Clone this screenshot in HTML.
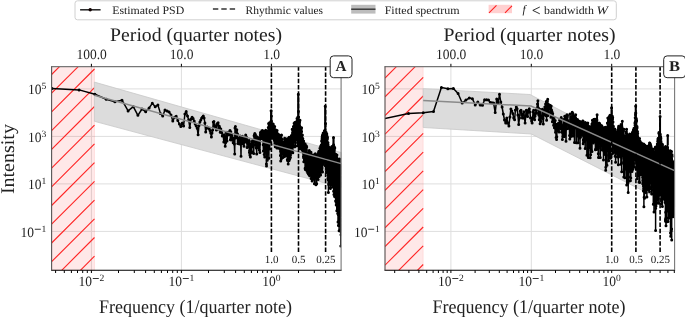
<!DOCTYPE html><html><head><meta charset="utf-8"><style>html,body{margin:0;padding:0;background:#fff;overflow:hidden}svg{display:block}text{font-family:"Liberation Serif",serif;fill:#222}</style></head><body>
<svg width="685" height="317" viewBox="0 0 685 317" style="text-rendering:geometricPrecision;will-change:transform">
<rect width="685" height="317" fill="#fff"/>
<clipPath id="cA"><rect x="51.6" y="66.6" width="289.5" height="203.7"/></clipPath>
<path d="M51.6 88.9H341.1M51.6 136.4H341.1M51.6 183.9H341.1M51.6 231.4H341.1M91.4 66.6V270.3M181.4 66.6V270.3" stroke="#dedede" stroke-width="1" fill="none"/>
<rect x="51.6" y="66.6" width="42.9" height="203.7" fill="#ff0000" fill-opacity="0.09" stroke="#ff0000" stroke-opacity="0.08" stroke-width="1"/>
<path d="M51.6 74.5L59.5 66.6M51.6 93.2L78.2 66.6M51.6 111.9L94.5 69M51.6 130.6L94.5 87.7M51.6 149.4L94.5 106.5M51.6 168.1L94.5 125.2M51.6 186.8L94.5 143.9M51.6 205.5L94.5 162.6M51.6 224.2L94.5 181.3M51.6 243L94.5 200.1M51.6 261.7L94.5 218.8M61.7 270.3L94.5 237.5M80.4 270.3L94.5 256.2" stroke="#ff2828" stroke-width="1.15" fill="none" clip-path="url(#cA)"/>
<path d="M94.4 82.1 L341.1 152.5 L341.1 187.4 L94.4 121.3Z" fill="#dcdcdc" stroke="#c8c8c8" stroke-width="0.8"/>
<g clip-path="url(#cA)">
<path d="M52 88.6L79.1 89.9L94.9 94.2L106.2 99.3L114.9 101.8L122 100.2L128.1 110.9L133.3 106.7L137.9 115.3L142 109L145.7 111.8L149.1 108L152.3 103.3L155.2 106.8L157.9 104.9L160.4 113.4L162.7 116L165 110.1L167.1 111.1L169.1 112L171 114.9L172.8 121L174.6 117.2L176.2 116.3L177.8 120.5L179.4 124L180.8 126.5L182.3 123L183.6 126L184.9 114L186.2 111.5L187.5 116L188.7 120L189.8 127.5L191 119L192.1 117.2L193.1 118.5L194.2 121L195.2 124L196.2 126L197.2 128.2L198.1 134.8L199 125.4L199.9 122L200.8 120L201.7 118L202.5 117L203.3 116L204.1 118L204.9 123L205.7 132L206.4 128L207.2 127L207.9 127.5L208.6 128.2L209.3 129L210 130.4L210.7 133L211.4 137L212 133L212.7 130L213.3 122L213.9 121.6L214.6 126.8L215.2 127.4L215.8 125.7L216.4 130.1L216.9 123.9L217.5 123.2L218.1 122.8L218.6 128.9L219.2 126L219.7 127.5L220.2 132.3L220.8 129L221.3 131.7L221.8 132.8L222.3 135.9L222.8 135.7L223.3 136L223.8 142.1L224.2 134.7L224.7 136.7L225.2 146.3L225.7 142.6L226.1 132.2L226.6 138.6L227 141L227.5 132.6L227.9 135L228.3 132.6L228.7 132.1L229.2 132.5L229.6 134.5L230 130.4L230.4 139.7L230.8 131.7L231.2 139.9L231.6 135L232 135.5L232.4 137.9L232.8 138.2L233.2 142.8L233.5 139.9L233.9 137.9L234.3 144L234.7 154L235 127.9L235.4 126.4L235.7 135.6L236.1 137.9L236.4 131.2L236.8 129.8L237.1 133.5L237.5 133.9L237.8 143.5L238.1 140.9L238.5 138.3L238.8 139L239.1 143.2L239.5 144L239.8 141.4L240.1 136.1L240.4 143.1L240.7 142.1L241 156.3L241.3 138.8L241.7 143.6L242 137.1L242.3 136.2L242.6 143.8L242.9 138L243.2 141L243.4 143.1L243.7 142.4L244 146.2L244.3 138.2L244.6 137.2L244.9 138.5L245.2 141.9L245.4 138.9L245.7 135.1L246 136.5L246.3 140.5L246.5 137.3L246.8 139.6L247.1 147.5L247.3 140.7L247.6 143L247.9 141L248.1 141.4L248.4 142.1L248.6 144.3L248.9 146.7L249.1 140.4L249.4 152.6L249.6 150.7L249.9 155.1L250.1 146.2L250.4 157L250.6 143.7L250.9 145L251.1 152.7L251.3 144.6L251.6 151.4L251.8 141.8L252.1 145.4L252.3 141.3L252.5 145.6L252.7 140.6L253 146.7L253.2 145.3L253.4 140.6L253.7 153.5L253.9 142.3L254.1 135.7L254.3 140L254.5 134.4L254.8 133.5L255 136.4L255.2 142.5L255.4 134.5L255.6 144.1L255.8 145.2L256.1 138.4L256.3 148.1L256.5 147.6L256.7 154.1L256.9 136.7L257.1 140L257.3 144.4L257.5 141.1L257.7 146.1L257.9 144.7L258.1 137.5L258.3 147.3L258.5 139.7L258.7 147.6L258.9 145.6L259.1 141.2L259.3 149.9L259.5 144.3L259.7 140.1L259.9 152.4L260.1 137.8L260.3 134.9L260.4 132.7L260.6 132.9L260.8 132L261 135.6L261.2 136.6L261.4 138.5L261.6 133.1L261.7 131.2L261.9 135.9L262.1 136.7L262.3 130.4L262.5 134L262.6 137.1L262.8 134.9L263 131L263.2 144.8L263.4 151.1L263.5 137.9L263.7 138.9L263.9 131.3L264 139.4L264.2 154.5L264.4 132.3L264.6 141.6L264.7 156.9L264.9 138.7L265.1 140L265.2 131.2L265.4 151L265.6 135.3L265.7 130.3L265.9 152.3L266.1 140L266.2 139.4L266.4 164L266.5 166L266.7 130.8L266.9 145.6L267 148.1L267.2 141.1L267.3 160.2L267.5 131.8L267.7 139L267.8 142.4L268 145.8L268.1 134.9L268.3 127.5L268.4 130.9L268.6 123.6L268.7 140.2L268.9 158.2L269.1 130.3L269.2 132.9L269.4 129.4L269.5 122.7L269.7 148.9L269.8 135.3L270 124.4L270.1 133L270.2 128.4L270.4 132.8L270.5 129.1L270.7 143.2L270.8 129L271 121.2L271.1 110.8L271.3 127.8L271.4 116L271.5 121.2L271.7 123.4L271.8 135.6L272 132.5L272.1 126.7L272.3 136.5L272.4 138.3L272.5 137.3L272.7 129.1L272.8 131.6L272.9 127.4L273.1 138.1L273.2 124L273.4 130.7L273.5 125.5L273.6 126L273.8 128.7L273.9 134L274 134.9L274.2 131.4L274.3 140.6L274.4 134.7L274.6 136.8L274.7 126.5L274.8 143.1L274.9 137.2L275.1 132.3L275.2 146.7L275.3 137.7L275.5 129.7L275.6 142L275.7 135.7L275.8 140.9L276 135.1L276.1 144.1L276.2 140.9L276.4 140.3L276.5 132L276.6 142.1L276.7 133.8L276.9 147.9L277 135.8L277.1 130.6L277.2 136.1L277.3 133.3L277.5 141L277.6 134L277.7 135.7L277.8 134.8L278 142.3L278.1 135.2L278.2 141.6L278.3 134.3L278.4 135.4L278.6 134.5L278.7 148.2L278.8 146.4L278.9 144.1L279 147.7L279.1 135.5L279.3 140.5L279.4 140L279.5 135.4L279.6 140.6L279.7 137.4L279.8 138.8L280 148.1L280.1 141L280.2 138.3L280.3 149.3L280.4 155.5L280.5 147.3L280.6 151.3L280.7 161L280.9 147.2L281 141.1L281.1 146.3L281.2 138.9L281.3 159L281.4 145L281.5 135L281.6 142.5L281.7 150.5L281.9 139.2L282 143.3L282.1 149.1L282.2 146.3L282.3 142.5L282.4 149L282.5 154L282.6 142L282.7 152.7L282.8 143.4L282.9 151.1L283 157.4L283.1 145.6L283.3 145.4L283.4 148.9L283.5 151.3L283.6 142.1L283.7 144.3L283.8 145.3L283.9 143L284 143.5L284.1 143.9L284.2 145.5L284.3 149.9L284.4 152.5L284.5 156.5L284.6 150.1L284.7 138.2L284.8 139.3L284.9 151.7L285 144.7L285.1 149L285.2 140L285.3 146.7L285.4 143.3L285.5 141.1L285.6 146.3L285.7 141L285.8 154.7L285.9 140.7L286 140.9L286.1 155.8L286.2 147.5L286.3 154.2L286.4 144.3L286.5 142.8L286.6 142.9L286.7 143.5L286.8 151.3L286.9 143.7L287 149.4L287.1 150.6L287.2 151.9L287.3 138.7L287.3 159.8L287.4 152.6L287.5 160.6L287.6 145.2L287.7 141.1L287.8 153.2L287.9 159.5L288 153.7L288.1 146.1L288.2 163.9L288.3 153.3L288.4 152L288.5 151.4L288.6 145.1L288.7 152.3L288.7 142.1L288.8 147.2L288.9 140.6L289 160.8L289.1 137.3L289.2 138.9L289.3 146.8L289.4 142L289.5 146.9L289.6 148.1L289.6 143.8L289.7 159.3L289.8 139.8L289.9 149.2L290 153.8L290.1 137.4L290.2 144.1L290.3 157.2L290.4 157.6L290.4 143.4L290.5 155.1L290.6 149.9L290.7 148.2L290.8 145.9L290.9 136.9L291 141.5L291.1 148.6L291.1 152.4L291.2 136.4L291.3 137.9L291.4 135.5L291.5 147.3L291.6 136.8L291.7 137.4L291.7 149.5L291.8 146.6L291.9 145.8L292 143.8L292.1 144.6L292.2 138.7L292.2 129.2L292.3 139.2L292.4 142.2L292.5 145.8L292.6 133.1L292.7 134.4L292.7 140.2L292.8 152.7L292.9 137.8L293 136.6L293.1 145.9L293.2 134.3L293.2 142.3L293.3 130.4L293.4 126.6L293.5 146.7L293.6 132.2L293.6 136L293.7 129.2L293.8 133.7L293.9 141.5L294 127.8L294 130.9L294.1 123.3L294.2 133.6L294.3 135L294.4 140.3L294.4 127.3L294.5 123.3L294.6 129.9L294.7 123.3L294.8 122.4L294.8 139.3L294.9 125.5L295 131L295.1 128.2L295.1 146.8L295.2 134.8L295.3 146.2L295.4 130.2L295.5 129.8L295.5 123.7L295.6 122.3L295.7 134.4L295.8 135.9L295.8 125.7L295.9 128.4L296 129.8L296.1 135.8L296.1 140L296.2 132.9L296.3 132.8L296.4 135.2L296.4 122.7L296.5 130.1L296.6 130.7L296.7 126.8L296.7 131.3L296.8 126L296.9 128.6L297 121.2L297 118.6L297.1 136L297.2 120.5L297.3 137.8L297.3 130.1L297.4 132.2L297.5 142.8L297.6 133.8L297.6 135.3L297.7 145.5L297.8 136.4L297.8 120.8L297.9 117L298 133.6L298.1 118.2L298.1 132.4L298.2 122.8L298.3 94.2L298.4 122L298.4 111.5L298.5 137.2L298.6 134.9L298.6 117.1L298.7 126.1L298.8 124.3L298.9 128.7L298.9 135.9L299 146.7L299.1 138.9L299.1 144.1L299.2 135L299.3 128L299.3 136.3L299.4 139.2L299.5 122L299.6 128.9L299.6 132.5L299.7 148.7L299.8 136.5L299.8 126.3L299.9 127.4L300 120.2L300 140.5L300.1 129.8L300.2 127L300.2 133.7L300.3 138.7L300.4 130.6L300.4 126.9L300.5 137.9L300.6 127.9L300.6 140.9L300.7 127.8L300.8 143.9L300.8 129.9L300.9 140.8L301 129.8L301.1 127.9L301.1 129L301.2 141.9L301.3 147.7L301.3 134.6L301.4 144.4L301.4 136.3L301.5 141.3L301.6 131.5L301.6 127.7L301.7 145.7L301.8 139.2L301.8 138.6L301.9 142.2L302 145.7L302 140.1L302.1 146.6L302.2 148L302.2 149.9L302.3 145.8L302.4 139.2L302.4 135L302.5 149.5L302.6 146.6L302.6 142.6L302.7 147L302.8 148.4L302.8 138.6L302.9 151.1L302.9 145.5L303 151.7L303.1 146.8L303.1 148.2L303.2 151.3L303.3 150.1L303.3 148.1L303.4 156.5L303.4 151.8L303.5 153.5L303.6 157.8L303.6 141.1L303.7 147.7L303.8 161.8L303.8 153.6L303.9 146L303.9 154.7L304 148.6L304.1 144L304.1 156.5L304.2 150.5L304.3 146.3L304.3 148.7L304.4 157.3L304.4 151.2L304.5 152.8L304.6 158.1L304.6 158.6L304.7 150.2L304.7 151.3L304.8 143.8L304.9 149L304.9 149.6L305 152L305 159.7L305.1 168.2L305.2 158.6L305.2 159.7L305.3 144.3L305.3 169.5L305.4 149L305.5 147.1L305.5 159.2L305.6 147.5L305.6 159.8L305.7 161.8L305.8 159.8L305.8 162.1L305.9 161.2L305.9 158.5L306 155.9L306.1 149.8L306.1 154.9L306.2 168L306.2 155.1L306.3 156.2L306.4 146L306.4 155.1L306.5 159L306.5 153.5L306.6 165L306.6 158.8L306.7 147.1L306.8 160L306.8 153.2L306.9 156.9L306.9 164.5L307 171.3L307 156.7L307.1 162.5L307.2 156.2L307.2 158.6L307.3 153.7L307.3 155.9L307.4 153.5L307.4 167.2L307.5 163.8L307.6 154.7L307.6 160L307.7 163.9L307.7 172.7L307.8 159.5L307.8 170.3L307.9 169.7L308 161L308 161.3L308.1 162.9L308.1 162.7L308.2 162.5L308.2 164.4L308.3 153.3L308.3 174L308.4 162.6L308.5 165.9L308.5 161L308.6 156L308.6 156.4L308.7 162.8L308.7 151.5L308.8 151.3L308.8 166.3L308.9 168.5L308.9 151L309 159.6L309.1 152.1L309.1 154.4L309.2 150.5L309.2 174.7L309.3 170L309.3 168.1L309.4 150.9L309.4 155.5L309.5 154.5L309.5 175.8L309.6 168.3L309.7 152.6L309.7 165.4L309.8 170.1L309.8 170.8L309.9 151.4L309.9 175.6L310 153L310 161.3L310.1 174.2L310.1 160.4L310.2 154.4L310.2 159L310.3 164.6L310.3 159.6L310.4 171.3L310.4 163.5L310.5 153L310.6 166.5L310.6 158.8L310.7 172.4L310.7 164.6L310.8 161L310.8 160L310.9 164.8L310.9 169.2L311 152.3L311 171.1L311.1 178.4L311.1 170.8L311.2 158.1L311.2 169.6L311.3 172L311.3 154.3L311.4 169.7L311.4 168.7L311.5 157.6L311.5 167.3L311.6 157.2L311.6 169L311.7 162.8L311.7 170.4L311.8 158L311.8 172.5L311.9 164.4L311.9 165.9L312 157.3L312 161.8L312.1 156.2L312.1 181L312.2 155.4L312.2 170.6L312.3 166.5L312.3 164.8L312.4 175.8L312.4 172.7L312.5 166.1L312.5 170.9L312.6 174.7L312.6 171.9L312.7 159.3L312.7 177.3L312.8 155.4L312.8 179.6L312.9 164L312.9 174.5L313 167.3L313 167L313.1 175.8L313.1 163.2L313.2 157.9L313.2 176.9L313.3 155.2L313.3 162.4L313.4 175.1L313.4 155.4L313.5 170.8L313.5 177.3L313.6 178.6L313.6 176.4L313.7 161.4L313.7 172.2L313.8 162L313.8 157.3L313.9 158.4L313.9 157.8L314 154.7L314 160.7L314.1 175.5L314.1 158.9L314.2 157.9L314.2 175.2L314.2 166.2L314.3 174.9L314.3 170.4L314.4 160.9L314.4 183.7L314.5 159.1L314.5 162L314.6 159.4L314.6 175.8L314.7 159.8L314.7 163.4L314.8 158.5L314.8 157.1L314.9 172L314.9 167.4L315 162.1L315 178.3L315.1 161.4L315.1 155.3L315.1 161.6L315.2 154.2L315.2 162.9L315.3 153.7L315.3 167.8L315.4 165.3L315.4 159.4L315.5 157.3L315.5 174L315.6 158.7L315.6 155.8L315.7 166.6L315.7 158.9L315.7 172.1L315.8 168.7L315.8 155.1L315.9 164.1L315.9 154.8L316 162.1L316 184.8L316.1 176.3L316.1 160.1L316.2 164.3L316.2 164.4L316.2 155.7L316.3 166L316.3 158.4L316.4 174.5L316.4 163L316.5 164.3L316.5 156.9L316.6 177.4L316.6 167.2L316.7 167.7L316.7 183.8L316.7 159.5L316.8 161L316.8 155.9L316.9 171.1L316.9 155.6L317 168.2L317 171L317.1 178.4L317.1 165.8L317.1 156.7L317.2 157.1L317.2 174.1L317.3 167.3L317.3 157.6L317.4 175.8L317.4 163.5L317.5 166L317.5 175.6L317.5 161.5L317.6 161.4L317.6 176.4L317.7 174.7L317.7 173.1L317.8 179.3L317.8 175L317.8 163L317.9 161.6L317.9 154.6L318 164.7L318 174.6L318.1 171.3L318.1 173.2L318.1 179.4L318.2 167.8L318.2 164.2L318.3 166.2L318.3 163.5L318.4 174.5L318.4 157.8L318.4 153L318.5 174.4L318.5 156.6L318.6 163.4L318.6 152.7L318.7 157L318.7 156.7L318.7 151.4L318.8 170.9L318.8 163.8L318.9 154.1L318.9 160.8L319 164.7L319 162.8L319 164.5L319.1 176.5L319.1 155.8L319.2 162L319.2 174.2L319.3 168.8L319.3 151.2L319.3 160.4L319.4 159L319.4 167.6L319.5 154.8L319.5 167.5L319.5 157.4L319.6 165.8L319.6 170.1L319.7 161.7L319.7 167.3L319.8 160.4L319.8 166.3L319.8 151.5L319.9 148.3L319.9 162.9L320 172.5L320 163.5L320 159.5L320.1 166.3L320.1 157.8L320.2 157.6L320.2 167.7L320.2 160.3L320.3 152.3L320.3 151.1L320.4 162L320.4 170.5L320.5 168.4L320.5 171.3L320.5 157.3L320.6 146.2L320.6 175L320.7 169.8L320.7 159.5L320.7 158.8L320.8 163.1L320.8 154.2L320.9 153.8L320.9 162.4L320.9 146.5L321 154.6L321 156.7L321.1 160.4L321.1 152.4L321.1 165.4L321.2 151.3L321.2 165.4L321.3 145L321.3 161.3L321.3 169.7L321.4 153.3L321.4 149.3L321.5 155.3L321.5 145.8L321.5 157.8L321.6 169.1L321.6 141.1L321.7 162.8L321.7 159.8L321.7 170.5L321.8 156.4L321.8 144.6L321.8 155.1L321.9 157.7L321.9 168.1L322 150.3L322 138.9L322 152.4L322.1 155.1L322.1 137L322.2 172.1L322.2 158L322.2 139.9L322.3 137.3L322.3 153.2L322.4 148.6L322.4 135.2L322.4 152.7L322.5 147.7L322.5 141.1L322.5 172L322.6 142.9L322.6 159.8L322.7 152.4L322.7 148.6L322.7 139.9L322.8 156.1L322.8 142L322.9 147.9L322.9 139.6L322.9 143.5L323 164.3L323 144.8L323 134.1L323.1 159.2L323.1 140L323.2 141.2L323.2 132.9L323.2 143L323.3 154.9L323.3 140.5L323.4 135.8L323.4 158.9L323.4 136.7L323.5 155L323.5 162.7L323.5 162.3L323.6 138.7L323.6 135.5L323.7 139.7L323.7 150.2L323.7 139.1L323.8 137.9L323.8 135L323.8 148.5L323.9 155.8L323.9 152L324 140.8L324 133.5L324 133.7L324.1 141.9L324.1 139.8L324.1 140.2L324.2 134.1L324.2 139.1L324.2 159.3L324.3 158.4L324.3 134.1L324.4 130.7L324.4 151.1L324.4 142.9L324.5 152.1L324.5 156.8L324.5 149.7L324.6 133.1L324.6 152.9L324.7 130.6L324.7 162.2L324.7 138.9L324.8 130.4L324.8 149.5L324.8 155.8L324.9 151.8L324.9 142.8L324.9 140L325 165.4L325 149.1L325.1 138.6L325.1 154.3L325.1 157.8L325.2 133.9L325.2 106.3L325.2 155.1L325.3 133.8L325.3 143.3L325.3 151.1L325.4 155.2L325.4 144.3L325.4 151.7L325.5 123.4L325.5 135.2L325.6 132.8L325.6 155.5L325.6 148L325.7 150.8L325.7 139.4L325.7 142.8L325.8 138.2L325.8 136.4L325.8 152.6L325.9 139.8L325.9 146.1L325.9 143.4L326 159.8L326 148.3L326.1 135.7L326.1 150.3L326.1 156.1L326.2 134.2L326.2 142.6L326.2 132.5L326.3 137.3L326.3 146L326.3 142L326.4 143.5L326.4 133.6L326.4 171.8L326.5 134.4L326.5 165.4L326.5 135.6L326.6 147L326.6 150.9L326.6 172.5L326.7 154.2L326.7 155.2L326.7 141.3L326.8 133.9L326.8 162.2L326.9 139.7L326.9 162.8L326.9 139.5L327 162.6L327 145.3L327 153.5L327.1 163.6L327.1 136.2L327.1 157.1L327.2 160.2L327.2 169.1L327.2 153.5L327.3 146.6L327.3 139L327.3 142.2L327.4 171.9L327.4 138.2L327.4 144L327.5 137.2L327.5 169.2L327.5 153.5L327.6 162.6L327.6 153.9L327.6 154.8L327.7 169.9L327.7 144.9L327.7 155.9L327.8 152.5L327.8 142.5L327.8 157.4L327.9 175.3L327.9 178.3L327.9 164.6L328 142.7L328 178.7L328 167.7L328.1 156.6L328.1 145.1L328.1 169.9L328.2 147.7L328.2 158.8L328.2 160.8L328.3 166.8L328.3 149.7L328.3 180.1L328.4 150.1L328.4 192.6L328.4 166.7L328.5 165.1L328.5 154.9L328.5 150.5L328.6 169L328.6 162L328.6 163.2L328.7 167.6L328.7 175.5L328.7 184.5L328.8 150.3L328.8 161.5L328.8 183.4L328.9 176.3L328.9 176.3L328.9 155.7L329 147.3L329 162.7L329 170.2L329.1 168L329.1 179.9L329.1 175L329.2 175.7L329.2 178.1L329.2 160.8L329.3 182.8L329.3 148.3L329.3 150.5L329.4 177.3L329.4 181.9L329.4 156.5L329.5 163.8L329.5 168.9L329.5 147.7L329.6 177.2L329.6 167.9L329.6 172.9L329.7 152.5L329.7 167.4L329.7 177.5L329.7 147.7L329.8 152.9L329.8 179.9L329.8 148.7L329.9 177.9L329.9 162.1L329.9 153.4L330 162.1L330 156.8L330 170.1L330.1 155.2L330.1 165.8L330.1 163L330.2 149.6L330.2 161.1L330.2 187.8L330.3 151.1L330.3 173L330.3 159.1L330.4 158.8L330.4 168.1L330.4 184.3L330.4 188.5L330.5 180.1L330.5 171.8L330.5 162.4L330.6 177.4L330.6 182.4L330.6 160.5L330.7 175.5L330.7 171.9L330.7 169L330.8 152.2L330.8 161.3L330.8 166.7L330.9 158.6L330.9 162.2L330.9 150.6L330.9 165.8L331 169.8L331 158.8L331 167.8L331.1 160L331.1 169L331.1 154.1L331.2 183.9L331.2 176.1L331.2 179.5L331.3 165.4L331.3 157.8L331.3 148.5L331.3 157.4L331.4 155.5L331.4 154.8L331.4 179.2L331.5 154.5L331.5 182.8L331.5 150L331.6 179.4L331.6 152L331.6 166.8L331.7 170.5L331.7 154.6L331.7 174.4L331.7 161.6L331.8 159L331.8 161.8L331.8 169.6L331.9 164.6L331.9 155.7L331.9 146.5L332 167L332 147.9L332 153L332.1 174.7L332.1 176.4L332.1 166.5L332.1 167L332.2 168.6L332.2 173.5L332.2 172.4L332.3 174.6L332.3 174.4L332.3 162.9L332.4 165.3L332.4 151.2L332.4 185.6L332.4 174.1L332.5 181.8L332.5 173.4L332.5 147.1L332.6 148.2L332.6 165.9L332.6 179.7L332.7 151.2L332.7 172.3L332.7 151.5L332.7 187.1L332.8 180.9L332.8 168.4L332.8 174.2L332.9 156.9L332.9 149L332.9 147.4L332.9 159.5L333 147.1L333 167.4L333 153.7L333.1 160.2L333.1 151.7L333.1 167.9L333.2 181L333.2 165.3L333.2 176.4L333.2 154.1L333.3 175.2L333.3 156.6L333.3 178.1L333.4 170.2L333.4 161.4L333.4 178.3L333.4 178.5L333.5 174.5L333.5 137.6L333.5 183.4L333.6 144.8L333.6 183L333.6 191.3L333.6 173.9L333.7 151.2L333.7 148.2L333.7 181.9L333.8 180.6L333.8 146.4L333.8 177.4L333.9 146.9L333.9 154.9L333.9 149.9L333.9 194.4L334 181.9L334 166.1L334 150L334.1 165.6L334.1 159.4L334.1 184.4L334.1 153.6L334.2 183.2L334.2 156.5L334.2 156.3L334.3 146.7L334.3 163L334.3 161.1L334.3 195.2L334.4 169.6L334.4 176.3L334.4 184.7L334.5 163.6L334.5 164.7L334.5 163.4L334.5 164.6L334.6 191.3L334.6 196.5L334.6 158.2L334.7 163.8L334.7 155.9L334.7 185.3L334.7 188.6L334.8 179.1L334.8 177.1L334.8 162.2L334.8 147.9L334.9 187.4L334.9 175.5L334.9 159.2L335 183L335 181.8L335 165L335 175.2L335.1 178.5L335.1 192.2L335.1 183.9L335.2 173L335.2 157.9L335.2 175.8L335.2 176L335.3 162.9L335.3 190.1L335.3 181.9L335.4 193.9L335.4 154.5L335.4 191.5L335.4 158.5L335.5 164.7L335.5 169.9L335.5 177.8L335.5 157.3L335.6 200.9L335.6 174.8L335.6 191.8L335.7 160.6L335.7 171.2L335.7 165L335.7 170.1L335.8 154.3L335.8 181.8L335.8 162.4L335.8 167.3L335.9 165.8L335.9 158.3L335.9 197.2L336 175.3L336 185.3L336 190.3L336 174.8L336.1 195.8L336.1 173.9L336.1 202.2L336.2 204.9L336.2 173.5L336.2 171.4L336.2 194.2L336.3 182.1L336.3 202.4L336.3 155.5L336.3 179.1L336.4 199.5L336.4 179.9L336.4 178.1L336.4 182.1L336.5 190.9L336.5 176.3L336.5 191.6L336.6 196.7L336.6 160.9L336.6 158.7L336.6 160.1L336.7 196.3L336.7 157.6L336.7 194.2L336.7 157.7L336.8 178.1L336.8 210.7L336.8 203.8L336.9 173.6L336.9 155.1L336.9 170.4L336.9 172.6L337 203.8L337 184.1L337 200.9L337 170L337.1 158.4L337.1 176.8L337.1 183.5L337.1 176.5L337.2 167.1L337.2 187.7L337.2 173.8L337.3 179.4L337.3 174.5L337.3 202L337.3 197.2L337.4 190.4L337.4 210.5L337.4 207.4L337.4 181.4L337.5 158.9L337.5 160.2L337.5 166.7L337.5 189.3L337.6 185.7L337.6 196.3L337.6 168.8L337.6 164.9L337.7 168.6L337.7 162L337.7 213.5L337.8 196L337.8 211L337.8 165.8L337.8 198.6L337.9 207.2L337.9 170.7L337.9 176L337.9 166L338 176.4L338 165.9L338 222L338 173L338.1 165.6L338.1 202.2L338.1 199.4L338.1 208L338.2 213.6L338.2 214.5L338.2 177.1L338.2 203.7L338.3 214.1L338.3 188.5L338.3 195L338.3 165.6L338.4 176.2L338.4 209.5L338.4 214.1L338.4 225.4L338.5 180.6L338.5 198.7L338.5 180L338.6 175L338.6 171.1L338.6 178L338.6 193.2L338.7 192.8L338.7 195.4L338.7 162.8L338.7 166.5L338.8 168.5L338.8 181.4L338.8 199.5L338.8 170.8L338.9 180.3L338.9 211.9L338.9 169.7L338.9 212.3L339 190L339 167.9L339 180.6L339 182.8L339.1 165.8L339.1 211.8L339.1 213L339.1 230.8L339.2 206.9L339.2 200.7L339.2 204.5L339.2 174.5L339.3 224.6L339.3 176.2L339.3 163.4L339.3 172.7L339.4 206.8L339.4 162.1L339.4 195.5L339.4 160.8L339.5 201.6L339.5 179.8L339.5 187.5L339.5 159.1L339.6 184.6L339.6 164.1L339.6 205.4L339.6 168.2L339.7 167.6L339.7 172.8L339.7 221.8L339.7 210.1L339.8 191.1L339.8 218.1L339.8 200.5L339.8 200L339.9 210.8L339.9 206.4L339.9 169.7L339.9 203.8L340 168L340 221.9L340 200.6L340 215.6L340.1 218.7L340.1 224.6L340.1 223.9L340.1 225.6L340.2 179.9L340.2 178.7L340.2 193.4L340.2 195.7L340.3 208.4L340.3 189.5L340.3 215.8L340.3 225.8L340.4 190.8L340.4 207.1L340.4 186.6L340.4 219.7L340.5 164.6L340.5 165.4L340.5 218.7L340.5 205L340.5 187L340.6 188.4L340.6 206.5L340.6 170.5L340.6 212.1L340.7 209.3L340.7 172.8L340.7 167.4L340.7 177.1L340.8 229.4L340.8 246L340.8 205.9L340.8 191.3L340.9 229.3L340.9 231.5L340.9 220.9L340.9 200.4L341 234.7L341 195.5L341 201.6L341 199L341.1 227.4L341.1 209.5L341.1 206.6L341.1 229.5L341.2 209.1L341.2 189.6L341.2 210.2L341.2 198L341.2 230.7L341.3 221L341.3 202L341.3 215.3L341.3 213.8L341.4 166.2L341.4 173.2L341.4 224.9L341.4 204.1L341.5 167L341.5 215L341.5 183.1L341.5 183.8L341.6 192.7L341.6 208.3" stroke="#000" stroke-width="1.5" fill="none" stroke-linejoin="round"/>
<path d="M52 88.6h0M79.1 89.9h0M94.9 94.2h0M106.2 99.3h0M114.9 101.8h0M122 100.2h0M128.1 110.9h0M133.3 106.7h0M137.9 115.3h0M142 109h0M145.7 111.8h0M149.1 108h0M152.3 103.3h0M155.2 106.8h0M157.9 104.9h0M160.4 113.4h0M162.7 116h0M165 110.1h0M167.1 111.1h0M169.1 112h0M171 114.9h0M172.8 121h0M174.6 117.2h0M176.2 116.3h0M177.8 120.5h0M179.4 124h0M180.8 126.5h0M182.3 123h0M183.6 126h0M184.9 114h0M186.2 111.5h0M187.5 116h0M188.7 120h0M189.8 127.5h0M191 119h0M192.1 117.2h0M193.1 118.5h0M194.2 121h0M195.2 124h0M196.2 126h0M197.2 128.2h0M198.1 134.8h0M199 125.4h0M199.9 122h0M200.8 120h0M201.7 118h0M202.5 117h0M203.3 116h0M204.1 118h0M204.9 123h0M205.7 132h0M206.4 128h0M207.2 127h0M207.9 127.5h0M208.6 128.2h0M209.3 129h0M210 130.4h0M210.7 133h0M211.4 137h0M212 133h0M212.7 130h0M213.3 122h0M213.9 121.6h0M214.6 126.8h0M215.2 127.4h0M215.8 125.7h0M216.4 130.1h0M216.9 123.9h0M217.5 123.2h0M218.1 122.8h0M218.6 128.9h0M219.2 126h0M219.7 127.5h0M220.2 132.3h0M220.8 129h0M221.3 131.7h0M221.8 132.8h0M222.3 135.9h0M222.8 135.7h0M223.3 136h0M223.8 142.1h0M224.2 134.7h0M224.7 136.7h0M225.2 146.3h0M225.7 142.6h0M226.1 132.2h0M226.6 138.6h0M227 141h0M227.5 132.6h0M227.9 135h0M228.3 132.6h0M228.7 132.1h0M229.2 132.5h0M229.6 134.5h0M230 130.4h0M230.4 139.7h0M230.8 131.7h0M231.2 139.9h0M231.6 135h0M232 135.5h0M232.4 137.9h0M232.8 138.2h0M233.2 142.8h0M233.5 139.9h0M233.9 137.9h0M234.3 144h0M234.7 154h0M235 127.9h0M235.4 126.4h0M235.7 135.6h0M236.1 137.9h0M236.4 131.2h0M236.8 129.8h0M237.1 133.5h0M237.5 133.9h0M237.8 143.5h0M238.1 140.9h0M238.5 138.3h0M238.8 139h0M239.1 143.2h0M239.5 144h0M239.8 141.4h0M240.1 136.1h0M240.4 143.1h0M240.7 142.1h0M241 156.3h0M241.3 138.8h0M241.7 143.6h0M242 137.1h0M242.3 136.2h0M242.6 143.8h0M242.9 138h0M243.2 141h0M243.4 143.1h0M243.7 142.4h0M244 146.2h0M244.3 138.2h0M244.6 137.2h0M244.9 138.5h0M245.2 141.9h0M245.4 138.9h0M245.7 135.1h0M246 136.5h0M246.3 140.5h0M246.5 137.3h0M246.8 139.6h0M247.1 147.5h0M247.3 140.7h0M247.6 143h0M247.9 141h0M248.1 141.4h0M248.4 142.1h0M248.6 144.3h0M248.9 146.7h0M249.1 140.4h0M249.4 152.6h0M249.6 150.7h0M249.9 155.1h0M250.1 146.2h0M250.4 157h0M250.6 143.7h0M250.9 145h0M251.1 152.7h0M251.3 144.6h0M251.6 151.4h0M251.8 141.8h0M252.1 145.4h0M252.3 141.3h0M252.5 145.6h0M252.7 140.6h0M253 146.7h0M253.2 145.3h0M253.4 140.6h0M253.7 153.5h0M253.9 142.3h0M254.1 135.7h0M254.3 140h0M254.5 134.4h0M254.8 133.5h0M255 136.4h0M255.2 142.5h0M255.4 134.5h0M255.6 144.1h0M255.8 145.2h0M256.1 138.4h0M256.3 148.1h0M256.5 147.6h0M256.7 154.1h0M256.9 136.7h0M257.1 140h0M257.3 144.4h0M257.5 141.1h0M257.7 146.1h0M257.9 144.7h0M258.1 137.5h0M258.3 147.3h0M258.5 139.7h0M258.7 147.6h0M258.9 145.6h0M259.1 141.2h0M259.3 149.9h0M259.5 144.3h0M259.7 140.1h0M259.9 152.4h0M260.1 137.8h0M260.3 134.9h0M260.4 132.7h0M260.6 132.9h0M260.8 132h0M261 135.6h0M261.2 136.6h0M261.4 138.5h0M261.6 133.1h0M261.7 131.2h0M261.9 135.9h0M262.1 136.7h0M262.3 130.4h0M262.5 134h0M262.6 137.1h0M262.8 134.9h0M263 131h0M263.2 144.8h0M263.4 151.1h0M263.5 137.9h0M263.7 138.9h0M263.9 131.3h0M264 139.4h0M264.2 154.5h0M264.4 132.3h0M264.6 141.6h0M264.7 156.9h0M264.9 138.7h0M265.1 140h0M265.2 131.2h0M265.4 151h0M265.6 135.3h0M265.7 130.3h0M265.9 152.3h0M266.1 140h0M266.2 139.4h0M266.4 164h0M266.5 166h0M266.7 130.8h0M266.9 145.6h0M267 148.1h0M267.2 141.1h0M267.3 160.2h0M267.5 131.8h0M267.7 139h0M267.8 142.4h0M268 145.8h0M268.1 134.9h0M268.3 127.5h0M268.4 130.9h0M268.6 123.6h0M268.7 140.2h0M268.9 158.2h0M269.1 130.3h0M269.2 132.9h0M269.4 129.4h0M269.5 122.7h0M269.7 148.9h0M269.8 135.3h0M270 124.4h0M270.1 133h0M270.2 128.4h0M270.4 132.8h0M270.5 129.1h0M270.7 143.2h0M270.8 129h0M271 121.2h0M271.1 110.8h0M271.3 127.8h0M271.4 116h0M271.5 121.2h0M271.7 123.4h0M271.8 135.6h0M272 132.5h0M272.1 126.7h0M272.3 136.5h0M272.4 138.3h0M272.5 137.3h0M272.7 129.1h0M272.8 131.6h0M272.9 127.4h0M273.1 138.1h0M273.2 124h0M273.4 130.7h0M273.5 125.5h0M273.6 126h0M273.8 128.7h0M273.9 134h0M274 134.9h0M274.2 131.4h0M274.3 140.6h0M274.4 134.7h0M274.6 136.8h0M274.7 126.5h0M274.8 143.1h0M274.9 137.2h0M275.1 132.3h0M275.2 146.7h0M275.3 137.7h0M275.5 129.7h0M275.6 142h0M275.7 135.7h0M275.8 140.9h0M276 135.1h0M276.1 144.1h0M276.2 140.9h0M276.4 140.3h0M276.5 132h0M276.6 142.1h0M276.7 133.8h0M276.9 147.9h0M277 135.8h0M277.1 130.6h0M277.2 136.1h0M277.3 133.3h0M277.5 141h0M277.6 134h0M277.7 135.7h0M277.8 134.8h0M278 142.3h0M278.1 135.2h0M278.2 141.6h0M278.3 134.3h0M278.4 135.4h0M278.6 134.5h0M278.7 148.2h0M278.8 146.4h0M278.9 144.1h0M279 147.7h0M279.1 135.5h0M279.3 140.5h0M279.4 140h0M279.5 135.4h0M279.6 140.6h0M279.7 137.4h0M279.8 138.8h0M280 148.1h0M280.1 141h0M280.2 138.3h0M280.3 149.3h0M280.4 155.5h0M280.5 147.3h0M280.6 151.3h0M280.7 161h0M280.9 147.2h0M281 141.1h0M281.1 146.3h0M281.2 138.9h0M281.3 159h0M281.4 145h0M281.5 135h0M281.6 142.5h0M281.7 150.5h0M281.9 139.2h0M282 143.3h0M282.1 149.1h0M282.2 146.3h0M282.3 142.5h0M282.4 149h0M282.5 154h0M282.6 142h0M282.7 152.7h0M282.8 143.4h0M282.9 151.1h0M283 157.4h0M283.1 145.6h0M283.3 145.4h0M283.4 148.9h0M283.5 151.3h0M283.6 142.1h0M283.7 144.3h0M283.8 145.3h0M283.9 143h0M284 143.5h0M284.1 143.9h0M284.2 145.5h0M284.3 149.9h0M284.4 152.5h0M284.5 156.5h0M284.6 150.1h0M284.7 138.2h0M284.8 139.3h0M284.9 151.7h0M285 144.7h0M285.1 149h0M285.2 140h0M285.3 146.7h0M285.4 143.3h0M285.5 141.1h0M285.6 146.3h0M285.7 141h0M285.8 154.7h0M285.9 140.7h0M286 140.9h0M286.1 155.8h0M286.2 147.5h0M286.3 154.2h0M286.4 144.3h0M286.5 142.8h0M286.6 142.9h0M286.7 143.5h0M286.8 151.3h0M286.9 143.7h0M287 149.4h0M287.1 150.6h0M287.2 151.9h0M287.3 138.7h0M287.3 159.8h0M287.4 152.6h0M287.5 160.6h0M287.6 145.2h0M287.7 141.1h0M287.8 153.2h0M287.9 159.5h0M288 153.7h0M288.1 146.1h0M288.2 163.9h0M288.3 153.3h0M288.4 152h0M288.5 151.4h0M288.6 145.1h0M288.7 152.3h0M288.7 142.1h0M288.8 147.2h0M288.9 140.6h0M289 160.8h0M289.1 137.3h0M289.2 138.9h0M289.3 146.8h0M289.4 142h0M289.5 146.9h0M289.6 148.1h0M289.6 143.8h0M289.7 159.3h0M289.8 139.8h0M289.9 149.2h0M290 153.8h0M290.1 137.4h0M290.2 144.1h0M290.3 157.2h0M290.4 157.6h0M290.4 143.4h0M290.5 155.1h0M290.6 149.9h0M290.7 148.2h0M290.8 145.9h0M290.9 136.9h0M291 141.5h0M291.1 148.6h0M291.1 152.4h0M291.2 136.4h0M291.3 137.9h0M291.4 135.5h0M291.5 147.3h0M291.6 136.8h0M291.7 137.4h0M291.7 149.5h0M291.8 146.6h0M291.9 145.8h0M292 143.8h0M292.1 144.6h0M292.2 138.7h0M292.2 129.2h0M292.3 139.2h0M292.4 142.2h0M292.5 145.8h0M292.6 133.1h0M292.7 134.4h0M292.7 140.2h0M292.8 152.7h0M292.9 137.8h0M293 136.6h0M293.1 145.9h0M293.2 134.3h0M293.2 142.3h0M293.3 130.4h0M293.4 126.6h0M293.5 146.7h0M293.6 132.2h0M293.6 136h0M293.7 129.2h0M293.8 133.7h0M293.9 141.5h0M294 127.8h0M294 130.9h0M294.1 123.3h0M294.2 133.6h0M294.3 135h0M294.4 140.3h0M294.4 127.3h0M294.5 123.3h0M294.6 129.9h0M294.7 123.3h0M294.8 122.4h0M294.8 139.3h0M294.9 125.5h0M295 131h0M295.1 128.2h0M295.1 146.8h0M295.2 134.8h0M295.3 146.2h0M295.4 130.2h0M295.5 129.8h0M295.5 123.7h0M295.6 122.3h0M295.7 134.4h0M295.8 135.9h0M295.8 125.7h0M295.9 128.4h0M296 129.8h0M296.1 135.8h0M296.1 140h0M296.2 132.9h0M296.3 132.8h0M296.4 135.2h0M296.4 122.7h0M296.5 130.1h0M296.6 130.7h0M296.7 126.8h0M296.7 131.3h0M296.8 126h0M296.9 128.6h0M297 121.2h0M297 118.6h0M297.1 136h0M297.2 120.5h0M297.3 137.8h0M297.3 130.1h0M297.4 132.2h0M297.5 142.8h0M297.6 133.8h0M297.6 135.3h0M297.7 145.5h0M297.8 136.4h0M297.8 120.8h0M297.9 117h0M298 133.6h0M298.1 118.2h0M298.1 132.4h0M298.2 122.8h0M298.3 94.2h0M298.4 122h0M298.4 111.5h0M298.5 137.2h0M298.6 134.9h0M298.6 117.1h0M298.7 126.1h0M298.8 124.3h0M298.9 128.7h0M298.9 135.9h0M299 146.7h0M299.1 138.9h0M299.1 144.1h0M299.2 135h0M299.3 128h0M299.3 136.3h0M299.4 139.2h0M299.5 122h0M299.6 128.9h0M299.6 132.5h0M299.7 148.7h0M299.8 136.5h0M299.8 126.3h0M299.9 127.4h0M300 120.2h0M300 140.5h0M300.1 129.8h0M300.2 127h0M300.2 133.7h0M300.3 138.7h0M300.4 130.6h0M300.4 126.9h0M300.5 137.9h0M300.6 127.9h0M300.6 140.9h0M300.7 127.8h0M300.8 143.9h0M300.8 129.9h0M300.9 140.8h0M301 129.8h0M301.1 127.9h0M301.1 129h0M301.2 141.9h0M301.3 147.7h0M301.3 134.6h0M301.4 144.4h0M301.4 136.3h0M301.5 141.3h0M301.6 131.5h0M301.6 127.7h0M301.7 145.7h0M301.8 139.2h0M301.8 138.6h0M301.9 142.2h0M302 145.7h0M302 140.1h0M302.1 146.6h0M302.2 148h0M302.2 149.9h0M302.3 145.8h0M302.4 139.2h0M302.4 135h0M302.5 149.5h0M302.6 146.6h0M302.6 142.6h0M302.7 147h0M302.8 148.4h0M302.8 138.6h0M302.9 151.1h0M302.9 145.5h0M303 151.7h0M303.1 146.8h0M303.1 148.2h0M303.2 151.3h0M303.3 150.1h0M303.3 148.1h0M303.4 156.5h0M303.4 151.8h0M303.5 153.5h0M303.6 157.8h0M303.6 141.1h0M303.7 147.7h0M303.8 161.8h0M303.8 153.6h0M303.9 146h0M303.9 154.7h0M304 148.6h0M304.1 144h0M304.1 156.5h0M304.2 150.5h0M304.3 146.3h0M304.3 148.7h0M304.4 157.3h0M304.4 151.2h0M304.5 152.8h0M304.6 158.1h0M304.6 158.6h0M304.7 150.2h0M304.7 151.3h0M304.8 143.8h0M304.9 149h0M304.9 149.6h0M305 152h0M305 159.7h0M305.1 168.2h0M305.2 158.6h0M305.2 159.7h0M305.3 144.3h0M305.3 169.5h0M305.4 149h0M305.5 147.1h0M305.5 159.2h0M305.6 147.5h0M305.6 159.8h0M305.7 161.8h0M305.8 159.8h0M305.8 162.1h0M305.9 161.2h0M305.9 158.5h0M306 155.9h0M306.1 149.8h0M306.1 154.9h0M306.2 168h0M306.2 155.1h0M306.3 156.2h0M306.4 146h0M306.4 155.1h0M306.5 159h0M306.5 153.5h0M306.6 165h0M306.6 158.8h0M306.7 147.1h0M306.8 160h0M306.8 153.2h0M306.9 156.9h0M306.9 164.5h0M307 171.3h0M307 156.7h0M307.1 162.5h0M307.2 156.2h0M307.2 158.6h0M307.3 153.7h0M307.3 155.9h0M307.4 153.5h0M307.4 167.2h0M307.5 163.8h0M307.6 154.7h0M307.6 160h0M307.7 163.9h0M307.7 172.7h0M307.8 159.5h0M307.8 170.3h0M307.9 169.7h0M308 161h0M308 161.3h0M308.1 162.9h0M308.1 162.7h0M308.2 162.5h0M308.2 164.4h0M308.3 153.3h0M308.3 174h0M308.4 162.6h0M308.5 165.9h0M308.5 161h0M308.6 156h0M308.6 156.4h0M308.7 162.8h0M308.7 151.5h0M308.8 151.3h0M308.8 166.3h0M308.9 168.5h0M308.9 151h0M309 159.6h0M309.1 152.1h0M309.1 154.4h0M309.2 150.5h0M309.2 174.7h0M309.3 170h0M309.3 168.1h0M309.4 150.9h0M309.4 155.5h0M309.5 154.5h0M309.5 175.8h0M309.6 168.3h0M309.7 152.6h0M309.7 165.4h0M309.8 170.1h0M309.8 170.8h0M309.9 151.4h0M309.9 175.6h0M310 153h0M310 161.3h0M310.1 174.2h0M310.1 160.4h0M310.2 154.4h0M310.2 159h0M310.3 164.6h0M310.3 159.6h0M310.4 171.3h0M310.4 163.5h0M310.5 153h0M310.6 166.5h0M310.6 158.8h0M310.7 172.4h0M310.7 164.6h0M310.8 161h0M310.8 160h0M310.9 164.8h0M310.9 169.2h0M311 152.3h0M311 171.1h0M311.1 178.4h0M311.1 170.8h0M311.2 158.1h0M311.2 169.6h0M311.3 172h0M311.3 154.3h0M311.4 169.7h0M311.4 168.7h0M311.5 157.6h0M311.5 167.3h0M311.6 157.2h0M311.6 169h0M311.7 162.8h0M311.7 170.4h0M311.8 158h0M311.8 172.5h0M311.9 164.4h0M311.9 165.9h0M312 157.3h0M312 161.8h0M312.1 156.2h0M312.1 181h0M312.2 155.4h0M312.2 170.6h0M312.3 166.5h0M312.3 164.8h0M312.4 175.8h0M312.4 172.7h0M312.5 166.1h0M312.5 170.9h0M312.6 174.7h0M312.6 171.9h0M312.7 159.3h0M312.7 177.3h0M312.8 155.4h0M312.8 179.6h0M312.9 164h0M312.9 174.5h0M313 167.3h0M313 167h0M313.1 175.8h0M313.1 163.2h0M313.2 157.9h0M313.2 176.9h0M313.3 155.2h0M313.3 162.4h0M313.4 175.1h0M313.4 155.4h0M313.5 170.8h0M313.5 177.3h0M313.6 178.6h0M313.6 176.4h0M313.7 161.4h0M313.7 172.2h0M313.8 162h0M313.8 157.3h0M313.9 158.4h0M313.9 157.8h0M314 154.7h0M314 160.7h0M314.1 175.5h0M314.1 158.9h0M314.2 157.9h0M314.2 175.2h0M314.2 166.2h0M314.3 174.9h0M314.3 170.4h0M314.4 160.9h0M314.4 183.7h0M314.5 159.1h0M314.5 162h0M314.6 159.4h0M314.6 175.8h0M314.7 159.8h0M314.7 163.4h0M314.8 158.5h0M314.8 157.1h0M314.9 172h0M314.9 167.4h0M315 162.1h0M315 178.3h0M315.1 161.4h0M315.1 155.3h0M315.1 161.6h0M315.2 154.2h0M315.2 162.9h0M315.3 153.7h0M315.3 167.8h0M315.4 165.3h0M315.4 159.4h0M315.5 157.3h0M315.5 174h0M315.6 158.7h0M315.6 155.8h0M315.7 166.6h0M315.7 158.9h0M315.7 172.1h0M315.8 168.7h0M315.8 155.1h0M315.9 164.1h0M315.9 154.8h0M316 162.1h0M316 184.8h0M316.1 176.3h0M316.1 160.1h0M316.2 164.3h0M316.2 164.4h0M316.2 155.7h0M316.3 166h0M316.3 158.4h0M316.4 174.5h0M316.4 163h0M316.5 164.3h0M316.5 156.9h0M316.6 177.4h0M316.6 167.2h0M316.7 167.7h0M316.7 183.8h0M316.7 159.5h0M316.8 161h0M316.8 155.9h0M316.9 171.1h0M316.9 155.6h0M317 168.2h0M317 171h0M317.1 178.4h0M317.1 165.8h0M317.1 156.7h0M317.2 157.1h0M317.2 174.1h0M317.3 167.3h0M317.3 157.6h0M317.4 175.8h0M317.4 163.5h0M317.5 166h0M317.5 175.6h0M317.5 161.5h0M317.6 161.4h0M317.6 176.4h0M317.7 174.7h0M317.7 173.1h0M317.8 179.3h0M317.8 175h0M317.8 163h0M317.9 161.6h0M317.9 154.6h0M318 164.7h0M318 174.6h0M318.1 171.3h0M318.1 173.2h0M318.1 179.4h0M318.2 167.8h0M318.2 164.2h0M318.3 166.2h0M318.3 163.5h0M318.4 174.5h0M318.4 157.8h0M318.4 153h0M318.5 174.4h0M318.5 156.6h0M318.6 163.4h0M318.6 152.7h0M318.7 157h0M318.7 156.7h0M318.7 151.4h0M318.8 170.9h0M318.8 163.8h0M318.9 154.1h0M318.9 160.8h0M319 164.7h0M319 162.8h0M319 164.5h0M319.1 176.5h0M319.1 155.8h0M319.2 162h0M319.2 174.2h0M319.3 168.8h0M319.3 151.2h0M319.3 160.4h0M319.4 159h0M319.4 167.6h0M319.5 154.8h0M319.5 167.5h0M319.5 157.4h0M319.6 165.8h0M319.6 170.1h0M319.7 161.7h0M319.7 167.3h0M319.8 160.4h0M319.8 166.3h0M319.8 151.5h0M319.9 148.3h0M319.9 162.9h0M320 172.5h0M320 163.5h0M320 159.5h0M320.1 166.3h0M320.1 157.8h0M320.2 157.6h0M320.2 167.7h0M320.2 160.3h0M320.3 152.3h0M320.3 151.1h0M320.4 162h0M320.4 170.5h0M320.5 168.4h0M320.5 171.3h0M320.5 157.3h0M320.6 146.2h0M320.6 175h0M320.7 169.8h0M320.7 159.5h0M320.7 158.8h0M320.8 163.1h0M320.8 154.2h0M320.9 153.8h0M320.9 162.4h0M320.9 146.5h0M321 154.6h0M321 156.7h0M321.1 160.4h0M321.1 152.4h0M321.1 165.4h0M321.2 151.3h0M321.2 165.4h0M321.3 145h0M321.3 161.3h0M321.3 169.7h0M321.4 153.3h0M321.4 149.3h0M321.5 155.3h0M321.5 145.8h0M321.5 157.8h0M321.6 169.1h0M321.6 141.1h0M321.7 162.8h0M321.7 159.8h0M321.7 170.5h0M321.8 156.4h0M321.8 144.6h0M321.8 155.1h0M321.9 157.7h0M321.9 168.1h0M322 150.3h0M322 138.9h0M322 152.4h0M322.1 155.1h0M322.1 137h0M322.2 172.1h0M322.2 158h0M322.2 139.9h0M322.3 137.3h0M322.3 153.2h0M322.4 148.6h0M322.4 135.2h0M322.4 152.7h0M322.5 147.7h0M322.5 141.1h0M322.5 172h0M322.6 142.9h0M322.6 159.8h0M322.7 152.4h0M322.7 148.6h0M322.7 139.9h0M322.8 156.1h0M322.8 142h0M322.9 147.9h0M322.9 139.6h0M322.9 143.5h0M323 164.3h0M323 144.8h0M323 134.1h0M323.1 159.2h0M323.1 140h0M323.2 141.2h0M323.2 132.9h0M323.2 143h0M323.3 154.9h0M323.3 140.5h0M323.4 135.8h0M323.4 158.9h0M323.4 136.7h0M323.5 155h0M323.5 162.7h0M323.5 162.3h0M323.6 138.7h0M323.6 135.5h0M323.7 139.7h0M323.7 150.2h0M323.7 139.1h0M323.8 137.9h0M323.8 135h0M323.8 148.5h0M323.9 155.8h0M323.9 152h0M324 140.8h0M324 133.5h0M324 133.7h0M324.1 141.9h0M324.1 139.8h0M324.1 140.2h0M324.2 134.1h0M324.2 139.1h0M324.2 159.3h0M324.3 158.4h0M324.3 134.1h0M324.4 130.7h0M324.4 151.1h0M324.4 142.9h0M324.5 152.1h0M324.5 156.8h0M324.5 149.7h0M324.6 133.1h0M324.6 152.9h0M324.7 130.6h0M324.7 162.2h0M324.7 138.9h0M324.8 130.4h0M324.8 149.5h0M324.8 155.8h0M324.9 151.8h0M324.9 142.8h0M324.9 140h0M325 165.4h0M325 149.1h0M325.1 138.6h0M325.1 154.3h0M325.1 157.8h0M325.2 133.9h0M325.2 106.3h0M325.2 155.1h0M325.3 133.8h0M325.3 143.3h0M325.3 151.1h0M325.4 155.2h0M325.4 144.3h0M325.4 151.7h0M325.5 123.4h0M325.5 135.2h0M325.6 132.8h0M325.6 155.5h0M325.6 148h0M325.7 150.8h0M325.7 139.4h0M325.7 142.8h0M325.8 138.2h0M325.8 136.4h0M325.8 152.6h0M325.9 139.8h0M325.9 146.1h0M325.9 143.4h0M326 159.8h0M326 148.3h0M326.1 135.7h0M326.1 150.3h0M326.1 156.1h0M326.2 134.2h0M326.2 142.6h0M326.2 132.5h0M326.3 137.3h0M326.3 146h0M326.3 142h0M326.4 143.5h0M326.4 133.6h0M326.4 171.8h0M326.5 134.4h0M326.5 165.4h0M326.5 135.6h0M326.6 147h0M326.6 150.9h0M326.6 172.5h0M326.7 154.2h0M326.7 155.2h0M326.7 141.3h0M326.8 133.9h0M326.8 162.2h0M326.9 139.7h0M326.9 162.8h0M326.9 139.5h0M327 162.6h0M327 145.3h0M327 153.5h0M327.1 163.6h0M327.1 136.2h0M327.1 157.1h0M327.2 160.2h0M327.2 169.1h0M327.2 153.5h0M327.3 146.6h0M327.3 139h0M327.3 142.2h0M327.4 171.9h0M327.4 138.2h0M327.4 144h0M327.5 137.2h0M327.5 169.2h0M327.5 153.5h0M327.6 162.6h0M327.6 153.9h0M327.6 154.8h0M327.7 169.9h0M327.7 144.9h0M327.7 155.9h0M327.8 152.5h0M327.8 142.5h0M327.8 157.4h0M327.9 175.3h0M327.9 178.3h0M327.9 164.6h0M328 142.7h0M328 178.7h0M328 167.7h0M328.1 156.6h0M328.1 145.1h0M328.1 169.9h0M328.2 147.7h0M328.2 158.8h0M328.2 160.8h0M328.3 166.8h0M328.3 149.7h0M328.3 180.1h0M328.4 150.1h0M328.4 192.6h0M328.4 166.7h0M328.5 165.1h0M328.5 154.9h0M328.5 150.5h0M328.6 169h0M328.6 162h0M328.6 163.2h0M328.7 167.6h0M328.7 175.5h0M328.7 184.5h0M328.8 150.3h0M328.8 161.5h0M328.8 183.4h0M328.9 176.3h0M328.9 176.3h0M328.9 155.7h0M329 147.3h0M329 162.7h0M329 170.2h0M329.1 168h0M329.1 179.9h0M329.1 175h0M329.2 175.7h0M329.2 178.1h0M329.2 160.8h0M329.3 182.8h0M329.3 148.3h0M329.3 150.5h0M329.4 177.3h0M329.4 181.9h0M329.4 156.5h0M329.5 163.8h0M329.5 168.9h0M329.5 147.7h0M329.6 177.2h0M329.6 167.9h0M329.6 172.9h0M329.7 152.5h0M329.7 167.4h0M329.7 177.5h0M329.7 147.7h0M329.8 152.9h0M329.8 179.9h0M329.8 148.7h0M329.9 177.9h0M329.9 162.1h0M329.9 153.4h0M330 162.1h0M330 156.8h0M330 170.1h0M330.1 155.2h0M330.1 165.8h0M330.1 163h0M330.2 149.6h0M330.2 161.1h0M330.2 187.8h0M330.3 151.1h0M330.3 173h0M330.3 159.1h0M330.4 158.8h0M330.4 168.1h0M330.4 184.3h0M330.4 188.5h0M330.5 180.1h0M330.5 171.8h0M330.5 162.4h0M330.6 177.4h0M330.6 182.4h0M330.6 160.5h0M330.7 175.5h0M330.7 171.9h0M330.7 169h0M330.8 152.2h0M330.8 161.3h0M330.8 166.7h0M330.9 158.6h0M330.9 162.2h0M330.9 150.6h0M330.9 165.8h0M331 169.8h0M331 158.8h0M331 167.8h0M331.1 160h0M331.1 169h0M331.1 154.1h0M331.2 183.9h0M331.2 176.1h0M331.2 179.5h0M331.3 165.4h0M331.3 157.8h0M331.3 148.5h0M331.3 157.4h0M331.4 155.5h0M331.4 154.8h0M331.4 179.2h0M331.5 154.5h0M331.5 182.8h0M331.5 150h0M331.6 179.4h0M331.6 152h0M331.6 166.8h0M331.7 170.5h0M331.7 154.6h0M331.7 174.4h0M331.7 161.6h0M331.8 159h0M331.8 161.8h0M331.8 169.6h0M331.9 164.6h0M331.9 155.7h0M331.9 146.5h0M332 167h0M332 147.9h0M332 153h0M332.1 174.7h0M332.1 176.4h0M332.1 166.5h0M332.1 167h0M332.2 168.6h0M332.2 173.5h0M332.2 172.4h0M332.3 174.6h0M332.3 174.4h0M332.3 162.9h0M332.4 165.3h0M332.4 151.2h0M332.4 185.6h0M332.4 174.1h0M332.5 181.8h0M332.5 173.4h0M332.5 147.1h0M332.6 148.2h0M332.6 165.9h0M332.6 179.7h0M332.7 151.2h0M332.7 172.3h0M332.7 151.5h0M332.7 187.1h0M332.8 180.9h0M332.8 168.4h0M332.8 174.2h0M332.9 156.9h0M332.9 149h0M332.9 147.4h0M332.9 159.5h0M333 147.1h0M333 167.4h0M333 153.7h0M333.1 160.2h0M333.1 151.7h0M333.1 167.9h0M333.2 181h0M333.2 165.3h0M333.2 176.4h0M333.2 154.1h0M333.3 175.2h0M333.3 156.6h0M333.3 178.1h0M333.4 170.2h0M333.4 161.4h0M333.4 178.3h0M333.4 178.5h0M333.5 174.5h0M333.5 137.6h0M333.5 183.4h0M333.6 144.8h0M333.6 183h0M333.6 191.3h0M333.6 173.9h0M333.7 151.2h0M333.7 148.2h0M333.7 181.9h0M333.8 180.6h0M333.8 146.4h0M333.8 177.4h0M333.9 146.9h0M333.9 154.9h0M333.9 149.9h0M333.9 194.4h0M334 181.9h0M334 166.1h0M334 150h0M334.1 165.6h0M334.1 159.4h0M334.1 184.4h0M334.1 153.6h0M334.2 183.2h0M334.2 156.5h0M334.2 156.3h0M334.3 146.7h0M334.3 163h0M334.3 161.1h0M334.3 195.2h0M334.4 169.6h0M334.4 176.3h0M334.4 184.7h0M334.5 163.6h0M334.5 164.7h0M334.5 163.4h0M334.5 164.6h0M334.6 191.3h0M334.6 196.5h0M334.6 158.2h0M334.7 163.8h0M334.7 155.9h0M334.7 185.3h0M334.7 188.6h0M334.8 179.1h0M334.8 177.1h0M334.8 162.2h0M334.8 147.9h0M334.9 187.4h0M334.9 175.5h0M334.9 159.2h0M335 183h0M335 181.8h0M335 165h0M335 175.2h0M335.1 178.5h0M335.1 192.2h0M335.1 183.9h0M335.2 173h0M335.2 157.9h0M335.2 175.8h0M335.2 176h0M335.3 162.9h0M335.3 190.1h0M335.3 181.9h0M335.4 193.9h0M335.4 154.5h0M335.4 191.5h0M335.4 158.5h0M335.5 164.7h0M335.5 169.9h0M335.5 177.8h0M335.5 157.3h0M335.6 200.9h0M335.6 174.8h0M335.6 191.8h0M335.7 160.6h0M335.7 171.2h0M335.7 165h0M335.7 170.1h0M335.8 154.3h0M335.8 181.8h0M335.8 162.4h0M335.8 167.3h0M335.9 165.8h0M335.9 158.3h0M335.9 197.2h0M336 175.3h0M336 185.3h0M336 190.3h0M336 174.8h0M336.1 195.8h0M336.1 173.9h0M336.1 202.2h0M336.2 204.9h0M336.2 173.5h0M336.2 171.4h0M336.2 194.2h0M336.3 182.1h0M336.3 202.4h0M336.3 155.5h0M336.3 179.1h0M336.4 199.5h0M336.4 179.9h0M336.4 178.1h0M336.4 182.1h0M336.5 190.9h0M336.5 176.3h0M336.5 191.6h0M336.6 196.7h0M336.6 160.9h0M336.6 158.7h0M336.6 160.1h0M336.7 196.3h0M336.7 157.6h0M336.7 194.2h0M336.7 157.7h0M336.8 178.1h0M336.8 210.7h0M336.8 203.8h0M336.9 173.6h0M336.9 155.1h0M336.9 170.4h0M336.9 172.6h0M337 203.8h0M337 184.1h0M337 200.9h0M337 170h0M337.1 158.4h0M337.1 176.8h0M337.1 183.5h0M337.1 176.5h0M337.2 167.1h0M337.2 187.7h0M337.2 173.8h0M337.3 179.4h0M337.3 174.5h0M337.3 202h0M337.3 197.2h0M337.4 190.4h0M337.4 210.5h0M337.4 207.4h0M337.4 181.4h0M337.5 158.9h0M337.5 160.2h0M337.5 166.7h0M337.5 189.3h0M337.6 185.7h0M337.6 196.3h0M337.6 168.8h0M337.6 164.9h0M337.7 168.6h0M337.7 162h0M337.7 213.5h0M337.8 196h0M337.8 211h0M337.8 165.8h0M337.8 198.6h0M337.9 207.2h0M337.9 170.7h0M337.9 176h0M337.9 166h0M338 176.4h0M338 165.9h0M338 222h0M338 173h0M338.1 165.6h0M338.1 202.2h0M338.1 199.4h0M338.1 208h0M338.2 213.6h0M338.2 214.5h0M338.2 177.1h0M338.2 203.7h0M338.3 214.1h0M338.3 188.5h0M338.3 195h0M338.3 165.6h0M338.4 176.2h0M338.4 209.5h0M338.4 214.1h0M338.4 225.4h0M338.5 180.6h0M338.5 198.7h0M338.5 180h0M338.6 175h0M338.6 171.1h0M338.6 178h0M338.6 193.2h0M338.7 192.8h0M338.7 195.4h0M338.7 162.8h0M338.7 166.5h0M338.8 168.5h0M338.8 181.4h0M338.8 199.5h0M338.8 170.8h0M338.9 180.3h0M338.9 211.9h0M338.9 169.7h0M338.9 212.3h0M339 190h0M339 167.9h0M339 180.6h0M339 182.8h0M339.1 165.8h0M339.1 211.8h0M339.1 213h0M339.1 230.8h0M339.2 206.9h0M339.2 200.7h0M339.2 204.5h0M339.2 174.5h0M339.3 224.6h0M339.3 176.2h0M339.3 163.4h0M339.3 172.7h0M339.4 206.8h0M339.4 162.1h0M339.4 195.5h0M339.4 160.8h0M339.5 201.6h0M339.5 179.8h0M339.5 187.5h0M339.5 159.1h0M339.6 184.6h0M339.6 164.1h0M339.6 205.4h0M339.6 168.2h0M339.7 167.6h0M339.7 172.8h0M339.7 221.8h0M339.7 210.1h0M339.8 191.1h0M339.8 218.1h0M339.8 200.5h0M339.8 200h0M339.9 210.8h0M339.9 206.4h0M339.9 169.7h0M339.9 203.8h0M340 168h0M340 221.9h0M340 200.6h0M340 215.6h0M340.1 218.7h0M340.1 224.6h0M340.1 223.9h0M340.1 225.6h0M340.2 179.9h0M340.2 178.7h0M340.2 193.4h0M340.2 195.7h0M340.3 208.4h0M340.3 189.5h0M340.3 215.8h0M340.3 225.8h0M340.4 190.8h0M340.4 207.1h0M340.4 186.6h0M340.4 219.7h0M340.5 164.6h0M340.5 165.4h0M340.5 218.7h0M340.5 205h0M340.5 187h0M340.6 188.4h0M340.6 206.5h0M340.6 170.5h0M340.6 212.1h0M340.7 209.3h0M340.7 172.8h0M340.7 167.4h0M340.7 177.1h0M340.8 229.4h0M340.8 246h0M340.8 205.9h0M340.8 191.3h0M340.9 229.3h0M340.9 231.5h0M340.9 220.9h0M340.9 200.4h0M341 234.7h0M341 195.5h0M341 201.6h0M341 199h0M341.1 227.4h0M341.1 209.5h0M341.1 206.6h0M341.1 229.5h0M341.2 209.1h0M341.2 189.6h0M341.2 210.2h0M341.2 198h0M341.2 230.7h0M341.3 221h0M341.3 202h0M341.3 215.3h0M341.3 213.8h0M341.4 166.2h0M341.4 173.2h0M341.4 224.9h0M341.4 204.1h0M341.5 167h0M341.5 215h0M341.5 183.1h0M341.5 183.8h0M341.6 192.7h0M341.6 208.3h0" stroke="#000" stroke-width="3.0" stroke-linecap="round" fill="none"/>
<path d="M271.2 110.8V121M298.3 94.2V118M325.3 106.3V130M333.5 137.6V148" stroke="#000" stroke-width="1.9" fill="none"/>
</g>
<path d="M94.4 95.3 L341.1 163.6" stroke="#8a8a8a" stroke-width="1.5" fill="none"/>
<path d="M271.4 252V66.6" stroke="#000" stroke-width="1.6" stroke-dasharray="4.4 1.85"/>
<path d="M298.5 252V66.6" stroke="#000" stroke-width="1.6" stroke-dasharray="4.4 1.85"/>
<path d="M325.6 252V66.6" stroke="#000" stroke-width="1.6" stroke-dasharray="4.4 1.85"/>
<path d="M51.1 270.3H341.6" stroke="#000" stroke-width="1.1"/>
<path d="M51.1 66.6H341.6" stroke="#777" stroke-width="1.1"/>
<path d="M51.6 66.6V270.3" stroke="#555" stroke-width="1.1"/>
<path d="M341.1 66.6V270.3" stroke="#777" stroke-width="1.1"/>
<path d="M91.4 270.3V273M181.4 270.3V273M271.4 270.3V273M55.6 270.3V273M64.3 270.3V273M71.4 270.3V273M77.5 270.3V273M82.7 270.3V273M87.3 270.3V273M118.5 270.3V273M134.3 270.3V273M145.6 270.3V273M154.3 270.3V273M161.4 270.3V273M167.5 270.3V273M172.7 270.3V273M177.3 270.3V273M208.5 270.3V273M224.3 270.3V273M235.6 270.3V273M244.3 270.3V273M251.4 270.3V273M257.5 270.3V273M262.7 270.3V273M267.3 270.3V273M298.5 270.3V273M314.3 270.3V273M325.6 270.3V273M334.3 270.3V273" stroke="#000" stroke-width="1"/>
<clipPath id="cB"><rect x="385" y="66.6" width="289.6" height="203.7"/></clipPath>
<path d="M385 88.9H674.6M385 136.4H674.6M385 183.9H674.6M385 231.4H674.6M450.9 66.6V270.3M531.3 66.6V270.3" stroke="#dedede" stroke-width="1" fill="none"/>
<rect x="385" y="66.6" width="38.2" height="203.7" fill="#ff0000" fill-opacity="0.09" stroke="#ff0000" stroke-opacity="0.08" stroke-width="1"/>
<path d="M385 78L396.4 66.6M385 96.8L415.2 66.6M385 115.5L423.2 77.3M385 134.2L423.2 96M385 152.9L423.2 114.7M385 171.6L423.2 133.4M385 190.4L423.2 152.2M385 209.1L423.2 170.9M385 227.8L423.2 189.6M385 246.5L423.2 208.3M385 265.2L423.2 227M398.7 270.3L423.2 245.8M417.4 270.3L423.2 264.5" stroke="#ff2828" stroke-width="1.15" fill="none" clip-path="url(#cB)"/>
<path d="M423.2 88.7 L530 94.5 L674.6 169.7 L674.6 206.9 L531.4 134 L423.2 127.5Z" fill="#dcdcdc" stroke="#c8c8c8" stroke-width="0.8"/>
<g clip-path="url(#cB)">
<path d="M382.7 119.1L408.5 113.5L423.2 112.7L433.5 111.6L441.4 87.6L447.9 88.7L453.4 88.4L458.1 93.5L462.2 103L465.9 100.1L469.3 98L472.4 98.7L475.2 104.9L477.8 102L480.2 104.9L482.5 105.3L484.6 99.7L486.6 99.7L488.5 100.1L490.3 102.5L492 102.7L493.6 103L495.2 112.6L496.7 99L498.1 103.5L499.5 94.3L500.8 102L502.1 107L503.3 114L504.5 120L505.7 123L506.8 118L507.8 122.9L508.9 126L509.9 117L510.9 109L511.8 111L512.8 113.5L513.7 118L514.6 119.7L515.4 110L516.3 107.1L517.1 108.7L517.9 115L518.7 124.4L519.5 118L520.2 111L521 110.2L521.7 115L522.4 118.1L523.1 114L523.8 111.8L524.4 118L525.1 122.9L525.7 116L526.3 110.2L527 113L527.6 116.5L528.2 112L528.8 110L529.3 108.7L529.9 112L530.5 118L531 118.1L531.6 121L532.1 122.9L532.6 118L533.1 112L533.6 110.2L534.2 115L534.6 119.7L535.1 116L535.6 113.4L536.1 110L536.6 113L537 108L537.5 104L537.9 100.8L538.4 108L538.8 115L539.3 119.7L539.7 109.4L540.1 123.8L540.5 109.5L540.9 121.4L541.3 117.8L541.8 117.4L542.1 117.3L542.5 109.2L542.9 118.4L543.3 124L543.7 114.8L544.1 110.5L544.5 112.1L544.8 106.9L545.2 113.1L545.6 104.1L545.9 115.8L546.3 101.4L546.6 120.2L547 108.8L547.3 100.9L547.7 99.3L548 115.5L548.3 104.2L548.7 106.1L549 112.5L549.3 106L549.6 107.1L549.9 105.3L550.3 108.7L550.6 107.6L550.9 117.3L551.2 106L551.5 110L551.8 111.3L552.1 112.1L552.4 121.8L552.7 113.4L553 116.9L553.3 119.6L553.6 125.3L553.9 118.7L554.1 117.4L554.4 127.7L554.7 125.4L555 128L555.2 120.5L555.5 132.3L555.8 130.1L556.1 137.6L556.3 124.6L556.6 139.6L556.8 136.8L557.1 126.3L557.4 126.2L557.6 124L557.9 131.1L558.1 123.4L558.4 123.5L558.6 127.3L558.9 125.1L559.1 132L559.4 123.7L559.6 120.3L559.8 119.9L560.1 124.5L560.3 125.6L560.6 123.3L560.8 129.1L561 118.4L561.2 117.4L561.5 126.2L561.7 127.1L561.9 132.2L562.2 128.4L562.4 139.4L562.6 126.9L562.8 125.5L563 136.4L563.3 119.6L563.5 127.7L563.7 124.4L563.9 126.9L564.1 125.3L564.3 127L564.5 136.5L564.7 116.3L565 124.2L565.2 116.6L565.4 122.2L565.6 120.6L565.8 117.5L566 141.2L566.2 129L566.4 120.9L566.6 122.1L566.8 114.9L567 114.7L567.2 116.9L567.3 121.6L567.5 115.7L567.7 120.4L567.9 128.5L568.1 123L568.3 122.2L568.5 125.8L568.7 122.5L568.9 124.8L569 123.1L569.2 122.9L569.4 126.2L569.6 135.6L569.8 138.9L570 114.1L570.1 135.8L570.3 122.7L570.5 136.7L570.7 121.7L570.8 119.7L571 131.7L571.2 116.9L571.4 134.6L571.5 135.9L571.7 117.3L571.9 132.9L572 117.6L572.2 112.2L572.4 121.8L572.5 112.7L572.7 115.4L572.9 113.6L573 125.9L573.2 136L573.4 119.8L573.5 118.8L573.7 121.7L573.8 122.9L574 115.9L574.2 124.8L574.3 125.4L574.5 142.4L574.6 124L574.8 119.7L574.9 120.2L575.1 126.9L575.3 125.8L575.4 124.8L575.6 117.9L575.7 114.8L575.9 127.4L576 128.1L576.2 124.6L576.3 142.7L576.5 126L576.6 125.3L576.8 121.6L576.9 126.9L577.1 126.9L577.2 119.9L577.3 135.6L577.5 119.4L577.6 128.1L577.8 121.7L577.9 128L578.1 123.4L578.2 142.7L578.3 136.2L578.5 128.2L578.6 128.5L578.8 129.1L578.9 121.8L579 134.6L579.2 132.6L579.3 122.5L579.5 121.2L579.6 138.1L579.7 129L579.9 129.7L580 148.2L580.1 123.4L580.3 131.4L580.4 124.3L580.5 137.3L580.7 122.8L580.8 128.8L580.9 123.3L581.1 129.6L581.2 123.3L581.3 135.2L581.4 122L581.6 125.5L581.7 122.2L581.8 124L582 128.2L582.1 126L582.2 123.6L582.3 123.6L582.5 125.9L582.6 127.7L582.7 121.1L582.8 133.5L583 120.9L583.1 123.4L583.2 143.8L583.3 140.1L583.5 123.8L583.6 142.3L583.7 135.8L583.8 123.3L583.9 133.2L584.1 124.4L584.2 130.4L584.3 125.4L584.4 126L584.5 141.6L584.6 129.7L584.8 124.1L584.9 127.7L585 132.8L585.1 125L585.2 148.5L585.3 122.6L585.5 134L585.6 126L585.7 132L585.8 124.6L585.9 137.7L586 126.9L586.1 132.9L586.3 125.5L586.4 124.9L586.5 126.5L586.6 135.5L586.7 138.4L586.8 134.7L586.9 155.3L587 130.8L587.1 133.1L587.3 137L587.4 140.1L587.5 126.4L587.6 128.1L587.7 128.6L587.8 122.9L587.9 125.5L588 132.7L588.1 136.6L588.2 145.2L588.3 157.5L588.4 143.7L588.5 135.1L588.6 127.1L588.7 128.9L588.9 133.4L589 140.2L589.1 141.2L589.2 126.4L589.3 127.4L589.4 147.5L589.5 142L589.6 132.8L589.7 140L589.8 136.6L589.9 127.3L590 136.5L590.1 128L590.2 157.8L590.3 127.6L590.4 128.8L590.5 130.7L590.6 136.2L590.7 154.8L590.8 132.3L590.9 138.2L591 150L591.1 141L591.2 128.2L591.3 140.9L591.4 131.2L591.5 139.8L591.6 136.8L591.7 135.5L591.8 125.9L591.8 127.4L591.9 124.1L592 151.4L592.1 132.3L592.2 135L592.3 123.7L592.4 120.3L592.5 123.3L592.6 140.3L592.7 137.5L592.8 133.1L592.9 140.1L593 135.7L593.1 137.5L593.2 132L593.3 120.1L593.3 134.6L593.4 121L593.5 143.1L593.6 119.4L593.7 124.6L593.8 139.6L593.9 141.7L594 139L594.1 126.8L594.2 123.2L594.3 140.8L594.3 119.3L594.4 132.5L594.5 134.5L594.6 124.5L594.7 120.9L594.8 129.1L594.9 141.4L595 125L595 121.5L595.1 123.2L595.2 134.7L595.3 123.7L595.4 149.8L595.5 121.7L595.6 130.1L595.7 149L595.7 123.7L595.8 128.9L595.9 119.3L596 123L596.1 135.9L596.2 123L596.2 122L596.3 121.3L596.4 134.6L596.5 137.6L596.6 123.3L596.7 132.5L596.7 149.4L596.8 139.8L596.9 119.9L597 136.3L597.1 114.8L597.2 133.2L597.2 134.6L597.3 140.8L597.4 128.7L597.5 132.8L597.6 125.5L597.7 134.1L597.7 127L597.8 138.9L597.9 132.5L598 148.4L598.1 139.1L598.1 130.4L598.2 127.2L598.3 153.7L598.4 130.3L598.5 148L598.5 157.5L598.6 146.5L598.7 125L598.8 143.2L598.8 133L598.9 126.1L599 122.9L599.1 142L599.2 126.2L599.2 140.5L599.3 131.3L599.4 134.3L599.5 131.4L599.5 137.6L599.6 125.5L599.7 123.6L599.8 129L599.9 127.2L599.9 144.1L600 138.6L600.1 125.9L600.2 140.7L600.2 135.1L600.3 157.4L600.4 142.9L600.5 129.8L600.5 141.3L600.6 130.9L600.7 130.7L600.8 125.2L600.8 144L600.9 137.7L601 140.6L601 140.3L601.1 142.4L601.2 138.9L601.3 143.3L601.3 136.5L601.4 143.1L601.5 143.8L601.6 144.7L601.6 146.2L601.7 140.3L601.8 125.8L601.8 137.6L601.9 132.8L602 143.3L602.1 131L602.1 129.6L602.2 133.6L602.3 150L602.3 133.2L602.4 137.3L602.5 148.4L602.6 142.1L602.6 138.9L602.7 144.3L602.8 147.3L602.8 131.7L602.9 146.6L603 139.6L603 135.3L603.1 149.6L603.2 129.8L603.3 127.7L603.3 137.3L603.4 137.3L603.5 160.1L603.5 146.2L603.6 132.5L603.7 146.8L603.7 148.9L603.8 137.9L603.9 144.8L603.9 132.3L604 140.6L604.1 143.8L604.1 151.4L604.2 141.3L604.3 131.5L604.3 141.2L604.4 149.6L604.5 151.2L604.5 127.4L604.6 150.8L604.7 152.4L604.7 151.9L604.8 130.8L604.9 148.7L604.9 143.3L605 139.6L605.1 154.5L605.1 146.7L605.2 133.4L605.3 141L605.3 143.2L605.4 131.8L605.5 146.1L605.5 145.7L605.6 133.2L605.7 151.3L605.7 170.3L605.8 127.3L605.8 167.3L605.9 128.5L606 142.4L606 133.9L606.1 138.6L606.2 136L606.2 133.8L606.3 155.3L606.4 140.1L606.4 139.3L606.5 150.7L606.5 149.8L606.6 132.1L606.7 130.7L606.7 128.8L606.8 149.7L606.9 135L606.9 134.8L607 135.6L607 165.3L607.1 130.2L607.2 147.1L607.2 132.2L607.3 135.7L607.4 141L607.4 122.9L607.5 144.2L607.5 136.1L607.6 128.3L607.7 134.5L607.7 123.1L607.8 144.8L607.8 117.9L607.9 131.6L608 127.9L608 138.2L608.1 130.3L608.1 137.1L608.2 128.1L608.3 131.1L608.3 144.3L608.4 127.9L608.4 141.7L608.5 138.2L608.6 149.6L608.6 160.8L608.7 126L608.7 150.6L608.8 138.5L608.9 144.2L608.9 143.5L609 143.4L609 127.1L609.1 141.4L609.1 133.1L609.2 116.5L609.3 147.2L609.3 157.8L609.4 118.2L609.4 120.2L609.5 134.7L609.6 125.3L609.6 127.3L609.7 121.8L609.7 143.3L609.8 135.1L609.8 119.2L609.9 124.2L610 115.3L610 137.4L610.1 127.4L610.1 131.8L610.2 125.6L610.2 139.3L610.3 130.4L610.4 118.9L610.4 134.2L610.5 158.2L610.5 128.9L610.6 158.1L610.6 133.4L610.7 135.2L610.7 142.1L610.8 141.2L610.9 122.7L610.9 121.2L611 136.9L611 124L611.1 122.3L611.1 119.3L611.2 128.6L611.2 140.9L611.3 141.1L611.4 118.8L611.4 130.9L611.5 131.2L611.5 141.1L611.6 136.6L611.6 107.7L611.7 139.6L611.7 135.6L611.8 135.9L611.8 118.3L611.9 136L611.9 134.3L612 144L612.1 130.8L612.1 136.8L612.2 140.2L612.2 143L612.3 117.7L612.3 118.8L612.4 116.3L612.4 131.3L612.5 119.2L612.5 126.8L612.6 140L612.6 153.4L612.7 141.4L612.7 117.8L612.8 130.7L612.9 138.4L612.9 144.4L613 121.9L613 130.3L613.1 145L613.1 141.6L613.2 144.8L613.2 144.8L613.3 146.5L613.3 138.5L613.4 144L613.4 126.3L613.5 143.1L613.5 141.8L613.6 135.4L613.6 147.1L613.7 128.8L613.7 138.1L613.8 129.4L613.8 136.5L613.9 132.1L613.9 138.7L614 139.7L614 148.5L614.1 138.2L614.1 133.3L614.2 131.6L614.2 152.2L614.3 131.3L614.3 138.6L614.4 141.9L614.4 148.6L614.5 138.6L614.5 141.9L614.6 140.5L614.6 149.6L614.7 149.8L614.7 150.7L614.8 131.2L614.8 129.1L614.9 142.6L614.9 149L615 142.9L615 150.3L615.1 141.7L615.1 156.3L615.2 142.2L615.2 129.7L615.3 133.4L615.3 131.7L615.4 135.4L615.4 140.8L615.5 150.8L615.5 144.9L615.6 162.2L615.6 132L615.7 135.6L615.7 137.7L615.8 150.8L615.8 151.8L615.9 144.3L615.9 145.9L616 137.8L616 134L616.1 148L616.1 141.7L616.2 142.9L616.2 142.6L616.2 153.2L616.3 136.1L616.3 136.2L616.4 136.2L616.4 141.4L616.5 138.3L616.5 135.9L616.6 149.3L616.6 142.1L616.7 144.4L616.7 132.7L616.8 138.5L616.8 145.5L616.9 138L616.9 151.9L617 134.7L617 138.5L617 132.4L617.1 150.2L617.1 134.9L617.2 132.7L617.2 138.9L617.3 148.1L617.3 142.9L617.4 146.5L617.4 146.4L617.5 151.9L617.5 157L617.6 136L617.6 147.2L617.6 139.2L617.7 146.9L617.7 140.8L617.8 141.5L617.8 133.3L617.9 154.4L617.9 134L618 142.9L618 135.2L618.1 149.7L618.1 130.9L618.1 130.4L618.2 146.5L618.2 154.4L618.3 164.7L618.3 129.8L618.4 128.1L618.4 147.3L618.5 146.5L618.5 147L618.5 154.7L618.6 126.3L618.6 147.4L618.7 144.8L618.7 151.8L618.8 129.4L618.8 145.9L618.9 156.3L618.9 152L618.9 135.3L619 149.4L619 154.6L619.1 135.2L619.1 142.6L619.2 139.8L619.2 145.4L619.3 137.2L619.3 143.2L619.3 147.4L619.4 143.9L619.4 150.3L619.5 150.6L619.5 136.4L619.6 143.4L619.6 137.4L619.6 148.7L619.7 142.6L619.7 135.3L619.8 139.2L619.8 139.2L619.9 149.5L619.9 135.7L619.9 147.4L620 146.9L620 128.8L620.1 143.2L620.1 156.2L620.2 134.5L620.2 130.9L620.2 149.5L620.3 138.6L620.3 142.1L620.4 154.4L620.4 153.6L620.5 140.1L620.5 156.9L620.5 132.1L620.6 155.4L620.6 137.3L620.7 154.5L620.7 133L620.7 138.6L620.8 155L620.8 139.3L620.9 134.8L620.9 164.3L621 127.1L621 150.7L621 124.6L621.1 145L621.1 130.8L621.2 155.3L621.2 144.2L621.2 135.1L621.3 163.8L621.3 144.9L621.4 128.3L621.4 134.9L621.5 136.7L621.5 128.1L621.5 132.5L621.6 132.6L621.6 137.3L621.7 171.7L621.7 133.6L621.7 141L621.8 126.2L621.8 132.3L621.9 151.6L621.9 143.6L621.9 152.4L622 133.5L622 142.4L622.1 127.9L622.1 130.7L622.1 141.6L622.2 137.1L622.2 144.4L622.3 133.3L622.3 121.2L622.3 155.5L622.4 156.1L622.4 138.7L622.5 146.1L622.5 130.8L622.5 139.9L622.6 149.2L622.6 138.7L622.7 155.5L622.7 141.9L622.7 140.3L622.8 134.1L622.8 150.3L622.9 142.2L622.9 154.5L622.9 156L623 153L623 149.4L623.1 142L623.1 131.1L623.1 150.5L623.2 148.9L623.2 147.9L623.2 144.2L623.3 145.9L623.3 143.5L623.4 131L623.4 151L623.4 148.9L623.5 147.4L623.5 142.8L623.6 147.5L623.6 140.3L623.6 162.3L623.7 151L623.7 149.7L623.8 177.1L623.8 154.1L623.8 158.5L623.9 157.9L623.9 129.3L623.9 144.5L624 153.4L624 143.7L624.1 169.3L624.1 135.7L624.1 137.4L624.2 142.9L624.2 162.6L624.2 161.1L624.3 147.8L624.3 142.9L624.4 159.6L624.4 141.4L624.4 163.4L624.5 153.7L624.5 139L624.5 149.2L624.6 149L624.6 164.9L624.7 158.3L624.7 142.6L624.7 147.4L624.8 141.8L624.8 146.7L624.8 151L624.9 177.7L624.9 163.2L625 141.9L625 158.8L625 165L625.1 152.2L625.1 142.6L625.1 147.6L625.2 139.5L625.2 156.7L625.3 148.6L625.3 143.7L625.3 136.8L625.4 145L625.4 154.6L625.4 157.1L625.5 162.1L625.5 165L625.5 159L625.6 151.2L625.6 168.1L625.7 140.1L625.7 153.6L625.7 143.9L625.8 149.5L625.8 142.6L625.8 142.7L625.9 154.6L625.9 153.4L625.9 136.6L626 142.9L626 139.4L626.1 142.9L626.1 139.7L626.1 156.7L626.2 149.8L626.2 156.5L626.2 136.4L626.3 160.3L626.3 164.7L626.3 131.8L626.4 133.1L626.4 133.2L626.4 140L626.5 149L626.5 162.9L626.6 134L626.6 129.3L626.6 133.6L626.7 162.8L626.7 137.8L626.7 185L626.8 169.6L626.8 142.2L626.8 170.5L626.9 147.9L626.9 162.6L626.9 149.4L627 146.2L627 153.1L627 144.9L627.1 168.3L627.1 149.5L627.1 172.8L627.2 184.6L627.2 167.8L627.3 140.3L627.3 162.9L627.3 143L627.4 160.7L627.4 135.7L627.4 147.6L627.5 148.1L627.5 161.3L627.5 166L627.6 156.4L627.6 139.5L627.6 137.7L627.7 136L627.7 149.6L627.7 150.7L627.8 151.5L627.8 155.8L627.8 173.4L627.9 152.4L627.9 173.6L627.9 160.8L628 150.8L628 182.8L628 142.2L628.1 165.3L628.1 140.2L628.1 151.5L628.2 170.9L628.2 192.6L628.2 135.4L628.3 171.5L628.3 157.9L628.3 136.6L628.4 138.4L628.4 163L628.4 180.7L628.5 153L628.5 176.7L628.5 137.2L628.6 141.7L628.6 139.4L628.6 150.5L628.7 143.5L628.7 135.8L628.7 137.8L628.8 150L628.8 167.8L628.8 136.4L628.9 156.9L628.9 144.7L628.9 141.2L629 144.8L629 135.8L629 152.2L629.1 136.9L629.1 152.4L629.1 147.2L629.2 167.7L629.2 171.1L629.2 171.4L629.3 142.5L629.3 156.3L629.3 171.3L629.4 163.9L629.4 135.4L629.4 139.2L629.5 156.2L629.5 150.2L629.5 136.1L629.6 136.4L629.6 157.2L629.6 134L629.7 168.8L629.7 148.5L629.7 158.7L629.8 156.9L629.8 153.9L629.8 139.5L629.9 168.6L629.9 169.6L629.9 163.8L630 160.2L630 167.4L630 151.3L630.1 147.6L630.1 164.1L630.1 158L630.2 140.2L630.2 142.1L630.2 138.4L630.2 159.5L630.3 164L630.3 164L630.3 144L630.4 135.3L630.4 147.9L630.4 180.8L630.5 135L630.5 142.7L630.5 135.8L630.6 158.9L630.6 152L630.6 144.7L630.7 147.5L630.7 164.7L630.7 163.4L630.8 177.9L630.8 158.2L630.8 162.1L630.8 153L630.9 148.4L630.9 158.5L630.9 160.8L631 154.9L631 165.6L631 139.2L631.1 158.4L631.1 156.5L631.1 165.7L631.2 150.1L631.2 160L631.2 139.5L631.3 161.4L631.3 157.4L631.3 140.1L631.3 151.5L631.4 165.6L631.4 150L631.4 155.8L631.5 166.3L631.5 138.6L631.5 136.9L631.6 149L631.6 149L631.6 160.3L631.7 143.7L631.7 151.4L631.7 156.1L631.7 146.3L631.8 166.8L631.8 146.7L631.8 168L631.9 149.4L631.9 157.6L631.9 161.8L632 154.1L632 171.4L632 144.9L632 145.9L632.1 157.3L632.1 152.7L632.1 152.6L632.2 166L632.2 133.3L632.2 154.8L632.3 163.6L632.3 162.7L632.3 151.6L632.3 141.8L632.4 152.9L632.4 150.3L632.4 151L632.5 151L632.5 132.3L632.5 150.4L632.6 164.8L632.6 147.7L632.6 149.6L632.6 163.9L632.7 169.6L632.7 133L632.7 131.9L632.8 158.6L632.8 144L632.8 155.2L632.9 151.7L632.9 151L632.9 157.7L632.9 139.1L633 143.9L633 157.5L633 131.6L633.1 147.8L633.1 136.5L633.1 144.4L633.1 162.5L633.2 142L633.2 135.3L633.2 154.6L633.3 134.8L633.3 147.9L633.3 158.5L633.4 137.6L633.4 158L633.4 129.8L633.4 158.3L633.5 156.1L633.5 151.3L633.5 163.5L633.6 158.1L633.6 139.6L633.6 152.6L633.6 148.3L633.7 136.9L633.7 132.5L633.7 159.5L633.8 152.4L633.8 131.5L633.8 154.7L633.8 130.2L633.9 154.7L633.9 156.2L633.9 129.9L634 158.3L634 128.3L634 137L634 158.2L634.1 143.6L634.1 166.9L634.1 155L634.2 154.7L634.2 151.7L634.2 140.6L634.2 136.9L634.3 134.4L634.3 136.6L634.3 148.9L634.4 139.7L634.4 159.3L634.4 146L634.4 134.9L634.5 129.2L634.5 152.9L634.5 140.7L634.6 142.3L634.6 155.2L634.6 138.2L634.6 147.7L634.7 158.2L634.7 135.2L634.7 134.3L634.8 140.9L634.8 157.3L634.8 141.1L634.8 128L634.9 147L634.9 138.2L634.9 123L634.9 153.7L635 154L635 125.1L635 148.7L635.1 159.7L635.1 132.5L635.1 141.5L635.1 158.1L635.2 131.6L635.2 117.8L635.2 141.3L635.3 159.7L635.3 130.3L635.3 121.7L635.3 141.2L635.4 133.3L635.4 127.9L635.4 134L635.4 139.4L635.5 114.8L635.5 128.7L635.5 154.9L635.6 149.5L635.6 137.6L635.6 113.1L635.6 143.7L635.7 129.4L635.7 105.9L635.7 113.7L635.7 143.1L635.8 113.1L635.8 112.9L635.8 142.2L635.9 133.6L635.9 121.1L635.9 151.9L635.9 147.2L636 151.8L636 144.6L636 146.2L636 144.8L636.1 131L636.1 154.5L636.1 169.1L636.2 152L636.2 130.3L636.2 148.7L636.2 149.7L636.3 151.6L636.3 154.1L636.3 134.8L636.3 118.6L636.4 119.8L636.4 135.8L636.4 132.8L636.4 153.6L636.5 152.5L636.5 121.3L636.5 129.4L636.6 120.2L636.6 149.2L636.6 148.1L636.6 152.3L636.7 130L636.7 146.9L636.7 130.1L636.7 136.5L636.8 136.9L636.8 146.7L636.8 153.3L636.8 154.3L636.9 127.3L636.9 144.8L636.9 160.2L637 135.6L637 152.7L637 126.5L637 138.8L637.1 143.3L637.1 127.7L637.1 138.9L637.1 178.8L637.2 135.6L637.2 141.8L637.2 134.8L637.2 150.2L637.3 140L637.3 157.9L637.3 141.8L637.3 158.8L637.4 147.2L637.4 134.6L637.4 152.4L637.4 164.3L637.5 131.6L637.5 139.3L637.5 161.3L637.6 149.2L637.6 138.3L637.6 146.9L637.6 138.6L637.7 133.5L637.7 136.5L637.7 151.3L637.7 160.9L637.8 155L637.8 137.7L637.8 160.3L637.8 166.2L637.9 147.8L637.9 146.1L637.9 165.1L637.9 153.4L638 138.9L638 161.5L638 140.1L638 160.3L638.1 159.1L638.1 161.3L638.1 167.3L638.1 163.1L638.2 163.5L638.2 154.9L638.2 175.8L638.2 165.1L638.3 151.2L638.3 168L638.3 140.3L638.3 161.1L638.4 138.2L638.4 151.9L638.4 164L638.4 138.9L638.5 146.7L638.5 142.5L638.5 161.8L638.5 142.9L638.6 159.5L638.6 142.5L638.6 168.6L638.6 175.6L638.7 170.3L638.7 168.9L638.7 161.9L638.7 160.8L638.8 154.4L638.8 155.1L638.8 143.1L638.8 152.3L638.9 146.7L638.9 159.6L638.9 167.3L638.9 155.5L639 146.2L639 175L639 182.3L639 166.8L639.1 161.7L639.1 146.9L639.1 143.7L639.1 157.2L639.2 142.5L639.2 165.2L639.2 170.5L639.2 144.1L639.3 161.9L639.3 159.3L639.3 154.8L639.3 168.8L639.4 159.7L639.4 154.2L639.4 157L639.4 152L639.5 152.3L639.5 150L639.5 152.2L639.5 170.9L639.6 138.4L639.6 151.3L639.6 158.1L639.6 146.1L639.7 182.5L639.7 147.9L639.7 149.2L639.7 168.5L639.8 146.5L639.8 162L639.8 154.4L639.8 146.5L639.9 167.7L639.9 142.6L639.9 171.9L639.9 154.3L639.9 141L640 141.3L640 161.4L640 143.5L640 153.9L640.1 170.4L640.1 144.4L640.1 151.6L640.1 151.1L640.2 166.9L640.2 163.9L640.2 171.2L640.2 151.4L640.3 144.5L640.3 161L640.3 152L640.3 174.6L640.4 146.7L640.4 161L640.4 157.8L640.4 160.1L640.5 166.4L640.5 149.9L640.5 170.5L640.5 147.7L640.5 148.5L640.6 154.3L640.6 154.6L640.6 154.5L640.6 170.7L640.7 171.4L640.7 173.2L640.7 163.8L640.7 150.7L640.8 170.4L640.8 164.5L640.8 159L640.8 147.9L640.9 164.1L640.9 142.4L640.9 156.2L640.9 150.7L640.9 168.9L641 153L641 151.9L641 164.6L641 163.2L641.1 142.8L641.1 150L641.1 169L641.1 155.8L641.2 174.4L641.2 153L641.2 174.5L641.2 170.1L641.2 163.6L641.3 171.6L641.3 145.1L641.3 168.9L641.3 163.5L641.4 151.4L641.4 144.9L641.4 143.4L641.4 153.8L641.5 156.8L641.5 150.5L641.5 163.4L641.5 159.4L641.6 171.7L641.6 148.2L641.6 159.7L641.6 161.1L641.6 172.6L641.7 143.9L641.7 143.2L641.7 147.4L641.7 169L641.8 152.6L641.8 166L641.8 166L641.8 156.6L641.8 165.1L641.9 147.4L641.9 156.6L641.9 156L641.9 161.7L642 170.2L642 154.3L642 163.5L642 164.6L642.1 155.4L642.1 173.6L642.1 159.9L642.1 151L642.1 171.4L642.2 173.9L642.2 152.5L642.2 168.6L642.2 158.4L642.3 172.7L642.3 172.2L642.3 157.9L642.3 170.3L642.3 158.9L642.4 160.4L642.4 170.9L642.4 159.4L642.4 174.9L642.5 157.9L642.5 154.7L642.5 150.2L642.5 165L642.6 165.4L642.6 166.1L642.6 177.3L642.6 153.6L642.6 169.1L642.7 170.8L642.7 151.2L642.7 183.7L642.7 154.5L642.8 173.9L642.8 166.4L642.8 173.5L642.8 165.2L642.8 180.6L642.9 171.9L642.9 173.7L642.9 176L642.9 178.8L643 165L643 176.7L643 181.9L643 177.3L643 156.7L643.1 176.6L643.1 183.8L643.1 144.9L643.1 146.2L643.2 156.5L643.2 161.8L643.2 181.1L643.2 166.6L643.2 156.2L643.3 157.9L643.3 183.8L643.3 178.5L643.3 148.6L643.3 148.7L643.4 185.9L643.4 184.9L643.4 153L643.4 191L643.5 166.6L643.5 173.1L643.5 169.8L643.5 176L643.5 175.3L643.6 164.2L643.6 145.3L643.6 171.3L643.6 182.4L643.7 182.3L643.7 165.8L643.7 156L643.7 188.8L643.7 144L643.8 159.8L643.8 148.9L643.8 159.5L643.8 159.1L643.8 152L643.9 171.5L643.9 206.8L643.9 178.4L643.9 188L644 161.5L644 169.1L644 155.9L644 161L644 187.7L644.1 185.1L644.1 182.4L644.1 197.2L644.1 156.1L644.1 171.3L644.2 177.1L644.2 148.7L644.2 147.7L644.2 160.4L644.3 148L644.3 181.2L644.3 181L644.3 187L644.3 157.1L644.4 189.5L644.4 175.2L644.4 163.2L644.4 183.3L644.4 183.7L644.5 198.3L644.5 151.3L644.5 164.6L644.5 163.3L644.6 164.1L644.6 191.4L644.6 150.7L644.6 181.2L644.6 184.5L644.7 145L644.7 171.8L644.7 145.7L644.7 155.5L644.7 188.8L644.8 148.3L644.8 149.7L644.8 164.6L644.8 159.4L644.8 166.1L644.9 162.9L644.9 159.4L644.9 153.2L644.9 172.9L645 185.7L645 178.1L645 161.5L645 166.5L645 172.4L645.1 154.1L645.1 169.8L645.1 188.9L645.1 160.2L645.1 173.2L645.2 156.7L645.2 188.9L645.2 186.3L645.2 174L645.2 154.8L645.3 188.1L645.3 159.1L645.3 177.8L645.3 185.7L645.3 146.1L645.4 147.6L645.4 147.2L645.4 172.9L645.4 182.4L645.5 186.7L645.5 172.3L645.5 157.1L645.5 146.1L645.5 159.5L645.6 167.1L645.6 158.6L645.6 180.1L645.6 178.8L645.6 168L645.7 164.4L645.7 184.6L645.7 176.8L645.7 151.8L645.7 180.8L645.8 172.3L645.8 157L645.8 168.1L645.8 192.6L645.8 148.6L645.9 183.6L645.9 146L645.9 150.4L645.9 179.6L645.9 178.8L646 146.3L646 180.8L646 156L646 151.8L646 166.5L646.1 180.2L646.1 186.7L646.1 184.6L646.1 154.5L646.1 159.6L646.2 163.7L646.2 153.7L646.2 156.1L646.2 169.1L646.2 169.9L646.3 163.4L646.3 177.8L646.3 182.8L646.3 181.4L646.3 171.7L646.4 171.4L646.4 154.9L646.4 155.8L646.4 176.6L646.4 173L646.5 176.7L646.5 173.1L646.5 171.1L646.5 160.8L646.5 181.6L646.6 183.9L646.6 160.5L646.6 153.4L646.6 170.1L646.6 183L646.7 173.5L646.7 178.6L646.7 151.3L646.7 178.7L646.7 155.1L646.8 174L646.8 151.9L646.8 151.4L646.8 164.4L646.8 151.2L646.9 159.6L646.9 165.4L646.9 162.3L646.9 197.1L646.9 168.1L647 188.7L647 166.8L647 165.7L647 150.5L647 170.3L647.1 170.6L647.1 160.7L647.1 146.5L647.1 179.9L647.1 148.8L647.2 152.6L647.2 153.7L647.2 177.9L647.2 160.7L647.2 156L647.3 172.1L647.3 160.7L647.3 176.8L647.3 151L647.3 170.7L647.4 166.1L647.4 175L647.4 166.5L647.4 155.1L647.4 148.7L647.5 180L647.5 149.1L647.5 168.5L647.5 146.7L647.5 167.5L647.6 148.7L647.6 154.8L647.6 166L647.6 182L647.6 161.8L647.6 177.8L647.7 175.1L647.7 173L647.7 182.3L647.7 174.6L647.7 167.2L647.8 154.2L647.8 153.8L647.8 164L647.8 172.3L647.8 183.1L647.9 175.8L647.9 170.8L647.9 181.1L647.9 158.8L647.9 189.5L648 156.9L648 163.5L648 151.6L648 161L648 147.6L648.1 181.9L648.1 159.6L648.1 173.6L648.1 175.5L648.1 184.5L648.1 160.1L648.2 160.6L648.2 162.5L648.2 181.3L648.2 168L648.2 158.7L648.3 181L648.3 167.5L648.3 173.3L648.3 169.6L648.3 179.4L648.4 156.4L648.4 154.5L648.4 163.9L648.4 150.6L648.4 174.8L648.5 161.2L648.5 171.8L648.5 150.6L648.5 159.1L648.5 163.1L648.5 163.3L648.6 151.7L648.6 148.1L648.6 177.2L648.6 176.8L648.6 163.2L648.7 150L648.7 178.7L648.7 164.1L648.7 176.5L648.7 167.1L648.8 176.8L648.8 154.5L648.8 164.1L648.8 162.2L648.8 151L648.8 164.9L648.9 175.2L648.9 178.3L648.9 148.4L648.9 161.7L648.9 171.9L649 150.7L649 179.6L649 161.6L649 150.2L649 180L649.1 188.3L649.1 171.2L649.1 177.7L649.1 175.9L649.1 144.9L649.1 145.9L649.2 179.3L649.2 169.7L649.2 162.2L649.2 146.6L649.2 159.6L649.3 173.8L649.3 147.4L649.3 144.9L649.3 166.5L649.3 178.7L649.3 147.5L649.4 171L649.4 179.6L649.4 147.2L649.4 147.6L649.4 165.8L649.5 143.1L649.5 191.7L649.5 152.4L649.5 146.8L649.5 175.6L649.5 165L649.6 186.9L649.6 170.9L649.6 146.8L649.6 166.5L649.6 146.5L649.7 171.7L649.7 155.6L649.7 163.7L649.7 163.1L649.7 155.9L649.8 163.5L649.8 165.7L649.8 163.6L649.8 159.6L649.8 143.1L649.8 153.7L649.9 172.1L649.9 165.1L649.9 151.6L649.9 161.6L649.9 170L650 155.2L650 172.5L650 176.1L650 188.8L650 155.2L650 167.2L650.1 156.2L650.1 167.1L650.1 147.1L650.1 152.4L650.1 165.6L650.1 175.4L650.2 175.2L650.2 161.4L650.2 159.6L650.2 160.4L650.2 182.4L650.3 165.2L650.3 160.1L650.3 170.1L650.3 144.8L650.3 164.5L650.3 161.2L650.4 159.5L650.4 164.8L650.4 148.2L650.4 162.9L650.4 168.6L650.5 174.2L650.5 172.2L650.5 160.2L650.5 156L650.5 174.5L650.5 144.3L650.6 163.7L650.6 165.9L650.6 147.8L650.6 150.5L650.6 149.4L650.7 145.8L650.7 167.2L650.7 171.5L650.7 175.2L650.7 177.7L650.7 147.1L650.8 150.5L650.8 163.6L650.8 162L650.8 168.1L650.8 160.9L650.8 159.5L650.9 152.6L650.9 161.9L650.9 146.8L650.9 179.7L650.9 172.5L651 147.6L651 176.1L651 146.3L651 165.3L651 171L651 158.3L651.1 166.9L651.1 171.7L651.1 160.9L651.1 148.9L651.1 149.5L651.1 178.5L651.2 153.6L651.2 157.8L651.2 170.1L651.2 173.2L651.2 176.3L651.2 173.8L651.3 157L651.3 160.6L651.3 178L651.3 165L651.3 178.2L651.4 160.6L651.4 166.7L651.4 157.4L651.4 171.4L651.4 180.5L651.4 181.7L651.5 166.2L651.5 161L651.5 165.9L651.5 174.8L651.5 158.3L651.5 150.6L651.6 178.2L651.6 181.5L651.6 162.3L651.6 169.9L651.6 178.9L651.6 160.2L651.7 194L651.7 171.7L651.7 151.7L651.7 161.7L651.7 182.9L651.8 171.2L651.8 168.7L651.8 154.7L651.8 183L651.8 176.8L651.8 174.3L651.9 178.1L651.9 171.3L651.9 155.6L651.9 160.8L651.9 176.9L651.9 184.4L652 151.6L652 152.2L652 162.1L652 163.6L652 183.3L652 166.9L652.1 152.3L652.1 166.3L652.1 163.5L652.1 182.8L652.1 180.9L652.1 172L652.2 157.1L652.2 176.1L652.2 163.2L652.2 167.2L652.2 183.9L652.2 152.3L652.3 160.8L652.3 148.8L652.3 161.4L652.3 158.9L652.3 159.6L652.3 158.3L652.4 163.4L652.4 158.7L652.4 169.1L652.4 172.9L652.4 150.8L652.5 153.2L652.5 154.7L652.5 160.9L652.5 156.8L652.5 154.8L652.5 174.4L652.6 157.6L652.6 174.3L652.6 171.7L652.6 165.1L652.6 162.2L652.6 162.6L652.7 151.3L652.7 182.1L652.7 162.6L652.7 157.9L652.7 153.1L652.7 168.2L652.8 186.3L652.8 185.6L652.8 149L652.8 187L652.8 172.7L652.8 165.6L652.9 154L652.9 159.2L652.9 183.1L652.9 183.4L652.9 171.4L652.9 181.7L653 174.4L653 161.5L653 168L653 161.6L653 158.7L653 150.9L653.1 177.5L653.1 154.2L653.1 186.7L653.1 171.7L653.1 169.7L653.1 184.6L653.2 163.6L653.2 157.3L653.2 183.2L653.2 173.8L653.2 157.9L653.2 179.2L653.3 172.5L653.3 190.1L653.3 176.1L653.3 189.6L653.3 170.9L653.3 204.3L653.3 184.4L653.4 183.6L653.4 158.9L653.4 153.3L653.4 159.1L653.4 157.4L653.4 175.3L653.5 188.9L653.5 178.2L653.5 186.9L653.5 181.7L653.5 161.3L653.5 190.3L653.6 164.6L653.6 178.7L653.6 183.9L653.6 167.1L653.6 178L653.6 187.2L653.7 151.4L653.7 155L653.7 154.7L653.7 160.5L653.7 182.8L653.7 168.4L653.8 174.6L653.8 172.7L653.8 170.9L653.8 180.7L653.8 180.9L653.8 184L653.9 166.5L653.9 155.4L653.9 189.5L653.9 159.4L653.9 186.6L653.9 188.9L654 166.2L654 183.4L654 164.9L654 174.7L654 169.8L654 175.3L654 212L654.1 177.6L654.1 163.8L654.1 163.8L654.1 190.6L654.1 157.1L654.1 176.7L654.2 168.2L654.2 174.1L654.2 180.6L654.2 177.4L654.2 159.4L654.2 168.8L654.3 181.8L654.3 181.5L654.3 163.7L654.3 190.4L654.3 173.7L654.3 176L654.4 180L654.4 188.9L654.4 182.7L654.4 176.6L654.4 185L654.4 192.6L654.4 169.9L654.5 199.2L654.5 197.9L654.5 198.2L654.5 158L654.5 163.6L654.5 156.9L654.6 172.4L654.6 177.5L654.6 189.4L654.6 199.6L654.6 164.3L654.6 196.7L654.7 180.3L654.7 171.2L654.7 165.6L654.7 171.4L654.7 182.7L654.7 160.8L654.8 179.9L654.8 167.7L654.8 175.4L654.8 183.6L654.8 170.7L654.8 157.6L654.8 182.1L654.9 172.1L654.9 179L654.9 160.3L654.9 169L654.9 169.1L654.9 167.8L655 174.1L655 191.7L655 183.2L655 176.8L655 185.6L655 199.5L655.1 151.2L655.1 198.3L655.1 188.3L655.1 198.3L655.1 195.8L655.1 193.9L655.1 174.3L655.2 194.2L655.2 203.4L655.2 190.3L655.2 170.6L655.2 177L655.2 162.4L655.3 197.3L655.3 188L655.3 181.2L655.3 147.2L655.3 205.2L655.3 175L655.3 162.2L655.4 148.7L655.4 195.3L655.4 162.4L655.4 169.4L655.4 204.9L655.4 188.5L655.5 146.9L655.5 153.2L655.5 162.1L655.5 188.6L655.5 190.7L655.5 179.4L655.5 198.5L655.6 182.9L655.6 167.8L655.6 230.4L655.6 181.9L655.6 161.6L655.6 147.4L655.7 174.6L655.7 202.1L655.7 193.3L655.7 166.1L655.7 208.3L655.7 170.5L655.7 162.5L655.8 165.6L655.8 166L655.8 201.1L655.8 157.6L655.8 191.1L655.8 198.9L655.9 183.3L655.9 194.3L655.9 150.1L655.9 162.8L655.9 170.7L655.9 179.3L655.9 201L656 163L656 153L656 202.6L656 206.1L656 165.7L656 162.4L656.1 148.4L656.1 175.7L656.1 156.7L656.1 167.1L656.1 154.7L656.1 194.9L656.1 149.9L656.2 197.4L656.2 165.1L656.2 152.2L656.2 203.8L656.2 201.4L656.2 150.1L656.3 185.4L656.3 186.5L656.3 160.9L656.3 159.7L656.3 184.2L656.3 183.7L656.3 199.1L656.4 177.3L656.4 175.9L656.4 178.3L656.4 177.3L656.4 147.4L656.4 197.8L656.4 159.2L656.5 181L656.5 173.8L656.5 187L656.5 176.9L656.5 186.4L656.5 162L656.6 167.4L656.6 163.9L656.6 189.3L656.6 187.2L656.6 156.1L656.6 202L656.6 197.3L656.7 165.2L656.7 193.1L656.7 166.9L656.7 188.5L656.7 199.2L656.7 156.8L656.7 147.1L656.8 166.1L656.8 173.8L656.8 183.9L656.8 160.7L656.8 165.3L656.8 194.2L656.9 196.4L656.9 161.5L656.9 154.9L656.9 183.5L656.9 149.5L656.9 170.4L656.9 154.7L657 150.9L657 188.5L657 188.6L657 160L657 155.3L657 190.4L657 200.6L657.1 153.1L657.1 191L657.1 189.9L657.1 190.4L657.1 147L657.1 185.9L657.1 188.1L657.2 160.3L657.2 192.9L657.2 152.9L657.2 146.2L657.2 158.6L657.2 184.9L657.2 154.9L657.3 180.2L657.3 143.9L657.3 194.8L657.3 173L657.3 196.2L657.3 172.6L657.4 171L657.4 174.2L657.4 161.9L657.4 155.2L657.4 185.4L657.4 168.6L657.4 149.4L657.5 184.9L657.5 164.3L657.5 197.2L657.5 179.4L657.5 148.2L657.5 164.9L657.5 179.7L657.6 174.2L657.6 149L657.6 174.6L657.6 152L657.6 181.6L657.6 179.3L657.6 168.8L657.7 177.6L657.7 145.6L657.7 141.2L657.7 171.1L657.7 164.4L657.7 190.2L657.7 169.4L657.8 146.6L657.8 194L657.8 151.7L657.8 152.2L657.8 180.3L657.8 171.6L657.8 163.9L657.9 139.1L657.9 140.3L657.9 185.7L657.9 156.2L657.9 169.1L657.9 145L657.9 161.9L658 166.1L658 196.2L658 148.6L658 144.9L658 159L658 179L658 152.9L658.1 168.4L658.1 170.5L658.1 162.1L658.1 160.7L658.1 181.1L658.1 180L658.1 178.4L658.2 172.8L658.2 198.5L658.2 157.4L658.2 138.2L658.2 142.1L658.2 191.3L658.2 185L658.3 162.3L658.3 138.5L658.3 173.6L658.3 144.8L658.3 166.1L658.3 175.5L658.3 168.5L658.4 150.3L658.4 190.8L658.4 160.8L658.4 162.3L658.4 139.7L658.4 145.2L658.4 155.9L658.5 167.3L658.5 186.2L658.5 160.5L658.5 167L658.5 182L658.5 170.9L658.5 158.4L658.6 190.4L658.6 154.6L658.6 188.6L658.6 166.1L658.6 178.9L658.6 177.2L658.6 169.2L658.7 164.8L658.7 159.6L658.7 143.7L658.7 154.9L658.7 157.9L658.7 167.6L658.7 145.3L658.8 185.4L658.8 203.2L658.8 160.3L658.8 133.2L658.8 162.1L658.8 188.7L658.8 180.1L658.9 177.1L658.9 160.3L658.9 138.6L658.9 132.6L658.9 157.4L658.9 184.2L658.9 159.5L659 173.9L659 140.8L659 133.6L659 158L659 157L659 142.3L659 155.5L659.1 145.9L659.1 181.7L659.1 177.9L659.1 163L659.1 146.4L659.1 174.3L659.1 146.5L659.2 143.5L659.2 174.8L659.2 184.1L659.2 149.6L659.2 148.8L659.2 167L659.2 175.1L659.2 154.1L659.3 182.8L659.3 161.6L659.3 173.4L659.3 177.4L659.3 182.8L659.3 166.1L659.3 175.4L659.4 143.6L659.4 141.6L659.4 181L659.4 181.6L659.4 172.3L659.4 148.4L659.4 171.9L659.5 143.8L659.5 150L659.5 177.6L659.5 171.6L659.5 157.4L659.5 157.1L659.5 172.7L659.6 150.8L659.6 147L659.6 195.2L659.6 151.9L659.6 169.4L659.6 171.1L659.6 143L659.7 156.2L659.7 153.5L659.7 160.1L659.7 139L659.7 168.5L659.7 154L659.7 136.8L659.7 136.8L659.8 159.6L659.8 159.7L659.8 182L659.8 176.1L659.8 165.6L659.8 160.2L659.8 164.9L659.9 166.7L659.9 140.6L659.9 149.9L659.9 171.7L659.9 170.1L659.9 159.3L659.9 137.5L660 161.3L660 150.7L660 169.1L660 166.5L660 173.7L660 147.1L660 164.7L660 180.5L660.1 168.5L660.1 134.3L660.1 160.7L660.1 116.6L660.1 155.3L660.1 145L660.1 164.7L660.2 156.8L660.2 160.7L660.2 158.5L660.2 163.7L660.2 165.4L660.2 170.4L660.2 150.8L660.2 144.9L660.3 134.2L660.3 155.6L660.3 158.2L660.3 145.3L660.3 164.6L660.3 147.4L660.3 148.1L660.4 162.4L660.4 180.3L660.4 141L660.4 143.1L660.4 148.6L660.4 177.6L660.4 136.4L660.5 150.1L660.5 156L660.5 170.2L660.5 182.3L660.5 166.4L660.5 164.9L660.5 178.1L660.5 143.8L660.6 169.2L660.6 139.3L660.6 137.2L660.6 174.1L660.6 136.5L660.6 183.9L660.6 153.9L660.7 175.2L660.7 154L660.7 184.1L660.7 157.9L660.7 171.3L660.7 159.3L660.7 156.1L660.7 175.2L660.8 173L660.8 176.5L660.8 182.5L660.8 155.9L660.8 194.9L660.8 137.8L660.8 152.4L660.9 138.7L660.9 174.9L660.9 169.8L660.9 142.6L660.9 174.1L660.9 164.8L660.9 161.7L660.9 161.3L661 173.1L661 175.1L661 170.4L661 181L661 159.6L661 141.2L661 182.6L661 180.9L661.1 185.9L661.1 173.1L661.1 159.5L661.1 179.5L661.1 173.4L661.1 163.3L661.1 157.1L661.2 161.5L661.2 169.4L661.2 182.3L661.2 176.1L661.2 168.2L661.2 174.8L661.2 172L661.2 176.9L661.3 170.6L661.3 154.1L661.3 203.7L661.3 170.9L661.3 182.1L661.3 186.6L661.3 174.8L661.4 158.4L661.4 158.7L661.4 160.8L661.4 145L661.4 178.1L661.4 171.5L661.4 177.1L661.4 159.9L661.5 152.6L661.5 181.2L661.5 163.1L661.5 151.4L661.5 194.7L661.5 151.6L661.5 158L661.5 176.6L661.6 176.8L661.6 160.5L661.6 181.4L661.6 169.8L661.6 168.5L661.6 144.5L661.6 171.7L661.7 184.7L661.7 170.9L661.7 200.2L661.7 170.1L661.7 150.6L661.7 158.6L661.7 146.6L661.7 156.9L661.8 186.6L661.8 158L661.8 173.6L661.8 175L661.8 147.5L661.8 177.5L661.8 147.9L661.8 148.8L661.9 176.2L661.9 164L661.9 150.1L661.9 184.6L661.9 179.3L661.9 172L661.9 175.2L661.9 164L662 159.9L662 176.4L662 162L662 164.6L662 163.9L662 169.1L662 145.6L662.1 149.3L662.1 174.4L662.1 151.7L662.1 156.8L662.1 184.6L662.1 160.3L662.1 150.6L662.1 188.7L662.2 160.6L662.2 183.5L662.2 165.5L662.2 175.8L662.2 181.4L662.2 178.7L662.2 153.9L662.2 143.9L662.3 177.7L662.3 159.8L662.3 169.5L662.3 147.8L662.3 176.3L662.3 181.6L662.3 191.2L662.3 158.3L662.4 171.6L662.4 183.2L662.4 183.3L662.4 167.8L662.4 171.8L662.4 206.5L662.4 151L662.4 170.7L662.5 179.9L662.5 188.5L662.5 159.9L662.5 175L662.5 145.1L662.5 152.4L662.5 166.3L662.5 144.7L662.6 156.6L662.6 147.1L662.6 164L662.6 167.2L662.6 180.5L662.6 160.5L662.6 191.9L662.6 176.6L662.7 168.5L662.7 152.3L662.7 189.3L662.7 186.6L662.7 170.3L662.7 164L662.7 147.2L662.7 152.6L662.8 160.8L662.8 193L662.8 167L662.8 163.8L662.8 192L662.8 193.2L662.8 148.8L662.8 150.3L662.9 175.3L662.9 186.8L662.9 194L662.9 192.2L662.9 165.1L662.9 181.9L662.9 148.2L662.9 183.6L663 151.7L663 173.2L663 187.9L663 195L663 178.4L663 190.7L663 153.4L663 181.9L663.1 187L663.1 179.3L663.1 157.8L663.1 181.2L663.1 159.7L663.1 165.7L663.1 164.5L663.1 174.2L663.2 165.6L663.2 183.8L663.2 193.5L663.2 185L663.2 154.4L663.2 180.8L663.2 180.5L663.2 169.4L663.3 189.2L663.3 172L663.3 195.6L663.3 179.1L663.3 192L663.3 157.7L663.3 161.1L663.3 182.7L663.4 192.4L663.4 181.4L663.4 187.8L663.4 188.9L663.4 183.2L663.4 169L663.4 168.7L663.4 172.7L663.5 173.6L663.5 184.7L663.5 194L663.5 180.6L663.5 161.4L663.5 177L663.5 160.9L663.5 189.8L663.6 163.5L663.6 191.8L663.6 174L663.6 171.8L663.6 199.1L663.6 173L663.6 172.9L663.6 156.3L663.7 186.7L663.7 166.9L663.7 167L663.7 186.5L663.7 190.8L663.7 178.2L663.7 158.8L663.7 158.6L663.8 155.2L663.8 197.7L663.8 177.8L663.8 158.1L663.8 169.4L663.8 188.2L663.8 161L663.8 194.3L663.8 168.6L663.9 198L663.9 184.2L663.9 176.9L663.9 157.2L663.9 167.3L663.9 185.4L663.9 159.8L663.9 184.8L664 186.9L664 164L664 189.8L664 194.2L664 192.9L664 167L664 178L664 169.4L664.1 159.3L664.1 155.7L664.1 163.1L664.1 177.2L664.1 168.4L664.1 176L664.1 152.7L664.1 149.5L664.2 191.5L664.2 178.7L664.2 182.6L664.2 190.6L664.2 197.6L664.2 198.8L664.2 162.6L664.2 175.1L664.2 153.5L664.3 182.7L664.3 169.2L664.3 169.2L664.3 171.1L664.3 193.4L664.3 149.4L664.3 158.4L664.3 169.2L664.4 149.1L664.4 179.3L664.4 149L664.4 193.9L664.4 161.7L664.4 170L664.4 163.2L664.4 174.5L664.5 170.7L664.5 174.6L664.5 166.6L664.5 160.5L664.5 177.5L664.5 158L664.5 151.9L664.5 153.4L664.5 176.9L664.6 181.1L664.6 165.1L664.6 158.9L664.6 179.8L664.6 168.8L664.6 184.6L664.6 196.3L664.6 166.5L664.7 196L664.7 189.8L664.7 182.1L664.7 184.9L664.7 158.3L664.7 186.6L664.7 196.6L664.7 152L664.7 162L664.8 174.3L664.8 150.2L664.8 188L664.8 195.1L664.8 176.8L664.8 148.7L664.8 176.8L664.8 194.7L664.9 179.3L664.9 168.8L664.9 163.9L664.9 184L664.9 152.9L664.9 154.2L664.9 163.6L664.9 174.7L665 154L665 181.9L665 167.6L665 196L665 174.2L665 167.8L665 148.1L665 184.5L665 169.3L665.1 160.6L665.1 165.3L665.1 167.9L665.1 198.1L665.1 202.4L665.1 172.2L665.1 195L665.1 184.4L665.2 176.6L665.2 197.7L665.2 200L665.2 165.2L665.2 198.8L665.2 192.8L665.2 181.1L665.2 193.3L665.2 182.8L665.3 189.4L665.3 164.1L665.3 190L665.3 193.9L665.3 167.8L665.3 197.8L665.3 170.7L665.3 148.3L665.3 193.5L665.4 172.5L665.4 146.8L665.4 160L665.4 166L665.4 197.5L665.4 152.1L665.4 219.9L665.4 171L665.5 151.4L665.5 221.2L665.5 164.1L665.5 178.7L665.5 183L665.5 202.8L665.5 162.5L665.5 162.1L665.5 146.9L665.6 161.2L665.6 192.9L665.6 146.5L665.6 195.1L665.6 180.6L665.6 193.5L665.6 165.7L665.6 172.7L665.7 184.7L665.7 183.6L665.7 212.3L665.7 152.5L665.7 185.3L665.7 164.3L665.7 218.5L665.7 180.5L665.7 187.8L665.8 202.8L665.8 196.8L665.8 187.6L665.8 186.4L665.8 168.9L665.8 170.7L665.8 187.4L665.8 198.3L665.8 197.8L665.9 151.7L665.9 158.7L665.9 156.3L665.9 188.8L665.9 152.2L665.9 179.4L665.9 187.6L665.9 200.7L666 183.9L666 174.9L666 147.6L666 184.5L666 225.7L666 202.3L666 199.2L666 173.2L666 176.4L666.1 170.4L666.1 162.6L666.1 160.4L666.1 195.5L666.1 189.5L666.1 171.6L666.1 162.3L666.1 201.8L666.1 157.3L666.2 173.3L666.2 179.4L666.2 204.6L666.2 163.1L666.2 151.8L666.2 191.1L666.2 158.6L666.2 199.4L666.2 154.3L666.3 161.1L666.3 172L666.3 198.4L666.3 173.7L666.3 165.5L666.3 185.2L666.3 184.1L666.3 195.8L666.3 189.7L666.4 188L666.4 156.2L666.4 166.5L666.4 222L666.4 175.5L666.4 151.4L666.4 189.2L666.4 198L666.5 203.8L666.5 171.2L666.5 172.7L666.5 174.3L666.5 205.2L666.5 177.3L666.5 176.2L666.5 171.9L666.5 205.1L666.6 180L666.6 180.4L666.6 161.4L666.6 162.1L666.6 163.7L666.6 192.7L666.6 196.5L666.6 161.4L666.6 179.7L666.7 157.5L666.7 160.6L666.7 170.7L666.7 189.9L666.7 181.8L666.7 182.9L666.7 160.8L666.7 155L666.7 179.3L666.8 186.5L666.8 190.2L666.8 169.2L666.8 191.9L666.8 159.6L666.8 200.8L666.8 201.9L666.8 167.1L666.8 161.1L666.9 155.1L666.9 190.3L666.9 183.1L666.9 189L666.9 175.1L666.9 147.3L666.9 168.3L666.9 202.5L666.9 178.8L667 171L667 195.9L667 201.3L667 149.3L667 185.4L667 183.3L667 155.5L667 158.2L667 192.4L667.1 174.1L667.1 155.4L667.1 169.2L667.1 169L667.1 156.8L667.1 172.8L667.1 199.1L667.1 160.7L667.1 180.4L667.2 148.8L667.2 188.9L667.2 172.1L667.2 152.5L667.2 199.1L667.2 200.9L667.2 202.1L667.2 172.2L667.2 165.4L667.3 147.9L667.3 179.8L667.3 162.2L667.3 157L667.3 199.2L667.3 154.4L667.3 164.4L667.3 189.4L667.3 162.9L667.4 190.3L667.4 167.7L667.4 159.8L667.4 181.6L667.4 183.1L667.4 148.9L667.4 171.5L667.4 179.5L667.4 184.3L667.5 183.3L667.5 153.2L667.5 202.9L667.5 196.7L667.5 172.7L667.5 175.5L667.5 194.7L667.5 177.8L667.5 168.8L667.6 172.1L667.6 193.4L667.6 147.5L667.6 157.6L667.6 180.7L667.6 177.9L667.6 159.6L667.6 149.3L667.6 182.4L667.6 182.9L667.7 158.1L667.7 178.9L667.7 170.2L667.7 200.3L667.7 135.5L667.7 163.2L667.7 161.5L667.7 157.6L667.7 188.7L667.8 153L667.8 166.7L667.8 186.4L667.8 208.9L667.8 199.7L667.8 159.7L667.8 197.5L667.8 205.2L667.8 202.1L667.9 183.3L667.9 190.8L667.9 167.8L667.9 202.1L667.9 193.9L667.9 159.3L667.9 193.9L667.9 203.1L667.9 174L668 163.2L668 162.4L668 196.1L668 165L668 211.1L668 204.7L668 171.7L668 198L668 166.9L668.1 161L668.1 161.5L668.1 168.7L668.1 201.5L668.1 150.6L668.1 221.5L668.1 182.9L668.1 177.8L668.1 182L668.1 199.4L668.2 198L668.2 207.2L668.2 182.3L668.2 196.5L668.2 163.9L668.2 182.4L668.2 170.3L668.2 218.1L668.2 156.3L668.3 185.8L668.3 169.9L668.3 206.4L668.3 183.8L668.3 188.8L668.3 190.6L668.3 173.4L668.3 171.5L668.3 156.8L668.4 160.9L668.4 168.4L668.4 175.4L668.4 181.8L668.4 174.5L668.4 198.7L668.4 181.1L668.4 162L668.4 156.4L668.4 153.6L668.5 184.7L668.5 195.4L668.5 187.7L668.5 197.7L668.5 158.4L668.5 166.8L668.5 173.1L668.5 153.4L668.5 158.4L668.6 205.9L668.6 175.5L668.6 191.3L668.6 208.5L668.6 156.5L668.6 151.9L668.6 187.9L668.6 157.4L668.6 203.7L668.7 175.1L668.7 155L668.7 187.8L668.7 181.2L668.7 151.9L668.7 176L668.7 194.9L668.7 177.3L668.7 188.5L668.7 206.3L668.8 186.2L668.8 180.2L668.8 190.8L668.8 210.5L668.8 181L668.8 199.8L668.8 169.9L668.8 176.5L668.8 177.5L668.9 180.3L668.9 158.1L668.9 193.8L668.9 166.8L668.9 179.9L668.9 176.4L668.9 187.8L668.9 155.5L668.9 206.6L668.9 178.5L669 160.1L669 197.3L669 157.4L669 193.9L669 176L669 204.8L669 158.4L669 176.2L669 154.9L669.1 184.2L669.1 155.3L669.1 207.5L669.1 203.2L669.1 192L669.1 171.6L669.1 177.7L669.1 157.5L669.1 192.3L669.1 180.9L669.2 162L669.2 167.2L669.2 200.1L669.2 175.9L669.2 172.4L669.2 209L669.2 211.4L669.2 182.2L669.2 206.5L669.2 207.1L669.3 170.3L669.3 193.9L669.3 168.8L669.3 160.1L669.3 211.8L669.3 183.2L669.3 193.8L669.3 184.2L669.3 168.1L669.4 174.8L669.4 168.1L669.4 204.8L669.4 208.2L669.4 165.5L669.4 202.5L669.4 167.4L669.4 188.4L669.4 217.9L669.4 192.9L669.5 187.4L669.5 174.4L669.5 197.3L669.5 179.6L669.5 202.3L669.5 201.2L669.5 156.8L669.5 180.7L669.5 197.2L669.6 188.5L669.6 196.9L669.6 176.3L669.6 201.4L669.6 171.9L669.6 165.4L669.6 189.6L669.6 190.3L669.6 194.9L669.6 188.9L669.7 171.2L669.7 201L669.7 210.6L669.7 184L669.7 195.6L669.7 209.4L669.7 177.1L669.7 157.5L669.7 179.7L669.7 158L669.8 206.9L669.8 198L669.8 193.2L669.8 169.4L669.8 188.9L669.8 184.9L669.8 207.5L669.8 174.9L669.8 163.9L669.8 206.3L669.9 201.5L669.9 182.4L669.9 201.6L669.9 178L669.9 167.5L669.9 195.2L669.9 161.3L669.9 181.5L669.9 177.6L670 211.6L670 181.9L670 168.4L670 182.7L670 161.6L670 192L670 175.5L670 154.8L670 189.3L670 158.7L670.1 208L670.1 184.2L670.1 170.9L670.1 195.8L670.1 177.8L670.1 157.5L670.1 168.8L670.1 183.4L670.1 183.5L670.1 192.7L670.2 212.5L670.2 150.8L670.2 194.4L670.2 175.7L670.2 165.8L670.2 205.1L670.2 186.2L670.2 158.9L670.2 184.2L670.2 208.2L670.3 167.2L670.3 201.9L670.3 194.2L670.3 195.3L670.3 156.3L670.3 183.4L670.3 212.3L670.3 165.1L670.3 175.3L670.3 170.7L670.4 170.1L670.4 163L670.4 175L670.4 202.3L670.4 161L670.4 209.9L670.4 172L670.4 191.7L670.4 175.1L670.4 185.6L670.5 201.2L670.5 213.1L670.5 208.6L670.5 233L670.5 183L670.5 156.1L670.5 201.1L670.5 167.1L670.5 184.9L670.5 171L670.6 169.1L670.6 180.1L670.6 202.7L670.6 193.7L670.6 156L670.6 191.7L670.6 154.7L670.6 163.7L670.6 157.4L670.6 170L670.7 193.3L670.7 184.5L670.7 188.5L670.7 191.3L670.7 236.2L670.7 187L670.7 180.2L670.7 192.5L670.7 205.3L670.7 180.9L670.8 174.5L670.8 184.3L670.8 156L670.8 172.8L670.8 169.2L670.8 183.7L670.8 180.7L670.8 217.5L670.8 157.9L670.8 194.6L670.9 211L670.9 213L670.9 189.5L670.9 158.5L670.9 199.8L670.9 198.9L670.9 161L670.9 184.9L670.9 200.9L670.9 188.3L671 163.4L671 191.9L671 191.1L671 207.7L671 176.9L671 165.2L671 210.2L671 178.1L671 198.2L671 197.5L671.1 203L671.1 210.2L671.1 151.7L671.1 210.2L671.1 169.3L671.1 188.3L671.1 195.4L671.1 159.6L671.1 197.4L671.1 178.4L671.2 174.8L671.2 185L671.2 156.7L671.2 182.2L671.2 215.6L671.2 230.8L671.2 164.2L671.2 183.4L671.2 213.9L671.2 209.6L671.3 155.6L671.3 168.7L671.3 159.5L671.3 184.4L671.3 162.9L671.3 200.6L671.3 215.1L671.3 210.1L671.3 199.2L671.3 208.8L671.4 181.4L671.4 167.9L671.4 206.5L671.4 183.2L671.4 201.1L671.4 166.8L671.4 160.3L671.4 203.4L671.4 195.4L671.4 179L671.5 151.6L671.5 161.3L671.5 169.5L671.5 156L671.5 179.7L671.5 158.3L671.5 174.5L671.5 158.8L671.5 184.7L671.5 184.5L671.5 190.2L671.6 193L671.6 161.2L671.6 229L671.6 170.1L671.6 210.2L671.6 195.9L671.6 181.3L671.6 173.8L671.6 196.7L671.6 197.9L671.7 183.5L671.7 183.7L671.7 199.9L671.7 155.9L671.7 239.9L671.7 192.6L671.7 193.8L671.7 214.3L671.7 204.8L671.7 169.7L671.8 190.1L671.8 202.6L671.8 163.7L671.8 159.9L671.8 170.5L671.8 194.9L671.8 192.6L671.8 210.4L671.8 211.2L671.8 194.5L671.9 200.9L671.9 155.6L671.9 199L671.9 177.8L671.9 181.4L671.9 201.5L671.9 166.1L671.9 200.9L671.9 210L671.9 165.6L671.9 162.2L672 154.8L672 177.5L672 167.5L672 208.1L672 209L672 190.5L672 195.4L672 172.5L672 203.7L672 208.8L672.1 184L672.1 215.4L672.1 208.8L672.1 212.7L672.1 198.8L672.1 210.7L672.1 208.3L672.1 192.8L672.1 191L672.1 214.1L672.1 179.5L672.2 208.5L672.2 204.3L672.2 181.5L672.2 170L672.2 178L672.2 166.9L672.2 177.1L672.2 181L672.2 164.9L672.2 197.3L672.3 203.2L672.3 203.2L672.3 174.2L672.3 198.9L672.3 167.4L672.3 166.7L672.3 166.2L672.3 203.4L672.3 216.1L672.3 206.2L672.4 197.9L672.4 171.2L672.4 212.7L672.4 173.7L672.4 177.4L672.4 180.6L672.4 191.7L672.4 205.6L672.4 180.1L672.4 211.4L672.4 204.2L672.5 214.3L672.5 165.6L672.5 200.7L672.5 210.9L672.5 197.5L672.5 175.1L672.5 164.6L672.5 167.6L672.5 171.2L672.5 187.7L672.6 212L672.6 174L672.6 205.7L672.6 213.3L672.6 196.9L672.6 201.9L672.6 186.1L672.6 207.4L672.6 173L672.6 204.2L672.6 201.6L672.7 176.2L672.7 164.2L672.7 195.5L672.7 205.6L672.7 187.1L672.7 175.6L672.7 184.9L672.7 169.5L672.7 207L672.7 209.1L672.7 204.7L672.8 195.1L672.8 172.4L672.8 168.5L672.8 184.5L672.8 193.4L672.8 178L672.8 207.5L672.8 194.8L672.8 167.4L672.8 174.7L672.9 216.7L672.9 209.1L672.9 167.9L672.9 208.7L672.9 182L672.9 191.6L672.9 171.8L672.9 201.1L672.9 166L672.9 191.3L672.9 189.5L673 177.8L673 185.8L673 171.2L673 206.1L673 182.1L673 189.3L673 207.7L673 192.7L673 210.2L673 171.1L673 176.9L673.1 214.6L673.1 205.4L673.1 191.2L673.1 210.2L673.1 185.2L673.1 209L673.1 189.1L673.1 206.8L673.1 174.8L673.1 180.1L673.2 204L673.2 196.4L673.2 170.2L673.2 204.1L673.2 195.6L673.2 190.1L673.2 204.5L673.2 196.7L673.2 167.2L673.2 165.4L673.2 184.9L673.3 200L673.3 211.9L673.3 177.1L673.3 181.3L673.3 213.5L673.3 189.5L673.3 211L673.3 203.7L673.3 178.2L673.3 191.7L673.3 193.6L673.4 176L673.4 190.7L673.4 187.2L673.4 172.9L673.4 201.4L673.4 199.4L673.4 190.6L673.4 210.9L673.4 187.7L673.4 183.6L673.4 185.1L673.5 170.8L673.5 178.3L673.5 179.9L673.5 197.1L673.5 208.1L673.5 207.8L673.5 204.6L673.5 177.5L673.5 196.7L673.5 191L673.6 212.9L673.6 213.5L673.6 179.6L673.6 206.7L673.6 186.5L673.6 212.4L673.6 172.9L673.6 179.8L673.6 183.9L673.6 166.3L673.6 190.2L673.7 188.8L673.7 197.5L673.7 207.9L673.7 165.6L673.7 193.6L673.7 181.3L673.7 202.7L673.7 188.1L673.7 192.4L673.7 200.3L673.7 168.4L673.8 180.7L673.8 181.9L673.8 186.7L673.8 188.4L673.8 165.4L673.8 183.7L673.8 164.7L673.8 209.8L673.8 213.7L673.8 212.4L673.8 184L673.9 172L673.9 197.7L673.9 172.8L673.9 211.1L673.9 214.4L673.9 175.1L673.9 200.2L673.9 174.8L673.9 171.8L673.9 175.9L673.9 176.6L674 176.7L674 185.6L674 167.3L674 165L674 167.2L674 209.1L674 178.1L674 169.3L674 172.1L674 166.4L674 171.6L674.1 198.1L674.1 200.7L674.1 185L674.1 163.2L674.1 180.7L674.1 165.4L674.1 208.8L674.1 206.4L674.1 174.3L674.1 208.5L674.1 193.1L674.2 186L674.2 212.3L674.2 210.7L674.2 173L674.2 162.2L674.2 190.1L674.2 212.4L674.2 213L674.2 170.7L674.2 214.4L674.2 179.9L674.3 205.2L674.3 209.2L674.3 173.5L674.3 211.1L674.3 207.8L674.3 188.3L674.3 191.7L674.3 204.4L674.3 198L674.3 184.7L674.3 204.5L674.4 213.9L674.4 197.3L674.4 206.7L674.4 186.1L674.4 204.1L674.4 161.5L674.4 168.8L674.4 202.7L674.4 165.4L674.4 194.1L674.4 175.7L674.5 173.6L674.5 181.6L674.5 190.6L674.5 176.2L674.5 207.4L674.5 169.5L674.5 166.6L674.5 181.9L674.5 210.2L674.5 169L674.5 169L674.6 192L674.6 170.5L674.6 209.2L674.6 193.4L674.6 177.3L674.6 162.1L674.6 212.4L674.6 163.9L674.6 203.2L674.6 183.9L674.6 197.4L674.6 197.8L674.7 186.3L674.7 197.9L674.7 198L674.7 203.1L674.7 174.7L674.7 172.6L674.7 179.6L674.7 177.1L674.7 210.8L674.7 201.8L674.7 205.3L674.8 162L674.8 179.3L674.8 207.2L674.8 206.8L674.8 181.3L674.8 164L674.8 212.1L674.8 211.1L674.8 185L674.8 169.7L674.8 172.4L674.9 200.9L674.9 214.1L674.9 198.9L674.9 171L674.9 213.7L674.9 165.1L674.9 196.6L674.9 184.7L674.9 166.3L674.9 190.4L674.9 161.7L675 165.3L675 170.3L675 213.1L675 197.1L675 172.2L675 213.2L675 194.2L675 165.1L675 185L675 185.3L675 156.6L675 167.1L675.1 190.2L675.1 183.1L675.1 196.8L675.1 212.8L675.1 165.7" stroke="#000" stroke-width="1.5" fill="none" stroke-linejoin="round"/>
<path d="M382.7 119.1h0M408.5 113.5h0M423.2 112.7h0M433.5 111.6h0M441.4 87.6h0M447.9 88.7h0M453.4 88.4h0M458.1 93.5h0M462.2 103h0M465.9 100.1h0M469.3 98h0M472.4 98.7h0M475.2 104.9h0M477.8 102h0M480.2 104.9h0M482.5 105.3h0M484.6 99.7h0M486.6 99.7h0M488.5 100.1h0M490.3 102.5h0M492 102.7h0M493.6 103h0M495.2 112.6h0M496.7 99h0M498.1 103.5h0M499.5 94.3h0M500.8 102h0M502.1 107h0M503.3 114h0M504.5 120h0M505.7 123h0M506.8 118h0M507.8 122.9h0M508.9 126h0M509.9 117h0M510.9 109h0M511.8 111h0M512.8 113.5h0M513.7 118h0M514.6 119.7h0M515.4 110h0M516.3 107.1h0M517.1 108.7h0M517.9 115h0M518.7 124.4h0M519.5 118h0M520.2 111h0M521 110.2h0M521.7 115h0M522.4 118.1h0M523.1 114h0M523.8 111.8h0M524.4 118h0M525.1 122.9h0M525.7 116h0M526.3 110.2h0M527 113h0M527.6 116.5h0M528.2 112h0M528.8 110h0M529.3 108.7h0M529.9 112h0M530.5 118h0M531 118.1h0M531.6 121h0M532.1 122.9h0M532.6 118h0M533.1 112h0M533.6 110.2h0M534.2 115h0M534.6 119.7h0M535.1 116h0M535.6 113.4h0M536.1 110h0M536.6 113h0M537 108h0M537.5 104h0M537.9 100.8h0M538.4 108h0M538.8 115h0M539.3 119.7h0M539.7 109.4h0M540.1 123.8h0M540.5 109.5h0M540.9 121.4h0M541.3 117.8h0M541.8 117.4h0M542.1 117.3h0M542.5 109.2h0M542.9 118.4h0M543.3 124h0M543.7 114.8h0M544.1 110.5h0M544.5 112.1h0M544.8 106.9h0M545.2 113.1h0M545.6 104.1h0M545.9 115.8h0M546.3 101.4h0M546.6 120.2h0M547 108.8h0M547.3 100.9h0M547.7 99.3h0M548 115.5h0M548.3 104.2h0M548.7 106.1h0M549 112.5h0M549.3 106h0M549.6 107.1h0M549.9 105.3h0M550.3 108.7h0M550.6 107.6h0M550.9 117.3h0M551.2 106h0M551.5 110h0M551.8 111.3h0M552.1 112.1h0M552.4 121.8h0M552.7 113.4h0M553 116.9h0M553.3 119.6h0M553.6 125.3h0M553.9 118.7h0M554.1 117.4h0M554.4 127.7h0M554.7 125.4h0M555 128h0M555.2 120.5h0M555.5 132.3h0M555.8 130.1h0M556.1 137.6h0M556.3 124.6h0M556.6 139.6h0M556.8 136.8h0M557.1 126.3h0M557.4 126.2h0M557.6 124h0M557.9 131.1h0M558.1 123.4h0M558.4 123.5h0M558.6 127.3h0M558.9 125.1h0M559.1 132h0M559.4 123.7h0M559.6 120.3h0M559.8 119.9h0M560.1 124.5h0M560.3 125.6h0M560.6 123.3h0M560.8 129.1h0M561 118.4h0M561.2 117.4h0M561.5 126.2h0M561.7 127.1h0M561.9 132.2h0M562.2 128.4h0M562.4 139.4h0M562.6 126.9h0M562.8 125.5h0M563 136.4h0M563.3 119.6h0M563.5 127.7h0M563.7 124.4h0M563.9 126.9h0M564.1 125.3h0M564.3 127h0M564.5 136.5h0M564.7 116.3h0M565 124.2h0M565.2 116.6h0M565.4 122.2h0M565.6 120.6h0M565.8 117.5h0M566 141.2h0M566.2 129h0M566.4 120.9h0M566.6 122.1h0M566.8 114.9h0M567 114.7h0M567.2 116.9h0M567.3 121.6h0M567.5 115.7h0M567.7 120.4h0M567.9 128.5h0M568.1 123h0M568.3 122.2h0M568.5 125.8h0M568.7 122.5h0M568.9 124.8h0M569 123.1h0M569.2 122.9h0M569.4 126.2h0M569.6 135.6h0M569.8 138.9h0M570 114.1h0M570.1 135.8h0M570.3 122.7h0M570.5 136.7h0M570.7 121.7h0M570.8 119.7h0M571 131.7h0M571.2 116.9h0M571.4 134.6h0M571.5 135.9h0M571.7 117.3h0M571.9 132.9h0M572 117.6h0M572.2 112.2h0M572.4 121.8h0M572.5 112.7h0M572.7 115.4h0M572.9 113.6h0M573 125.9h0M573.2 136h0M573.4 119.8h0M573.5 118.8h0M573.7 121.7h0M573.8 122.9h0M574 115.9h0M574.2 124.8h0M574.3 125.4h0M574.5 142.4h0M574.6 124h0M574.8 119.7h0M574.9 120.2h0M575.1 126.9h0M575.3 125.8h0M575.4 124.8h0M575.6 117.9h0M575.7 114.8h0M575.9 127.4h0M576 128.1h0M576.2 124.6h0M576.3 142.7h0M576.5 126h0M576.6 125.3h0M576.8 121.6h0M576.9 126.9h0M577.1 126.9h0M577.2 119.9h0M577.3 135.6h0M577.5 119.4h0M577.6 128.1h0M577.8 121.7h0M577.9 128h0M578.1 123.4h0M578.2 142.7h0M578.3 136.2h0M578.5 128.2h0M578.6 128.5h0M578.8 129.1h0M578.9 121.8h0M579 134.6h0M579.2 132.6h0M579.3 122.5h0M579.5 121.2h0M579.6 138.1h0M579.7 129h0M579.9 129.7h0M580 148.2h0M580.1 123.4h0M580.3 131.4h0M580.4 124.3h0M580.5 137.3h0M580.7 122.8h0M580.8 128.8h0M580.9 123.3h0M581.1 129.6h0M581.2 123.3h0M581.3 135.2h0M581.4 122h0M581.6 125.5h0M581.7 122.2h0M581.8 124h0M582 128.2h0M582.1 126h0M582.2 123.6h0M582.3 123.6h0M582.5 125.9h0M582.6 127.7h0M582.7 121.1h0M582.8 133.5h0M583 120.9h0M583.1 123.4h0M583.2 143.8h0M583.3 140.1h0M583.5 123.8h0M583.6 142.3h0M583.7 135.8h0M583.8 123.3h0M583.9 133.2h0M584.1 124.4h0M584.2 130.4h0M584.3 125.4h0M584.4 126h0M584.5 141.6h0M584.6 129.7h0M584.8 124.1h0M584.9 127.7h0M585 132.8h0M585.1 125h0M585.2 148.5h0M585.3 122.6h0M585.5 134h0M585.6 126h0M585.7 132h0M585.8 124.6h0M585.9 137.7h0M586 126.9h0M586.1 132.9h0M586.3 125.5h0M586.4 124.9h0M586.5 126.5h0M586.6 135.5h0M586.7 138.4h0M586.8 134.7h0M586.9 155.3h0M587 130.8h0M587.1 133.1h0M587.3 137h0M587.4 140.1h0M587.5 126.4h0M587.6 128.1h0M587.7 128.6h0M587.8 122.9h0M587.9 125.5h0M588 132.7h0M588.1 136.6h0M588.2 145.2h0M588.3 157.5h0M588.4 143.7h0M588.5 135.1h0M588.6 127.1h0M588.7 128.9h0M588.9 133.4h0M589 140.2h0M589.1 141.2h0M589.2 126.4h0M589.3 127.4h0M589.4 147.5h0M589.5 142h0M589.6 132.8h0M589.7 140h0M589.8 136.6h0M589.9 127.3h0M590 136.5h0M590.1 128h0M590.2 157.8h0M590.3 127.6h0M590.4 128.8h0M590.5 130.7h0M590.6 136.2h0M590.7 154.8h0M590.8 132.3h0M590.9 138.2h0M591 150h0M591.1 141h0M591.2 128.2h0M591.3 140.9h0M591.4 131.2h0M591.5 139.8h0M591.6 136.8h0M591.7 135.5h0M591.8 125.9h0M591.8 127.4h0M591.9 124.1h0M592 151.4h0M592.1 132.3h0M592.2 135h0M592.3 123.7h0M592.4 120.3h0M592.5 123.3h0M592.6 140.3h0M592.7 137.5h0M592.8 133.1h0M592.9 140.1h0M593 135.7h0M593.1 137.5h0M593.2 132h0M593.3 120.1h0M593.3 134.6h0M593.4 121h0M593.5 143.1h0M593.6 119.4h0M593.7 124.6h0M593.8 139.6h0M593.9 141.7h0M594 139h0M594.1 126.8h0M594.2 123.2h0M594.3 140.8h0M594.3 119.3h0M594.4 132.5h0M594.5 134.5h0M594.6 124.5h0M594.7 120.9h0M594.8 129.1h0M594.9 141.4h0M595 125h0M595 121.5h0M595.1 123.2h0M595.2 134.7h0M595.3 123.7h0M595.4 149.8h0M595.5 121.7h0M595.6 130.1h0M595.7 149h0M595.7 123.7h0M595.8 128.9h0M595.9 119.3h0M596 123h0M596.1 135.9h0M596.2 123h0M596.2 122h0M596.3 121.3h0M596.4 134.6h0M596.5 137.6h0M596.6 123.3h0M596.7 132.5h0M596.7 149.4h0M596.8 139.8h0M596.9 119.9h0M597 136.3h0M597.1 114.8h0M597.2 133.2h0M597.2 134.6h0M597.3 140.8h0M597.4 128.7h0M597.5 132.8h0M597.6 125.5h0M597.7 134.1h0M597.7 127h0M597.8 138.9h0M597.9 132.5h0M598 148.4h0M598.1 139.1h0M598.1 130.4h0M598.2 127.2h0M598.3 153.7h0M598.4 130.3h0M598.5 148h0M598.5 157.5h0M598.6 146.5h0M598.7 125h0M598.8 143.2h0M598.8 133h0M598.9 126.1h0M599 122.9h0M599.1 142h0M599.2 126.2h0M599.2 140.5h0M599.3 131.3h0M599.4 134.3h0M599.5 131.4h0M599.5 137.6h0M599.6 125.5h0M599.7 123.6h0M599.8 129h0M599.9 127.2h0M599.9 144.1h0M600 138.6h0M600.1 125.9h0M600.2 140.7h0M600.2 135.1h0M600.3 157.4h0M600.4 142.9h0M600.5 129.8h0M600.5 141.3h0M600.6 130.9h0M600.7 130.7h0M600.8 125.2h0M600.8 144h0M600.9 137.7h0M601 140.6h0M601 140.3h0M601.1 142.4h0M601.2 138.9h0M601.3 143.3h0M601.3 136.5h0M601.4 143.1h0M601.5 143.8h0M601.6 144.7h0M601.6 146.2h0M601.7 140.3h0M601.8 125.8h0M601.8 137.6h0M601.9 132.8h0M602 143.3h0M602.1 131h0M602.1 129.6h0M602.2 133.6h0M602.3 150h0M602.3 133.2h0M602.4 137.3h0M602.5 148.4h0M602.6 142.1h0M602.6 138.9h0M602.7 144.3h0M602.8 147.3h0M602.8 131.7h0M602.9 146.6h0M603 139.6h0M603 135.3h0M603.1 149.6h0M603.2 129.8h0M603.3 127.7h0M603.3 137.3h0M603.4 137.3h0M603.5 160.1h0M603.5 146.2h0M603.6 132.5h0M603.7 146.8h0M603.7 148.9h0M603.8 137.9h0M603.9 144.8h0M603.9 132.3h0M604 140.6h0M604.1 143.8h0M604.1 151.4h0M604.2 141.3h0M604.3 131.5h0M604.3 141.2h0M604.4 149.6h0M604.5 151.2h0M604.5 127.4h0M604.6 150.8h0M604.7 152.4h0M604.7 151.9h0M604.8 130.8h0M604.9 148.7h0M604.9 143.3h0M605 139.6h0M605.1 154.5h0M605.1 146.7h0M605.2 133.4h0M605.3 141h0M605.3 143.2h0M605.4 131.8h0M605.5 146.1h0M605.5 145.7h0M605.6 133.2h0M605.7 151.3h0M605.7 170.3h0M605.8 127.3h0M605.8 167.3h0M605.9 128.5h0M606 142.4h0M606 133.9h0M606.1 138.6h0M606.2 136h0M606.2 133.8h0M606.3 155.3h0M606.4 140.1h0M606.4 139.3h0M606.5 150.7h0M606.5 149.8h0M606.6 132.1h0M606.7 130.7h0M606.7 128.8h0M606.8 149.7h0M606.9 135h0M606.9 134.8h0M607 135.6h0M607 165.3h0M607.1 130.2h0M607.2 147.1h0M607.2 132.2h0M607.3 135.7h0M607.4 141h0M607.4 122.9h0M607.5 144.2h0M607.5 136.1h0M607.6 128.3h0M607.7 134.5h0M607.7 123.1h0M607.8 144.8h0M607.8 117.9h0M607.9 131.6h0M608 127.9h0M608 138.2h0M608.1 130.3h0M608.1 137.1h0M608.2 128.1h0M608.3 131.1h0M608.3 144.3h0M608.4 127.9h0M608.4 141.7h0M608.5 138.2h0M608.6 149.6h0M608.6 160.8h0M608.7 126h0M608.7 150.6h0M608.8 138.5h0M608.9 144.2h0M608.9 143.5h0M609 143.4h0M609 127.1h0M609.1 141.4h0M609.1 133.1h0M609.2 116.5h0M609.3 147.2h0M609.3 157.8h0M609.4 118.2h0M609.4 120.2h0M609.5 134.7h0M609.6 125.3h0M609.6 127.3h0M609.7 121.8h0M609.7 143.3h0M609.8 135.1h0M609.8 119.2h0M609.9 124.2h0M610 115.3h0M610 137.4h0M610.1 127.4h0M610.1 131.8h0M610.2 125.6h0M610.2 139.3h0M610.3 130.4h0M610.4 118.9h0M610.4 134.2h0M610.5 158.2h0M610.5 128.9h0M610.6 158.1h0M610.6 133.4h0M610.7 135.2h0M610.7 142.1h0M610.8 141.2h0M610.9 122.7h0M610.9 121.2h0M611 136.9h0M611 124h0M611.1 122.3h0M611.1 119.3h0M611.2 128.6h0M611.2 140.9h0M611.3 141.1h0M611.4 118.8h0M611.4 130.9h0M611.5 131.2h0M611.5 141.1h0M611.6 136.6h0M611.6 107.7h0M611.7 139.6h0M611.7 135.6h0M611.8 135.9h0M611.8 118.3h0M611.9 136h0M611.9 134.3h0M612 144h0M612.1 130.8h0M612.1 136.8h0M612.2 140.2h0M612.2 143h0M612.3 117.7h0M612.3 118.8h0M612.4 116.3h0M612.4 131.3h0M612.5 119.2h0M612.5 126.8h0M612.6 140h0M612.6 153.4h0M612.7 141.4h0M612.7 117.8h0M612.8 130.7h0M612.9 138.4h0M612.9 144.4h0M613 121.9h0M613 130.3h0M613.1 145h0M613.1 141.6h0M613.2 144.8h0M613.2 144.8h0M613.3 146.5h0M613.3 138.5h0M613.4 144h0M613.4 126.3h0M613.5 143.1h0M613.5 141.8h0M613.6 135.4h0M613.6 147.1h0M613.7 128.8h0M613.7 138.1h0M613.8 129.4h0M613.8 136.5h0M613.9 132.1h0M613.9 138.7h0M614 139.7h0M614 148.5h0M614.1 138.2h0M614.1 133.3h0M614.2 131.6h0M614.2 152.2h0M614.3 131.3h0M614.3 138.6h0M614.4 141.9h0M614.4 148.6h0M614.5 138.6h0M614.5 141.9h0M614.6 140.5h0M614.6 149.6h0M614.7 149.8h0M614.7 150.7h0M614.8 131.2h0M614.8 129.1h0M614.9 142.6h0M614.9 149h0M615 142.9h0M615 150.3h0M615.1 141.7h0M615.1 156.3h0M615.2 142.2h0M615.2 129.7h0M615.3 133.4h0M615.3 131.7h0M615.4 135.4h0M615.4 140.8h0M615.5 150.8h0M615.5 144.9h0M615.6 162.2h0M615.6 132h0M615.7 135.6h0M615.7 137.7h0M615.8 150.8h0M615.8 151.8h0M615.9 144.3h0M615.9 145.9h0M616 137.8h0M616 134h0M616.1 148h0M616.1 141.7h0M616.2 142.9h0M616.2 142.6h0M616.2 153.2h0M616.3 136.1h0M616.3 136.2h0M616.4 136.2h0M616.4 141.4h0M616.5 138.3h0M616.5 135.9h0M616.6 149.3h0M616.6 142.1h0M616.7 144.4h0M616.7 132.7h0M616.8 138.5h0M616.8 145.5h0M616.9 138h0M616.9 151.9h0M617 134.7h0M617 138.5h0M617 132.4h0M617.1 150.2h0M617.1 134.9h0M617.2 132.7h0M617.2 138.9h0M617.3 148.1h0M617.3 142.9h0M617.4 146.5h0M617.4 146.4h0M617.5 151.9h0M617.5 157h0M617.6 136h0M617.6 147.2h0M617.6 139.2h0M617.7 146.9h0M617.7 140.8h0M617.8 141.5h0M617.8 133.3h0M617.9 154.4h0M617.9 134h0M618 142.9h0M618 135.2h0M618.1 149.7h0M618.1 130.9h0M618.1 130.4h0M618.2 146.5h0M618.2 154.4h0M618.3 164.7h0M618.3 129.8h0M618.4 128.1h0M618.4 147.3h0M618.5 146.5h0M618.5 147h0M618.5 154.7h0M618.6 126.3h0M618.6 147.4h0M618.7 144.8h0M618.7 151.8h0M618.8 129.4h0M618.8 145.9h0M618.9 156.3h0M618.9 152h0M618.9 135.3h0M619 149.4h0M619 154.6h0M619.1 135.2h0M619.1 142.6h0M619.2 139.8h0M619.2 145.4h0M619.3 137.2h0M619.3 143.2h0M619.3 147.4h0M619.4 143.9h0M619.4 150.3h0M619.5 150.6h0M619.5 136.4h0M619.6 143.4h0M619.6 137.4h0M619.6 148.7h0M619.7 142.6h0M619.7 135.3h0M619.8 139.2h0M619.8 139.2h0M619.9 149.5h0M619.9 135.7h0M619.9 147.4h0M620 146.9h0M620 128.8h0M620.1 143.2h0M620.1 156.2h0M620.2 134.5h0M620.2 130.9h0M620.2 149.5h0M620.3 138.6h0M620.3 142.1h0M620.4 154.4h0M620.4 153.6h0M620.5 140.1h0M620.5 156.9h0M620.5 132.1h0M620.6 155.4h0M620.6 137.3h0M620.7 154.5h0M620.7 133h0M620.7 138.6h0M620.8 155h0M620.8 139.3h0M620.9 134.8h0M620.9 164.3h0M621 127.1h0M621 150.7h0M621 124.6h0M621.1 145h0M621.1 130.8h0M621.2 155.3h0M621.2 144.2h0M621.2 135.1h0M621.3 163.8h0M621.3 144.9h0M621.4 128.3h0M621.4 134.9h0M621.5 136.7h0M621.5 128.1h0M621.5 132.5h0M621.6 132.6h0M621.6 137.3h0M621.7 171.7h0M621.7 133.6h0M621.7 141h0M621.8 126.2h0M621.8 132.3h0M621.9 151.6h0M621.9 143.6h0M621.9 152.4h0M622 133.5h0M622 142.4h0M622.1 127.9h0M622.1 130.7h0M622.1 141.6h0M622.2 137.1h0M622.2 144.4h0M622.3 133.3h0M622.3 121.2h0M622.3 155.5h0M622.4 156.1h0M622.4 138.7h0M622.5 146.1h0M622.5 130.8h0M622.5 139.9h0M622.6 149.2h0M622.6 138.7h0M622.7 155.5h0M622.7 141.9h0M622.7 140.3h0M622.8 134.1h0M622.8 150.3h0M622.9 142.2h0M622.9 154.5h0M622.9 156h0M623 153h0M623 149.4h0M623.1 142h0M623.1 131.1h0M623.1 150.5h0M623.2 148.9h0M623.2 147.9h0M623.2 144.2h0M623.3 145.9h0M623.3 143.5h0M623.4 131h0M623.4 151h0M623.4 148.9h0M623.5 147.4h0M623.5 142.8h0M623.6 147.5h0M623.6 140.3h0M623.6 162.3h0M623.7 151h0M623.7 149.7h0M623.8 177.1h0M623.8 154.1h0M623.8 158.5h0M623.9 157.9h0M623.9 129.3h0M623.9 144.5h0M624 153.4h0M624 143.7h0M624.1 169.3h0M624.1 135.7h0M624.1 137.4h0M624.2 142.9h0M624.2 162.6h0M624.2 161.1h0M624.3 147.8h0M624.3 142.9h0M624.4 159.6h0M624.4 141.4h0M624.4 163.4h0M624.5 153.7h0M624.5 139h0M624.5 149.2h0M624.6 149h0M624.6 164.9h0M624.7 158.3h0M624.7 142.6h0M624.7 147.4h0M624.8 141.8h0M624.8 146.7h0M624.8 151h0M624.9 177.7h0M624.9 163.2h0M625 141.9h0M625 158.8h0M625 165h0M625.1 152.2h0M625.1 142.6h0M625.1 147.6h0M625.2 139.5h0M625.2 156.7h0M625.3 148.6h0M625.3 143.7h0M625.3 136.8h0M625.4 145h0M625.4 154.6h0M625.4 157.1h0M625.5 162.1h0M625.5 165h0M625.5 159h0M625.6 151.2h0M625.6 168.1h0M625.7 140.1h0M625.7 153.6h0M625.7 143.9h0M625.8 149.5h0M625.8 142.6h0M625.8 142.7h0M625.9 154.6h0M625.9 153.4h0M625.9 136.6h0M626 142.9h0M626 139.4h0M626.1 142.9h0M626.1 139.7h0M626.1 156.7h0M626.2 149.8h0M626.2 156.5h0M626.2 136.4h0M626.3 160.3h0M626.3 164.7h0M626.3 131.8h0M626.4 133.1h0M626.4 133.2h0M626.4 140h0M626.5 149h0M626.5 162.9h0M626.6 134h0M626.6 129.3h0M626.6 133.6h0M626.7 162.8h0M626.7 137.8h0M626.7 185h0M626.8 169.6h0M626.8 142.2h0M626.8 170.5h0M626.9 147.9h0M626.9 162.6h0M626.9 149.4h0M627 146.2h0M627 153.1h0M627 144.9h0M627.1 168.3h0M627.1 149.5h0M627.1 172.8h0M627.2 184.6h0M627.2 167.8h0M627.3 140.3h0M627.3 162.9h0M627.3 143h0M627.4 160.7h0M627.4 135.7h0M627.4 147.6h0M627.5 148.1h0M627.5 161.3h0M627.5 166h0M627.6 156.4h0M627.6 139.5h0M627.6 137.7h0M627.7 136h0M627.7 149.6h0M627.7 150.7h0M627.8 151.5h0M627.8 155.8h0M627.8 173.4h0M627.9 152.4h0M627.9 173.6h0M627.9 160.8h0M628 150.8h0M628 182.8h0M628 142.2h0M628.1 165.3h0M628.1 140.2h0M628.1 151.5h0M628.2 170.9h0M628.2 192.6h0M628.2 135.4h0M628.3 171.5h0M628.3 157.9h0M628.3 136.6h0M628.4 138.4h0M628.4 163h0M628.4 180.7h0M628.5 153h0M628.5 176.7h0M628.5 137.2h0M628.6 141.7h0M628.6 139.4h0M628.6 150.5h0M628.7 143.5h0M628.7 135.8h0M628.7 137.8h0M628.8 150h0M628.8 167.8h0M628.8 136.4h0M628.9 156.9h0M628.9 144.7h0M628.9 141.2h0M629 144.8h0M629 135.8h0M629 152.2h0M629.1 136.9h0M629.1 152.4h0M629.1 147.2h0M629.2 167.7h0M629.2 171.1h0M629.2 171.4h0M629.3 142.5h0M629.3 156.3h0M629.3 171.3h0M629.4 163.9h0M629.4 135.4h0M629.4 139.2h0M629.5 156.2h0M629.5 150.2h0M629.5 136.1h0M629.6 136.4h0M629.6 157.2h0M629.6 134h0M629.7 168.8h0M629.7 148.5h0M629.7 158.7h0M629.8 156.9h0M629.8 153.9h0M629.8 139.5h0M629.9 168.6h0M629.9 169.6h0M629.9 163.8h0M630 160.2h0M630 167.4h0M630 151.3h0M630.1 147.6h0M630.1 164.1h0M630.1 158h0M630.2 140.2h0M630.2 142.1h0M630.2 138.4h0M630.2 159.5h0M630.3 164h0M630.3 164h0M630.3 144h0M630.4 135.3h0M630.4 147.9h0M630.4 180.8h0M630.5 135h0M630.5 142.7h0M630.5 135.8h0M630.6 158.9h0M630.6 152h0M630.6 144.7h0M630.7 147.5h0M630.7 164.7h0M630.7 163.4h0M630.8 177.9h0M630.8 158.2h0M630.8 162.1h0M630.8 153h0M630.9 148.4h0M630.9 158.5h0M630.9 160.8h0M631 154.9h0M631 165.6h0M631 139.2h0M631.1 158.4h0M631.1 156.5h0M631.1 165.7h0M631.2 150.1h0M631.2 160h0M631.2 139.5h0M631.3 161.4h0M631.3 157.4h0M631.3 140.1h0M631.3 151.5h0M631.4 165.6h0M631.4 150h0M631.4 155.8h0M631.5 166.3h0M631.5 138.6h0M631.5 136.9h0M631.6 149h0M631.6 149h0M631.6 160.3h0M631.7 143.7h0M631.7 151.4h0M631.7 156.1h0M631.7 146.3h0M631.8 166.8h0M631.8 146.7h0M631.8 168h0M631.9 149.4h0M631.9 157.6h0M631.9 161.8h0M632 154.1h0M632 171.4h0M632 144.9h0M632 145.9h0M632.1 157.3h0M632.1 152.7h0M632.1 152.6h0M632.2 166h0M632.2 133.3h0M632.2 154.8h0M632.3 163.6h0M632.3 162.7h0M632.3 151.6h0M632.3 141.8h0M632.4 152.9h0M632.4 150.3h0M632.4 151h0M632.5 151h0M632.5 132.3h0M632.5 150.4h0M632.6 164.8h0M632.6 147.7h0M632.6 149.6h0M632.6 163.9h0M632.7 169.6h0M632.7 133h0M632.7 131.9h0M632.8 158.6h0M632.8 144h0M632.8 155.2h0M632.9 151.7h0M632.9 151h0M632.9 157.7h0M632.9 139.1h0M633 143.9h0M633 157.5h0M633 131.6h0M633.1 147.8h0M633.1 136.5h0M633.1 144.4h0M633.1 162.5h0M633.2 142h0M633.2 135.3h0M633.2 154.6h0M633.3 134.8h0M633.3 147.9h0M633.3 158.5h0M633.4 137.6h0M633.4 158h0M633.4 129.8h0M633.4 158.3h0M633.5 156.1h0M633.5 151.3h0M633.5 163.5h0M633.6 158.1h0M633.6 139.6h0M633.6 152.6h0M633.6 148.3h0M633.7 136.9h0M633.7 132.5h0M633.7 159.5h0M633.8 152.4h0M633.8 131.5h0M633.8 154.7h0M633.8 130.2h0M633.9 154.7h0M633.9 156.2h0M633.9 129.9h0M634 158.3h0M634 128.3h0M634 137h0M634 158.2h0M634.1 143.6h0M634.1 166.9h0M634.1 155h0M634.2 154.7h0M634.2 151.7h0M634.2 140.6h0M634.2 136.9h0M634.3 134.4h0M634.3 136.6h0M634.3 148.9h0M634.4 139.7h0M634.4 159.3h0M634.4 146h0M634.4 134.9h0M634.5 129.2h0M634.5 152.9h0M634.5 140.7h0M634.6 142.3h0M634.6 155.2h0M634.6 138.2h0M634.6 147.7h0M634.7 158.2h0M634.7 135.2h0M634.7 134.3h0M634.8 140.9h0M634.8 157.3h0M634.8 141.1h0M634.8 128h0M634.9 147h0M634.9 138.2h0M634.9 123h0M634.9 153.7h0M635 154h0M635 125.1h0M635 148.7h0M635.1 159.7h0M635.1 132.5h0M635.1 141.5h0M635.1 158.1h0M635.2 131.6h0M635.2 117.8h0M635.2 141.3h0M635.3 159.7h0M635.3 130.3h0M635.3 121.7h0M635.3 141.2h0M635.4 133.3h0M635.4 127.9h0M635.4 134h0M635.4 139.4h0M635.5 114.8h0M635.5 128.7h0M635.5 154.9h0M635.6 149.5h0M635.6 137.6h0M635.6 113.1h0M635.6 143.7h0M635.7 129.4h0M635.7 105.9h0M635.7 113.7h0M635.7 143.1h0M635.8 113.1h0M635.8 112.9h0M635.8 142.2h0M635.9 133.6h0M635.9 121.1h0M635.9 151.9h0M635.9 147.2h0M636 151.8h0M636 144.6h0M636 146.2h0M636 144.8h0M636.1 131h0M636.1 154.5h0M636.1 169.1h0M636.2 152h0M636.2 130.3h0M636.2 148.7h0M636.2 149.7h0M636.3 151.6h0M636.3 154.1h0M636.3 134.8h0M636.3 118.6h0M636.4 119.8h0M636.4 135.8h0M636.4 132.8h0M636.4 153.6h0M636.5 152.5h0M636.5 121.3h0M636.5 129.4h0M636.6 120.2h0M636.6 149.2h0M636.6 148.1h0M636.6 152.3h0M636.7 130h0M636.7 146.9h0M636.7 130.1h0M636.7 136.5h0M636.8 136.9h0M636.8 146.7h0M636.8 153.3h0M636.8 154.3h0M636.9 127.3h0M636.9 144.8h0M636.9 160.2h0M637 135.6h0M637 152.7h0M637 126.5h0M637 138.8h0M637.1 143.3h0M637.1 127.7h0M637.1 138.9h0M637.1 178.8h0M637.2 135.6h0M637.2 141.8h0M637.2 134.8h0M637.2 150.2h0M637.3 140h0M637.3 157.9h0M637.3 141.8h0M637.3 158.8h0M637.4 147.2h0M637.4 134.6h0M637.4 152.4h0M637.4 164.3h0M637.5 131.6h0M637.5 139.3h0M637.5 161.3h0M637.6 149.2h0M637.6 138.3h0M637.6 146.9h0M637.6 138.6h0M637.7 133.5h0M637.7 136.5h0M637.7 151.3h0M637.7 160.9h0M637.8 155h0M637.8 137.7h0M637.8 160.3h0M637.8 166.2h0M637.9 147.8h0M637.9 146.1h0M637.9 165.1h0M637.9 153.4h0M638 138.9h0M638 161.5h0M638 140.1h0M638 160.3h0M638.1 159.1h0M638.1 161.3h0M638.1 167.3h0M638.1 163.1h0M638.2 163.5h0M638.2 154.9h0M638.2 175.8h0M638.2 165.1h0M638.3 151.2h0M638.3 168h0M638.3 140.3h0M638.3 161.1h0M638.4 138.2h0M638.4 151.9h0M638.4 164h0M638.4 138.9h0M638.5 146.7h0M638.5 142.5h0M638.5 161.8h0M638.5 142.9h0M638.6 159.5h0M638.6 142.5h0M638.6 168.6h0M638.6 175.6h0M638.7 170.3h0M638.7 168.9h0M638.7 161.9h0M638.7 160.8h0M638.8 154.4h0M638.8 155.1h0M638.8 143.1h0M638.8 152.3h0M638.9 146.7h0M638.9 159.6h0M638.9 167.3h0M638.9 155.5h0M639 146.2h0M639 175h0M639 182.3h0M639 166.8h0M639.1 161.7h0M639.1 146.9h0M639.1 143.7h0M639.1 157.2h0M639.2 142.5h0M639.2 165.2h0M639.2 170.5h0M639.2 144.1h0M639.3 161.9h0M639.3 159.3h0M639.3 154.8h0M639.3 168.8h0M639.4 159.7h0M639.4 154.2h0M639.4 157h0M639.4 152h0M639.5 152.3h0M639.5 150h0M639.5 152.2h0M639.5 170.9h0M639.6 138.4h0M639.6 151.3h0M639.6 158.1h0M639.6 146.1h0M639.7 182.5h0M639.7 147.9h0M639.7 149.2h0M639.7 168.5h0M639.8 146.5h0M639.8 162h0M639.8 154.4h0M639.8 146.5h0M639.9 167.7h0M639.9 142.6h0M639.9 171.9h0M639.9 154.3h0M639.9 141h0M640 141.3h0M640 161.4h0M640 143.5h0M640 153.9h0M640.1 170.4h0M640.1 144.4h0M640.1 151.6h0M640.1 151.1h0M640.2 166.9h0M640.2 163.9h0M640.2 171.2h0M640.2 151.4h0M640.3 144.5h0M640.3 161h0M640.3 152h0M640.3 174.6h0M640.4 146.7h0M640.4 161h0M640.4 157.8h0M640.4 160.1h0M640.5 166.4h0M640.5 149.9h0M640.5 170.5h0M640.5 147.7h0M640.5 148.5h0M640.6 154.3h0M640.6 154.6h0M640.6 154.5h0M640.6 170.7h0M640.7 171.4h0M640.7 173.2h0M640.7 163.8h0M640.7 150.7h0M640.8 170.4h0M640.8 164.5h0M640.8 159h0M640.8 147.9h0M640.9 164.1h0M640.9 142.4h0M640.9 156.2h0M640.9 150.7h0M640.9 168.9h0M641 153h0M641 151.9h0M641 164.6h0M641 163.2h0M641.1 142.8h0M641.1 150h0M641.1 169h0M641.1 155.8h0M641.2 174.4h0M641.2 153h0M641.2 174.5h0M641.2 170.1h0M641.2 163.6h0M641.3 171.6h0M641.3 145.1h0M641.3 168.9h0M641.3 163.5h0M641.4 151.4h0M641.4 144.9h0M641.4 143.4h0M641.4 153.8h0M641.5 156.8h0M641.5 150.5h0M641.5 163.4h0M641.5 159.4h0M641.6 171.7h0M641.6 148.2h0M641.6 159.7h0M641.6 161.1h0M641.6 172.6h0M641.7 143.9h0M641.7 143.2h0M641.7 147.4h0M641.7 169h0M641.8 152.6h0M641.8 166h0M641.8 166h0M641.8 156.6h0M641.8 165.1h0M641.9 147.4h0M641.9 156.6h0M641.9 156h0M641.9 161.7h0M642 170.2h0M642 154.3h0M642 163.5h0M642 164.6h0M642.1 155.4h0M642.1 173.6h0M642.1 159.9h0M642.1 151h0M642.1 171.4h0M642.2 173.9h0M642.2 152.5h0M642.2 168.6h0M642.2 158.4h0M642.3 172.7h0M642.3 172.2h0M642.3 157.9h0M642.3 170.3h0M642.3 158.9h0M642.4 160.4h0M642.4 170.9h0M642.4 159.4h0M642.4 174.9h0M642.5 157.9h0M642.5 154.7h0M642.5 150.2h0M642.5 165h0M642.6 165.4h0M642.6 166.1h0M642.6 177.3h0M642.6 153.6h0M642.6 169.1h0M642.7 170.8h0M642.7 151.2h0M642.7 183.7h0M642.7 154.5h0M642.8 173.9h0M642.8 166.4h0M642.8 173.5h0M642.8 165.2h0M642.8 180.6h0M642.9 171.9h0M642.9 173.7h0M642.9 176h0M642.9 178.8h0M643 165h0M643 176.7h0M643 181.9h0M643 177.3h0M643 156.7h0M643.1 176.6h0M643.1 183.8h0M643.1 144.9h0M643.1 146.2h0M643.2 156.5h0M643.2 161.8h0M643.2 181.1h0M643.2 166.6h0M643.2 156.2h0M643.3 157.9h0M643.3 183.8h0M643.3 178.5h0M643.3 148.6h0M643.3 148.7h0M643.4 185.9h0M643.4 184.9h0M643.4 153h0M643.4 191h0M643.5 166.6h0M643.5 173.1h0M643.5 169.8h0M643.5 176h0M643.5 175.3h0M643.6 164.2h0M643.6 145.3h0M643.6 171.3h0M643.6 182.4h0M643.7 182.3h0M643.7 165.8h0M643.7 156h0M643.7 188.8h0M643.7 144h0M643.8 159.8h0M643.8 148.9h0M643.8 159.5h0M643.8 159.1h0M643.8 152h0M643.9 171.5h0M643.9 206.8h0M643.9 178.4h0M643.9 188h0M644 161.5h0M644 169.1h0M644 155.9h0M644 161h0M644 187.7h0M644.1 185.1h0M644.1 182.4h0M644.1 197.2h0M644.1 156.1h0M644.1 171.3h0M644.2 177.1h0M644.2 148.7h0M644.2 147.7h0M644.2 160.4h0M644.3 148h0M644.3 181.2h0M644.3 181h0M644.3 187h0M644.3 157.1h0M644.4 189.5h0M644.4 175.2h0M644.4 163.2h0M644.4 183.3h0M644.4 183.7h0M644.5 198.3h0M644.5 151.3h0M644.5 164.6h0M644.5 163.3h0M644.6 164.1h0M644.6 191.4h0M644.6 150.7h0M644.6 181.2h0M644.6 184.5h0M644.7 145h0M644.7 171.8h0M644.7 145.7h0M644.7 155.5h0M644.7 188.8h0M644.8 148.3h0M644.8 149.7h0M644.8 164.6h0M644.8 159.4h0M644.8 166.1h0M644.9 162.9h0M644.9 159.4h0M644.9 153.2h0M644.9 172.9h0M645 185.7h0M645 178.1h0M645 161.5h0M645 166.5h0M645 172.4h0M645.1 154.1h0M645.1 169.8h0M645.1 188.9h0M645.1 160.2h0M645.1 173.2h0M645.2 156.7h0M645.2 188.9h0M645.2 186.3h0M645.2 174h0M645.2 154.8h0M645.3 188.1h0M645.3 159.1h0M645.3 177.8h0M645.3 185.7h0M645.3 146.1h0M645.4 147.6h0M645.4 147.2h0M645.4 172.9h0M645.4 182.4h0M645.5 186.7h0M645.5 172.3h0M645.5 157.1h0M645.5 146.1h0M645.5 159.5h0M645.6 167.1h0M645.6 158.6h0M645.6 180.1h0M645.6 178.8h0M645.6 168h0M645.7 164.4h0M645.7 184.6h0M645.7 176.8h0M645.7 151.8h0M645.7 180.8h0M645.8 172.3h0M645.8 157h0M645.8 168.1h0M645.8 192.6h0M645.8 148.6h0M645.9 183.6h0M645.9 146h0M645.9 150.4h0M645.9 179.6h0M645.9 178.8h0M646 146.3h0M646 180.8h0M646 156h0M646 151.8h0M646 166.5h0M646.1 180.2h0M646.1 186.7h0M646.1 184.6h0M646.1 154.5h0M646.1 159.6h0M646.2 163.7h0M646.2 153.7h0M646.2 156.1h0M646.2 169.1h0M646.2 169.9h0M646.3 163.4h0M646.3 177.8h0M646.3 182.8h0M646.3 181.4h0M646.3 171.7h0M646.4 171.4h0M646.4 154.9h0M646.4 155.8h0M646.4 176.6h0M646.4 173h0M646.5 176.7h0M646.5 173.1h0M646.5 171.1h0M646.5 160.8h0M646.5 181.6h0M646.6 183.9h0M646.6 160.5h0M646.6 153.4h0M646.6 170.1h0M646.6 183h0M646.7 173.5h0M646.7 178.6h0M646.7 151.3h0M646.7 178.7h0M646.7 155.1h0M646.8 174h0M646.8 151.9h0M646.8 151.4h0M646.8 164.4h0M646.8 151.2h0M646.9 159.6h0M646.9 165.4h0M646.9 162.3h0M646.9 197.1h0M646.9 168.1h0M647 188.7h0M647 166.8h0M647 165.7h0M647 150.5h0M647 170.3h0M647.1 170.6h0M647.1 160.7h0M647.1 146.5h0M647.1 179.9h0M647.1 148.8h0M647.2 152.6h0M647.2 153.7h0M647.2 177.9h0M647.2 160.7h0M647.2 156h0M647.3 172.1h0M647.3 160.7h0M647.3 176.8h0M647.3 151h0M647.3 170.7h0M647.4 166.1h0M647.4 175h0M647.4 166.5h0M647.4 155.1h0M647.4 148.7h0M647.5 180h0M647.5 149.1h0M647.5 168.5h0M647.5 146.7h0M647.5 167.5h0M647.6 148.7h0M647.6 154.8h0M647.6 166h0M647.6 182h0M647.6 161.8h0M647.6 177.8h0M647.7 175.1h0M647.7 173h0M647.7 182.3h0M647.7 174.6h0M647.7 167.2h0M647.8 154.2h0M647.8 153.8h0M647.8 164h0M647.8 172.3h0M647.8 183.1h0M647.9 175.8h0M647.9 170.8h0M647.9 181.1h0M647.9 158.8h0M647.9 189.5h0M648 156.9h0M648 163.5h0M648 151.6h0M648 161h0M648 147.6h0M648.1 181.9h0M648.1 159.6h0M648.1 173.6h0M648.1 175.5h0M648.1 184.5h0M648.1 160.1h0M648.2 160.6h0M648.2 162.5h0M648.2 181.3h0M648.2 168h0M648.2 158.7h0M648.3 181h0M648.3 167.5h0M648.3 173.3h0M648.3 169.6h0M648.3 179.4h0M648.4 156.4h0M648.4 154.5h0M648.4 163.9h0M648.4 150.6h0M648.4 174.8h0M648.5 161.2h0M648.5 171.8h0M648.5 150.6h0M648.5 159.1h0M648.5 163.1h0M648.5 163.3h0M648.6 151.7h0M648.6 148.1h0M648.6 177.2h0M648.6 176.8h0M648.6 163.2h0M648.7 150h0M648.7 178.7h0M648.7 164.1h0M648.7 176.5h0M648.7 167.1h0M648.8 176.8h0M648.8 154.5h0M648.8 164.1h0M648.8 162.2h0M648.8 151h0M648.8 164.9h0M648.9 175.2h0M648.9 178.3h0M648.9 148.4h0M648.9 161.7h0M648.9 171.9h0M649 150.7h0M649 179.6h0M649 161.6h0M649 150.2h0M649 180h0M649.1 188.3h0M649.1 171.2h0M649.1 177.7h0M649.1 175.9h0M649.1 144.9h0M649.1 145.9h0M649.2 179.3h0M649.2 169.7h0M649.2 162.2h0M649.2 146.6h0M649.2 159.6h0M649.3 173.8h0M649.3 147.4h0M649.3 144.9h0M649.3 166.5h0M649.3 178.7h0M649.3 147.5h0M649.4 171h0M649.4 179.6h0M649.4 147.2h0M649.4 147.6h0M649.4 165.8h0M649.5 143.1h0M649.5 191.7h0M649.5 152.4h0M649.5 146.8h0M649.5 175.6h0M649.5 165h0M649.6 186.9h0M649.6 170.9h0M649.6 146.8h0M649.6 166.5h0M649.6 146.5h0M649.7 171.7h0M649.7 155.6h0M649.7 163.7h0M649.7 163.1h0M649.7 155.9h0M649.8 163.5h0M649.8 165.7h0M649.8 163.6h0M649.8 159.6h0M649.8 143.1h0M649.8 153.7h0M649.9 172.1h0M649.9 165.1h0M649.9 151.6h0M649.9 161.6h0M649.9 170h0M650 155.2h0M650 172.5h0M650 176.1h0M650 188.8h0M650 155.2h0M650 167.2h0M650.1 156.2h0M650.1 167.1h0M650.1 147.1h0M650.1 152.4h0M650.1 165.6h0M650.1 175.4h0M650.2 175.2h0M650.2 161.4h0M650.2 159.6h0M650.2 160.4h0M650.2 182.4h0M650.3 165.2h0M650.3 160.1h0M650.3 170.1h0M650.3 144.8h0M650.3 164.5h0M650.3 161.2h0M650.4 159.5h0M650.4 164.8h0M650.4 148.2h0M650.4 162.9h0M650.4 168.6h0M650.5 174.2h0M650.5 172.2h0M650.5 160.2h0M650.5 156h0M650.5 174.5h0M650.5 144.3h0M650.6 163.7h0M650.6 165.9h0M650.6 147.8h0M650.6 150.5h0M650.6 149.4h0M650.7 145.8h0M650.7 167.2h0M650.7 171.5h0M650.7 175.2h0M650.7 177.7h0M650.7 147.1h0M650.8 150.5h0M650.8 163.6h0M650.8 162h0M650.8 168.1h0M650.8 160.9h0M650.8 159.5h0M650.9 152.6h0M650.9 161.9h0M650.9 146.8h0M650.9 179.7h0M650.9 172.5h0M651 147.6h0M651 176.1h0M651 146.3h0M651 165.3h0M651 171h0M651 158.3h0M651.1 166.9h0M651.1 171.7h0M651.1 160.9h0M651.1 148.9h0M651.1 149.5h0M651.1 178.5h0M651.2 153.6h0M651.2 157.8h0M651.2 170.1h0M651.2 173.2h0M651.2 176.3h0M651.2 173.8h0M651.3 157h0M651.3 160.6h0M651.3 178h0M651.3 165h0M651.3 178.2h0M651.4 160.6h0M651.4 166.7h0M651.4 157.4h0M651.4 171.4h0M651.4 180.5h0M651.4 181.7h0M651.5 166.2h0M651.5 161h0M651.5 165.9h0M651.5 174.8h0M651.5 158.3h0M651.5 150.6h0M651.6 178.2h0M651.6 181.5h0M651.6 162.3h0M651.6 169.9h0M651.6 178.9h0M651.6 160.2h0M651.7 194h0M651.7 171.7h0M651.7 151.7h0M651.7 161.7h0M651.7 182.9h0M651.8 171.2h0M651.8 168.7h0M651.8 154.7h0M651.8 183h0M651.8 176.8h0M651.8 174.3h0M651.9 178.1h0M651.9 171.3h0M651.9 155.6h0M651.9 160.8h0M651.9 176.9h0M651.9 184.4h0M652 151.6h0M652 152.2h0M652 162.1h0M652 163.6h0M652 183.3h0M652 166.9h0M652.1 152.3h0M652.1 166.3h0M652.1 163.5h0M652.1 182.8h0M652.1 180.9h0M652.1 172h0M652.2 157.1h0M652.2 176.1h0M652.2 163.2h0M652.2 167.2h0M652.2 183.9h0M652.2 152.3h0M652.3 160.8h0M652.3 148.8h0M652.3 161.4h0M652.3 158.9h0M652.3 159.6h0M652.3 158.3h0M652.4 163.4h0M652.4 158.7h0M652.4 169.1h0M652.4 172.9h0M652.4 150.8h0M652.5 153.2h0M652.5 154.7h0M652.5 160.9h0M652.5 156.8h0M652.5 154.8h0M652.5 174.4h0M652.6 157.6h0M652.6 174.3h0M652.6 171.7h0M652.6 165.1h0M652.6 162.2h0M652.6 162.6h0M652.7 151.3h0M652.7 182.1h0M652.7 162.6h0M652.7 157.9h0M652.7 153.1h0M652.7 168.2h0M652.8 186.3h0M652.8 185.6h0M652.8 149h0M652.8 187h0M652.8 172.7h0M652.8 165.6h0M652.9 154h0M652.9 159.2h0M652.9 183.1h0M652.9 183.4h0M652.9 171.4h0M652.9 181.7h0M653 174.4h0M653 161.5h0M653 168h0M653 161.6h0M653 158.7h0M653 150.9h0M653.1 177.5h0M653.1 154.2h0M653.1 186.7h0M653.1 171.7h0M653.1 169.7h0M653.1 184.6h0M653.2 163.6h0M653.2 157.3h0M653.2 183.2h0M653.2 173.8h0M653.2 157.9h0M653.2 179.2h0M653.3 172.5h0M653.3 190.1h0M653.3 176.1h0M653.3 189.6h0M653.3 170.9h0M653.3 204.3h0M653.3 184.4h0M653.4 183.6h0M653.4 158.9h0M653.4 153.3h0M653.4 159.1h0M653.4 157.4h0M653.4 175.3h0M653.5 188.9h0M653.5 178.2h0M653.5 186.9h0M653.5 181.7h0M653.5 161.3h0M653.5 190.3h0M653.6 164.6h0M653.6 178.7h0M653.6 183.9h0M653.6 167.1h0M653.6 178h0M653.6 187.2h0M653.7 151.4h0M653.7 155h0M653.7 154.7h0M653.7 160.5h0M653.7 182.8h0M653.7 168.4h0M653.8 174.6h0M653.8 172.7h0M653.8 170.9h0M653.8 180.7h0M653.8 180.9h0M653.8 184h0M653.9 166.5h0M653.9 155.4h0M653.9 189.5h0M653.9 159.4h0M653.9 186.6h0M653.9 188.9h0M654 166.2h0M654 183.4h0M654 164.9h0M654 174.7h0M654 169.8h0M654 175.3h0M654 212h0M654.1 177.6h0M654.1 163.8h0M654.1 163.8h0M654.1 190.6h0M654.1 157.1h0M654.1 176.7h0M654.2 168.2h0M654.2 174.1h0M654.2 180.6h0M654.2 177.4h0M654.2 159.4h0M654.2 168.8h0M654.3 181.8h0M654.3 181.5h0M654.3 163.7h0M654.3 190.4h0M654.3 173.7h0M654.3 176h0M654.4 180h0M654.4 188.9h0M654.4 182.7h0M654.4 176.6h0M654.4 185h0M654.4 192.6h0M654.4 169.9h0M654.5 199.2h0M654.5 197.9h0M654.5 198.2h0M654.5 158h0M654.5 163.6h0M654.5 156.9h0M654.6 172.4h0M654.6 177.5h0M654.6 189.4h0M654.6 199.6h0M654.6 164.3h0M654.6 196.7h0M654.7 180.3h0M654.7 171.2h0M654.7 165.6h0M654.7 171.4h0M654.7 182.7h0M654.7 160.8h0M654.8 179.9h0M654.8 167.7h0M654.8 175.4h0M654.8 183.6h0M654.8 170.7h0M654.8 157.6h0M654.8 182.1h0M654.9 172.1h0M654.9 179h0M654.9 160.3h0M654.9 169h0M654.9 169.1h0M654.9 167.8h0M655 174.1h0M655 191.7h0M655 183.2h0M655 176.8h0M655 185.6h0M655 199.5h0M655.1 151.2h0M655.1 198.3h0M655.1 188.3h0M655.1 198.3h0M655.1 195.8h0M655.1 193.9h0M655.1 174.3h0M655.2 194.2h0M655.2 203.4h0M655.2 190.3h0M655.2 170.6h0M655.2 177h0M655.2 162.4h0M655.3 197.3h0M655.3 188h0M655.3 181.2h0M655.3 147.2h0M655.3 205.2h0M655.3 175h0M655.3 162.2h0M655.4 148.7h0M655.4 195.3h0M655.4 162.4h0M655.4 169.4h0M655.4 204.9h0M655.4 188.5h0M655.5 146.9h0M655.5 153.2h0M655.5 162.1h0M655.5 188.6h0M655.5 190.7h0M655.5 179.4h0M655.5 198.5h0M655.6 182.9h0M655.6 167.8h0M655.6 230.4h0M655.6 181.9h0M655.6 161.6h0M655.6 147.4h0M655.7 174.6h0M655.7 202.1h0M655.7 193.3h0M655.7 166.1h0M655.7 208.3h0M655.7 170.5h0M655.7 162.5h0M655.8 165.6h0M655.8 166h0M655.8 201.1h0M655.8 157.6h0M655.8 191.1h0M655.8 198.9h0M655.9 183.3h0M655.9 194.3h0M655.9 150.1h0M655.9 162.8h0M655.9 170.7h0M655.9 179.3h0M655.9 201h0M656 163h0M656 153h0M656 202.6h0M656 206.1h0M656 165.7h0M656 162.4h0M656.1 148.4h0M656.1 175.7h0M656.1 156.7h0M656.1 167.1h0M656.1 154.7h0M656.1 194.9h0M656.1 149.9h0M656.2 197.4h0M656.2 165.1h0M656.2 152.2h0M656.2 203.8h0M656.2 201.4h0M656.2 150.1h0M656.3 185.4h0M656.3 186.5h0M656.3 160.9h0M656.3 159.7h0M656.3 184.2h0M656.3 183.7h0M656.3 199.1h0M656.4 177.3h0M656.4 175.9h0M656.4 178.3h0M656.4 177.3h0M656.4 147.4h0M656.4 197.8h0M656.4 159.2h0M656.5 181h0M656.5 173.8h0M656.5 187h0M656.5 176.9h0M656.5 186.4h0M656.5 162h0M656.6 167.4h0M656.6 163.9h0M656.6 189.3h0M656.6 187.2h0M656.6 156.1h0M656.6 202h0M656.6 197.3h0M656.7 165.2h0M656.7 193.1h0M656.7 166.9h0M656.7 188.5h0M656.7 199.2h0M656.7 156.8h0M656.7 147.1h0M656.8 166.1h0M656.8 173.8h0M656.8 183.9h0M656.8 160.7h0M656.8 165.3h0M656.8 194.2h0M656.9 196.4h0M656.9 161.5h0M656.9 154.9h0M656.9 183.5h0M656.9 149.5h0M656.9 170.4h0M656.9 154.7h0M657 150.9h0M657 188.5h0M657 188.6h0M657 160h0M657 155.3h0M657 190.4h0M657 200.6h0M657.1 153.1h0M657.1 191h0M657.1 189.9h0M657.1 190.4h0M657.1 147h0M657.1 185.9h0M657.1 188.1h0M657.2 160.3h0M657.2 192.9h0M657.2 152.9h0M657.2 146.2h0M657.2 158.6h0M657.2 184.9h0M657.2 154.9h0M657.3 180.2h0M657.3 143.9h0M657.3 194.8h0M657.3 173h0M657.3 196.2h0M657.3 172.6h0M657.4 171h0M657.4 174.2h0M657.4 161.9h0M657.4 155.2h0M657.4 185.4h0M657.4 168.6h0M657.4 149.4h0M657.5 184.9h0M657.5 164.3h0M657.5 197.2h0M657.5 179.4h0M657.5 148.2h0M657.5 164.9h0M657.5 179.7h0M657.6 174.2h0M657.6 149h0M657.6 174.6h0M657.6 152h0M657.6 181.6h0M657.6 179.3h0M657.6 168.8h0M657.7 177.6h0M657.7 145.6h0M657.7 141.2h0M657.7 171.1h0M657.7 164.4h0M657.7 190.2h0M657.7 169.4h0M657.8 146.6h0M657.8 194h0M657.8 151.7h0M657.8 152.2h0M657.8 180.3h0M657.8 171.6h0M657.8 163.9h0M657.9 139.1h0M657.9 140.3h0M657.9 185.7h0M657.9 156.2h0M657.9 169.1h0M657.9 145h0M657.9 161.9h0M658 166.1h0M658 196.2h0M658 148.6h0M658 144.9h0M658 159h0M658 179h0M658 152.9h0M658.1 168.4h0M658.1 170.5h0M658.1 162.1h0M658.1 160.7h0M658.1 181.1h0M658.1 180h0M658.1 178.4h0M658.2 172.8h0M658.2 198.5h0M658.2 157.4h0M658.2 138.2h0M658.2 142.1h0M658.2 191.3h0M658.2 185h0M658.3 162.3h0M658.3 138.5h0M658.3 173.6h0M658.3 144.8h0M658.3 166.1h0M658.3 175.5h0M658.3 168.5h0M658.4 150.3h0M658.4 190.8h0M658.4 160.8h0M658.4 162.3h0M658.4 139.7h0M658.4 145.2h0M658.4 155.9h0M658.5 167.3h0M658.5 186.2h0M658.5 160.5h0M658.5 167h0M658.5 182h0M658.5 170.9h0M658.5 158.4h0M658.6 190.4h0M658.6 154.6h0M658.6 188.6h0M658.6 166.1h0M658.6 178.9h0M658.6 177.2h0M658.6 169.2h0M658.7 164.8h0M658.7 159.6h0M658.7 143.7h0M658.7 154.9h0M658.7 157.9h0M658.7 167.6h0M658.7 145.3h0M658.8 185.4h0M658.8 203.2h0M658.8 160.3h0M658.8 133.2h0M658.8 162.1h0M658.8 188.7h0M658.8 180.1h0M658.9 177.1h0M658.9 160.3h0M658.9 138.6h0M658.9 132.6h0M658.9 157.4h0M658.9 184.2h0M658.9 159.5h0M659 173.9h0M659 140.8h0M659 133.6h0M659 158h0M659 157h0M659 142.3h0M659 155.5h0M659.1 145.9h0M659.1 181.7h0M659.1 177.9h0M659.1 163h0M659.1 146.4h0M659.1 174.3h0M659.1 146.5h0M659.2 143.5h0M659.2 174.8h0M659.2 184.1h0M659.2 149.6h0M659.2 148.8h0M659.2 167h0M659.2 175.1h0M659.2 154.1h0M659.3 182.8h0M659.3 161.6h0M659.3 173.4h0M659.3 177.4h0M659.3 182.8h0M659.3 166.1h0M659.3 175.4h0M659.4 143.6h0M659.4 141.6h0M659.4 181h0M659.4 181.6h0M659.4 172.3h0M659.4 148.4h0M659.4 171.9h0M659.5 143.8h0M659.5 150h0M659.5 177.6h0M659.5 171.6h0M659.5 157.4h0M659.5 157.1h0M659.5 172.7h0M659.6 150.8h0M659.6 147h0M659.6 195.2h0M659.6 151.9h0M659.6 169.4h0M659.6 171.1h0M659.6 143h0M659.7 156.2h0M659.7 153.5h0M659.7 160.1h0M659.7 139h0M659.7 168.5h0M659.7 154h0M659.7 136.8h0M659.7 136.8h0M659.8 159.6h0M659.8 159.7h0M659.8 182h0M659.8 176.1h0M659.8 165.6h0M659.8 160.2h0M659.8 164.9h0M659.9 166.7h0M659.9 140.6h0M659.9 149.9h0M659.9 171.7h0M659.9 170.1h0M659.9 159.3h0M659.9 137.5h0M660 161.3h0M660 150.7h0M660 169.1h0M660 166.5h0M660 173.7h0M660 147.1h0M660 164.7h0M660 180.5h0M660.1 168.5h0M660.1 134.3h0M660.1 160.7h0M660.1 116.6h0M660.1 155.3h0M660.1 145h0M660.1 164.7h0M660.2 156.8h0M660.2 160.7h0M660.2 158.5h0M660.2 163.7h0M660.2 165.4h0M660.2 170.4h0M660.2 150.8h0M660.2 144.9h0M660.3 134.2h0M660.3 155.6h0M660.3 158.2h0M660.3 145.3h0M660.3 164.6h0M660.3 147.4h0M660.3 148.1h0M660.4 162.4h0M660.4 180.3h0M660.4 141h0M660.4 143.1h0M660.4 148.6h0M660.4 177.6h0M660.4 136.4h0M660.5 150.1h0M660.5 156h0M660.5 170.2h0M660.5 182.3h0M660.5 166.4h0M660.5 164.9h0M660.5 178.1h0M660.5 143.8h0M660.6 169.2h0M660.6 139.3h0M660.6 137.2h0M660.6 174.1h0M660.6 136.5h0M660.6 183.9h0M660.6 153.9h0M660.7 175.2h0M660.7 154h0M660.7 184.1h0M660.7 157.9h0M660.7 171.3h0M660.7 159.3h0M660.7 156.1h0M660.7 175.2h0M660.8 173h0M660.8 176.5h0M660.8 182.5h0M660.8 155.9h0M660.8 194.9h0M660.8 137.8h0M660.8 152.4h0M660.9 138.7h0M660.9 174.9h0M660.9 169.8h0M660.9 142.6h0M660.9 174.1h0M660.9 164.8h0M660.9 161.7h0M660.9 161.3h0M661 173.1h0M661 175.1h0M661 170.4h0M661 181h0M661 159.6h0M661 141.2h0M661 182.6h0M661 180.9h0M661.1 185.9h0M661.1 173.1h0M661.1 159.5h0M661.1 179.5h0M661.1 173.4h0M661.1 163.3h0M661.1 157.1h0M661.2 161.5h0M661.2 169.4h0M661.2 182.3h0M661.2 176.1h0M661.2 168.2h0M661.2 174.8h0M661.2 172h0M661.2 176.9h0M661.3 170.6h0M661.3 154.1h0M661.3 203.7h0M661.3 170.9h0M661.3 182.1h0M661.3 186.6h0M661.3 174.8h0M661.4 158.4h0M661.4 158.7h0M661.4 160.8h0M661.4 145h0M661.4 178.1h0M661.4 171.5h0M661.4 177.1h0M661.4 159.9h0M661.5 152.6h0M661.5 181.2h0M661.5 163.1h0M661.5 151.4h0M661.5 194.7h0M661.5 151.6h0M661.5 158h0M661.5 176.6h0M661.6 176.8h0M661.6 160.5h0M661.6 181.4h0M661.6 169.8h0M661.6 168.5h0M661.6 144.5h0M661.6 171.7h0M661.7 184.7h0M661.7 170.9h0M661.7 200.2h0M661.7 170.1h0M661.7 150.6h0M661.7 158.6h0M661.7 146.6h0M661.7 156.9h0M661.8 186.6h0M661.8 158h0M661.8 173.6h0M661.8 175h0M661.8 147.5h0M661.8 177.5h0M661.8 147.9h0M661.8 148.8h0M661.9 176.2h0M661.9 164h0M661.9 150.1h0M661.9 184.6h0M661.9 179.3h0M661.9 172h0M661.9 175.2h0M661.9 164h0M662 159.9h0M662 176.4h0M662 162h0M662 164.6h0M662 163.9h0M662 169.1h0M662 145.6h0M662.1 149.3h0M662.1 174.4h0M662.1 151.7h0M662.1 156.8h0M662.1 184.6h0M662.1 160.3h0M662.1 150.6h0M662.1 188.7h0M662.2 160.6h0M662.2 183.5h0M662.2 165.5h0M662.2 175.8h0M662.2 181.4h0M662.2 178.7h0M662.2 153.9h0M662.2 143.9h0M662.3 177.7h0M662.3 159.8h0M662.3 169.5h0M662.3 147.8h0M662.3 176.3h0M662.3 181.6h0M662.3 191.2h0M662.3 158.3h0M662.4 171.6h0M662.4 183.2h0M662.4 183.3h0M662.4 167.8h0M662.4 171.8h0M662.4 206.5h0M662.4 151h0M662.4 170.7h0M662.5 179.9h0M662.5 188.5h0M662.5 159.9h0M662.5 175h0M662.5 145.1h0M662.5 152.4h0M662.5 166.3h0M662.5 144.7h0M662.6 156.6h0M662.6 147.1h0M662.6 164h0M662.6 167.2h0M662.6 180.5h0M662.6 160.5h0M662.6 191.9h0M662.6 176.6h0M662.7 168.5h0M662.7 152.3h0M662.7 189.3h0M662.7 186.6h0M662.7 170.3h0M662.7 164h0M662.7 147.2h0M662.7 152.6h0M662.8 160.8h0M662.8 193h0M662.8 167h0M662.8 163.8h0M662.8 192h0M662.8 193.2h0M662.8 148.8h0M662.8 150.3h0M662.9 175.3h0M662.9 186.8h0M662.9 194h0M662.9 192.2h0M662.9 165.1h0M662.9 181.9h0M662.9 148.2h0M662.9 183.6h0M663 151.7h0M663 173.2h0M663 187.9h0M663 195h0M663 178.4h0M663 190.7h0M663 153.4h0M663 181.9h0M663.1 187h0M663.1 179.3h0M663.1 157.8h0M663.1 181.2h0M663.1 159.7h0M663.1 165.7h0M663.1 164.5h0M663.1 174.2h0M663.2 165.6h0M663.2 183.8h0M663.2 193.5h0M663.2 185h0M663.2 154.4h0M663.2 180.8h0M663.2 180.5h0M663.2 169.4h0M663.3 189.2h0M663.3 172h0M663.3 195.6h0M663.3 179.1h0M663.3 192h0M663.3 157.7h0M663.3 161.1h0M663.3 182.7h0M663.4 192.4h0M663.4 181.4h0M663.4 187.8h0M663.4 188.9h0M663.4 183.2h0M663.4 169h0M663.4 168.7h0M663.4 172.7h0M663.5 173.6h0M663.5 184.7h0M663.5 194h0M663.5 180.6h0M663.5 161.4h0M663.5 177h0M663.5 160.9h0M663.5 189.8h0M663.6 163.5h0M663.6 191.8h0M663.6 174h0M663.6 171.8h0M663.6 199.1h0M663.6 173h0M663.6 172.9h0M663.6 156.3h0M663.7 186.7h0M663.7 166.9h0M663.7 167h0M663.7 186.5h0M663.7 190.8h0M663.7 178.2h0M663.7 158.8h0M663.7 158.6h0M663.8 155.2h0M663.8 197.7h0M663.8 177.8h0M663.8 158.1h0M663.8 169.4h0M663.8 188.2h0M663.8 161h0M663.8 194.3h0M663.8 168.6h0M663.9 198h0M663.9 184.2h0M663.9 176.9h0M663.9 157.2h0M663.9 167.3h0M663.9 185.4h0M663.9 159.8h0M663.9 184.8h0M664 186.9h0M664 164h0M664 189.8h0M664 194.2h0M664 192.9h0M664 167h0M664 178h0M664 169.4h0M664.1 159.3h0M664.1 155.7h0M664.1 163.1h0M664.1 177.2h0M664.1 168.4h0M664.1 176h0M664.1 152.7h0M664.1 149.5h0M664.2 191.5h0M664.2 178.7h0M664.2 182.6h0M664.2 190.6h0M664.2 197.6h0M664.2 198.8h0M664.2 162.6h0M664.2 175.1h0M664.2 153.5h0M664.3 182.7h0M664.3 169.2h0M664.3 169.2h0M664.3 171.1h0M664.3 193.4h0M664.3 149.4h0M664.3 158.4h0M664.3 169.2h0M664.4 149.1h0M664.4 179.3h0M664.4 149h0M664.4 193.9h0M664.4 161.7h0M664.4 170h0M664.4 163.2h0M664.4 174.5h0M664.5 170.7h0M664.5 174.6h0M664.5 166.6h0M664.5 160.5h0M664.5 177.5h0M664.5 158h0M664.5 151.9h0M664.5 153.4h0M664.5 176.9h0M664.6 181.1h0M664.6 165.1h0M664.6 158.9h0M664.6 179.8h0M664.6 168.8h0M664.6 184.6h0M664.6 196.3h0M664.6 166.5h0M664.7 196h0M664.7 189.8h0M664.7 182.1h0M664.7 184.9h0M664.7 158.3h0M664.7 186.6h0M664.7 196.6h0M664.7 152h0M664.7 162h0M664.8 174.3h0M664.8 150.2h0M664.8 188h0M664.8 195.1h0M664.8 176.8h0M664.8 148.7h0M664.8 176.8h0M664.8 194.7h0M664.9 179.3h0M664.9 168.8h0M664.9 163.9h0M664.9 184h0M664.9 152.9h0M664.9 154.2h0M664.9 163.6h0M664.9 174.7h0M665 154h0M665 181.9h0M665 167.6h0M665 196h0M665 174.2h0M665 167.8h0M665 148.1h0M665 184.5h0M665 169.3h0M665.1 160.6h0M665.1 165.3h0M665.1 167.9h0M665.1 198.1h0M665.1 202.4h0M665.1 172.2h0M665.1 195h0M665.1 184.4h0M665.2 176.6h0M665.2 197.7h0M665.2 200h0M665.2 165.2h0M665.2 198.8h0M665.2 192.8h0M665.2 181.1h0M665.2 193.3h0M665.2 182.8h0M665.3 189.4h0M665.3 164.1h0M665.3 190h0M665.3 193.9h0M665.3 167.8h0M665.3 197.8h0M665.3 170.7h0M665.3 148.3h0M665.3 193.5h0M665.4 172.5h0M665.4 146.8h0M665.4 160h0M665.4 166h0M665.4 197.5h0M665.4 152.1h0M665.4 219.9h0M665.4 171h0M665.5 151.4h0M665.5 221.2h0M665.5 164.1h0M665.5 178.7h0M665.5 183h0M665.5 202.8h0M665.5 162.5h0M665.5 162.1h0M665.5 146.9h0M665.6 161.2h0M665.6 192.9h0M665.6 146.5h0M665.6 195.1h0M665.6 180.6h0M665.6 193.5h0M665.6 165.7h0M665.6 172.7h0M665.7 184.7h0M665.7 183.6h0M665.7 212.3h0M665.7 152.5h0M665.7 185.3h0M665.7 164.3h0M665.7 218.5h0M665.7 180.5h0M665.7 187.8h0M665.8 202.8h0M665.8 196.8h0M665.8 187.6h0M665.8 186.4h0M665.8 168.9h0M665.8 170.7h0M665.8 187.4h0M665.8 198.3h0M665.8 197.8h0M665.9 151.7h0M665.9 158.7h0M665.9 156.3h0M665.9 188.8h0M665.9 152.2h0M665.9 179.4h0M665.9 187.6h0M665.9 200.7h0M666 183.9h0M666 174.9h0M666 147.6h0M666 184.5h0M666 225.7h0M666 202.3h0M666 199.2h0M666 173.2h0M666 176.4h0M666.1 170.4h0M666.1 162.6h0M666.1 160.4h0M666.1 195.5h0M666.1 189.5h0M666.1 171.6h0M666.1 162.3h0M666.1 201.8h0M666.1 157.3h0M666.2 173.3h0M666.2 179.4h0M666.2 204.6h0M666.2 163.1h0M666.2 151.8h0M666.2 191.1h0M666.2 158.6h0M666.2 199.4h0M666.2 154.3h0M666.3 161.1h0M666.3 172h0M666.3 198.4h0M666.3 173.7h0M666.3 165.5h0M666.3 185.2h0M666.3 184.1h0M666.3 195.8h0M666.3 189.7h0M666.4 188h0M666.4 156.2h0M666.4 166.5h0M666.4 222h0M666.4 175.5h0M666.4 151.4h0M666.4 189.2h0M666.4 198h0M666.5 203.8h0M666.5 171.2h0M666.5 172.7h0M666.5 174.3h0M666.5 205.2h0M666.5 177.3h0M666.5 176.2h0M666.5 171.9h0M666.5 205.1h0M666.6 180h0M666.6 180.4h0M666.6 161.4h0M666.6 162.1h0M666.6 163.7h0M666.6 192.7h0M666.6 196.5h0M666.6 161.4h0M666.6 179.7h0M666.7 157.5h0M666.7 160.6h0M666.7 170.7h0M666.7 189.9h0M666.7 181.8h0M666.7 182.9h0M666.7 160.8h0M666.7 155h0M666.7 179.3h0M666.8 186.5h0M666.8 190.2h0M666.8 169.2h0M666.8 191.9h0M666.8 159.6h0M666.8 200.8h0M666.8 201.9h0M666.8 167.1h0M666.8 161.1h0M666.9 155.1h0M666.9 190.3h0M666.9 183.1h0M666.9 189h0M666.9 175.1h0M666.9 147.3h0M666.9 168.3h0M666.9 202.5h0M666.9 178.8h0M667 171h0M667 195.9h0M667 201.3h0M667 149.3h0M667 185.4h0M667 183.3h0M667 155.5h0M667 158.2h0M667 192.4h0M667.1 174.1h0M667.1 155.4h0M667.1 169.2h0M667.1 169h0M667.1 156.8h0M667.1 172.8h0M667.1 199.1h0M667.1 160.7h0M667.1 180.4h0M667.2 148.8h0M667.2 188.9h0M667.2 172.1h0M667.2 152.5h0M667.2 199.1h0M667.2 200.9h0M667.2 202.1h0M667.2 172.2h0M667.2 165.4h0M667.3 147.9h0M667.3 179.8h0M667.3 162.2h0M667.3 157h0M667.3 199.2h0M667.3 154.4h0M667.3 164.4h0M667.3 189.4h0M667.3 162.9h0M667.4 190.3h0M667.4 167.7h0M667.4 159.8h0M667.4 181.6h0M667.4 183.1h0M667.4 148.9h0M667.4 171.5h0M667.4 179.5h0M667.4 184.3h0M667.5 183.3h0M667.5 153.2h0M667.5 202.9h0M667.5 196.7h0M667.5 172.7h0M667.5 175.5h0M667.5 194.7h0M667.5 177.8h0M667.5 168.8h0M667.6 172.1h0M667.6 193.4h0M667.6 147.5h0M667.6 157.6h0M667.6 180.7h0M667.6 177.9h0M667.6 159.6h0M667.6 149.3h0M667.6 182.4h0M667.6 182.9h0M667.7 158.1h0M667.7 178.9h0M667.7 170.2h0M667.7 200.3h0M667.7 135.5h0M667.7 163.2h0M667.7 161.5h0M667.7 157.6h0M667.7 188.7h0M667.8 153h0M667.8 166.7h0M667.8 186.4h0M667.8 208.9h0M667.8 199.7h0M667.8 159.7h0M667.8 197.5h0M667.8 205.2h0M667.8 202.1h0M667.9 183.3h0M667.9 190.8h0M667.9 167.8h0M667.9 202.1h0M667.9 193.9h0M667.9 159.3h0M667.9 193.9h0M667.9 203.1h0M667.9 174h0M668 163.2h0M668 162.4h0M668 196.1h0M668 165h0M668 211.1h0M668 204.7h0M668 171.7h0M668 198h0M668 166.9h0M668.1 161h0M668.1 161.5h0M668.1 168.7h0M668.1 201.5h0M668.1 150.6h0M668.1 221.5h0M668.1 182.9h0M668.1 177.8h0M668.1 182h0M668.1 199.4h0M668.2 198h0M668.2 207.2h0M668.2 182.3h0M668.2 196.5h0M668.2 163.9h0M668.2 182.4h0M668.2 170.3h0M668.2 218.1h0M668.2 156.3h0M668.3 185.8h0M668.3 169.9h0M668.3 206.4h0M668.3 183.8h0M668.3 188.8h0M668.3 190.6h0M668.3 173.4h0M668.3 171.5h0M668.3 156.8h0M668.4 160.9h0M668.4 168.4h0M668.4 175.4h0M668.4 181.8h0M668.4 174.5h0M668.4 198.7h0M668.4 181.1h0M668.4 162h0M668.4 156.4h0M668.4 153.6h0M668.5 184.7h0M668.5 195.4h0M668.5 187.7h0M668.5 197.7h0M668.5 158.4h0M668.5 166.8h0M668.5 173.1h0M668.5 153.4h0M668.5 158.4h0M668.6 205.9h0M668.6 175.5h0M668.6 191.3h0M668.6 208.5h0M668.6 156.5h0M668.6 151.9h0M668.6 187.9h0M668.6 157.4h0M668.6 203.7h0M668.7 175.1h0M668.7 155h0M668.7 187.8h0M668.7 181.2h0M668.7 151.9h0M668.7 176h0M668.7 194.9h0M668.7 177.3h0M668.7 188.5h0M668.7 206.3h0M668.8 186.2h0M668.8 180.2h0M668.8 190.8h0M668.8 210.5h0M668.8 181h0M668.8 199.8h0M668.8 169.9h0M668.8 176.5h0M668.8 177.5h0M668.9 180.3h0M668.9 158.1h0M668.9 193.8h0M668.9 166.8h0M668.9 179.9h0M668.9 176.4h0M668.9 187.8h0M668.9 155.5h0M668.9 206.6h0M668.9 178.5h0M669 160.1h0M669 197.3h0M669 157.4h0M669 193.9h0M669 176h0M669 204.8h0M669 158.4h0M669 176.2h0M669 154.9h0M669.1 184.2h0M669.1 155.3h0M669.1 207.5h0M669.1 203.2h0M669.1 192h0M669.1 171.6h0M669.1 177.7h0M669.1 157.5h0M669.1 192.3h0M669.1 180.9h0M669.2 162h0M669.2 167.2h0M669.2 200.1h0M669.2 175.9h0M669.2 172.4h0M669.2 209h0M669.2 211.4h0M669.2 182.2h0M669.2 206.5h0M669.2 207.1h0M669.3 170.3h0M669.3 193.9h0M669.3 168.8h0M669.3 160.1h0M669.3 211.8h0M669.3 183.2h0M669.3 193.8h0M669.3 184.2h0M669.3 168.1h0M669.4 174.8h0M669.4 168.1h0M669.4 204.8h0M669.4 208.2h0M669.4 165.5h0M669.4 202.5h0M669.4 167.4h0M669.4 188.4h0M669.4 217.9h0M669.4 192.9h0M669.5 187.4h0M669.5 174.4h0M669.5 197.3h0M669.5 179.6h0M669.5 202.3h0M669.5 201.2h0M669.5 156.8h0M669.5 180.7h0M669.5 197.2h0M669.6 188.5h0M669.6 196.9h0M669.6 176.3h0M669.6 201.4h0M669.6 171.9h0M669.6 165.4h0M669.6 189.6h0M669.6 190.3h0M669.6 194.9h0M669.6 188.9h0M669.7 171.2h0M669.7 201h0M669.7 210.6h0M669.7 184h0M669.7 195.6h0M669.7 209.4h0M669.7 177.1h0M669.7 157.5h0M669.7 179.7h0M669.7 158h0M669.8 206.9h0M669.8 198h0M669.8 193.2h0M669.8 169.4h0M669.8 188.9h0M669.8 184.9h0M669.8 207.5h0M669.8 174.9h0M669.8 163.9h0M669.8 206.3h0M669.9 201.5h0M669.9 182.4h0M669.9 201.6h0M669.9 178h0M669.9 167.5h0M669.9 195.2h0M669.9 161.3h0M669.9 181.5h0M669.9 177.6h0M670 211.6h0M670 181.9h0M670 168.4h0M670 182.7h0M670 161.6h0M670 192h0M670 175.5h0M670 154.8h0M670 189.3h0M670 158.7h0M670.1 208h0M670.1 184.2h0M670.1 170.9h0M670.1 195.8h0M670.1 177.8h0M670.1 157.5h0M670.1 168.8h0M670.1 183.4h0M670.1 183.5h0M670.1 192.7h0M670.2 212.5h0M670.2 150.8h0M670.2 194.4h0M670.2 175.7h0M670.2 165.8h0M670.2 205.1h0M670.2 186.2h0M670.2 158.9h0M670.2 184.2h0M670.2 208.2h0M670.3 167.2h0M670.3 201.9h0M670.3 194.2h0M670.3 195.3h0M670.3 156.3h0M670.3 183.4h0M670.3 212.3h0M670.3 165.1h0M670.3 175.3h0M670.3 170.7h0M670.4 170.1h0M670.4 163h0M670.4 175h0M670.4 202.3h0M670.4 161h0M670.4 209.9h0M670.4 172h0M670.4 191.7h0M670.4 175.1h0M670.4 185.6h0M670.5 201.2h0M670.5 213.1h0M670.5 208.6h0M670.5 233h0M670.5 183h0M670.5 156.1h0M670.5 201.1h0M670.5 167.1h0M670.5 184.9h0M670.5 171h0M670.6 169.1h0M670.6 180.1h0M670.6 202.7h0M670.6 193.7h0M670.6 156h0M670.6 191.7h0M670.6 154.7h0M670.6 163.7h0M670.6 157.4h0M670.6 170h0M670.7 193.3h0M670.7 184.5h0M670.7 188.5h0M670.7 191.3h0M670.7 236.2h0M670.7 187h0M670.7 180.2h0M670.7 192.5h0M670.7 205.3h0M670.7 180.9h0M670.8 174.5h0M670.8 184.3h0M670.8 156h0M670.8 172.8h0M670.8 169.2h0M670.8 183.7h0M670.8 180.7h0M670.8 217.5h0M670.8 157.9h0M670.8 194.6h0M670.9 211h0M670.9 213h0M670.9 189.5h0M670.9 158.5h0M670.9 199.8h0M670.9 198.9h0M670.9 161h0M670.9 184.9h0M670.9 200.9h0M670.9 188.3h0M671 163.4h0M671 191.9h0M671 191.1h0M671 207.7h0M671 176.9h0M671 165.2h0M671 210.2h0M671 178.1h0M671 198.2h0M671 197.5h0M671.1 203h0M671.1 210.2h0M671.1 151.7h0M671.1 210.2h0M671.1 169.3h0M671.1 188.3h0M671.1 195.4h0M671.1 159.6h0M671.1 197.4h0M671.1 178.4h0M671.2 174.8h0M671.2 185h0M671.2 156.7h0M671.2 182.2h0M671.2 215.6h0M671.2 230.8h0M671.2 164.2h0M671.2 183.4h0M671.2 213.9h0M671.2 209.6h0M671.3 155.6h0M671.3 168.7h0M671.3 159.5h0M671.3 184.4h0M671.3 162.9h0M671.3 200.6h0M671.3 215.1h0M671.3 210.1h0M671.3 199.2h0M671.3 208.8h0M671.4 181.4h0M671.4 167.9h0M671.4 206.5h0M671.4 183.2h0M671.4 201.1h0M671.4 166.8h0M671.4 160.3h0M671.4 203.4h0M671.4 195.4h0M671.4 179h0M671.5 151.6h0M671.5 161.3h0M671.5 169.5h0M671.5 156h0M671.5 179.7h0M671.5 158.3h0M671.5 174.5h0M671.5 158.8h0M671.5 184.7h0M671.5 184.5h0M671.5 190.2h0M671.6 193h0M671.6 161.2h0M671.6 229h0M671.6 170.1h0M671.6 210.2h0M671.6 195.9h0M671.6 181.3h0M671.6 173.8h0M671.6 196.7h0M671.6 197.9h0M671.7 183.5h0M671.7 183.7h0M671.7 199.9h0M671.7 155.9h0M671.7 239.9h0M671.7 192.6h0M671.7 193.8h0M671.7 214.3h0M671.7 204.8h0M671.7 169.7h0M671.8 190.1h0M671.8 202.6h0M671.8 163.7h0M671.8 159.9h0M671.8 170.5h0M671.8 194.9h0M671.8 192.6h0M671.8 210.4h0M671.8 211.2h0M671.8 194.5h0M671.9 200.9h0M671.9 155.6h0M671.9 199h0M671.9 177.8h0M671.9 181.4h0M671.9 201.5h0M671.9 166.1h0M671.9 200.9h0M671.9 210h0M671.9 165.6h0M671.9 162.2h0M672 154.8h0M672 177.5h0M672 167.5h0M672 208.1h0M672 209h0M672 190.5h0M672 195.4h0M672 172.5h0M672 203.7h0M672 208.8h0M672.1 184h0M672.1 215.4h0M672.1 208.8h0M672.1 212.7h0M672.1 198.8h0M672.1 210.7h0M672.1 208.3h0M672.1 192.8h0M672.1 191h0M672.1 214.1h0M672.1 179.5h0M672.2 208.5h0M672.2 204.3h0M672.2 181.5h0M672.2 170h0M672.2 178h0M672.2 166.9h0M672.2 177.1h0M672.2 181h0M672.2 164.9h0M672.2 197.3h0M672.3 203.2h0M672.3 203.2h0M672.3 174.2h0M672.3 198.9h0M672.3 167.4h0M672.3 166.7h0M672.3 166.2h0M672.3 203.4h0M672.3 216.1h0M672.3 206.2h0M672.4 197.9h0M672.4 171.2h0M672.4 212.7h0M672.4 173.7h0M672.4 177.4h0M672.4 180.6h0M672.4 191.7h0M672.4 205.6h0M672.4 180.1h0M672.4 211.4h0M672.4 204.2h0M672.5 214.3h0M672.5 165.6h0M672.5 200.7h0M672.5 210.9h0M672.5 197.5h0M672.5 175.1h0M672.5 164.6h0M672.5 167.6h0M672.5 171.2h0M672.5 187.7h0M672.6 212h0M672.6 174h0M672.6 205.7h0M672.6 213.3h0M672.6 196.9h0M672.6 201.9h0M672.6 186.1h0M672.6 207.4h0M672.6 173h0M672.6 204.2h0M672.6 201.6h0M672.7 176.2h0M672.7 164.2h0M672.7 195.5h0M672.7 205.6h0M672.7 187.1h0M672.7 175.6h0M672.7 184.9h0M672.7 169.5h0M672.7 207h0M672.7 209.1h0M672.7 204.7h0M672.8 195.1h0M672.8 172.4h0M672.8 168.5h0M672.8 184.5h0M672.8 193.4h0M672.8 178h0M672.8 207.5h0M672.8 194.8h0M672.8 167.4h0M672.8 174.7h0M672.9 216.7h0M672.9 209.1h0M672.9 167.9h0M672.9 208.7h0M672.9 182h0M672.9 191.6h0M672.9 171.8h0M672.9 201.1h0M672.9 166h0M672.9 191.3h0M672.9 189.5h0M673 177.8h0M673 185.8h0M673 171.2h0M673 206.1h0M673 182.1h0M673 189.3h0M673 207.7h0M673 192.7h0M673 210.2h0M673 171.1h0M673 176.9h0M673.1 214.6h0M673.1 205.4h0M673.1 191.2h0M673.1 210.2h0M673.1 185.2h0M673.1 209h0M673.1 189.1h0M673.1 206.8h0M673.1 174.8h0M673.1 180.1h0M673.2 204h0M673.2 196.4h0M673.2 170.2h0M673.2 204.1h0M673.2 195.6h0M673.2 190.1h0M673.2 204.5h0M673.2 196.7h0M673.2 167.2h0M673.2 165.4h0M673.2 184.9h0M673.3 200h0M673.3 211.9h0M673.3 177.1h0M673.3 181.3h0M673.3 213.5h0M673.3 189.5h0M673.3 211h0M673.3 203.7h0M673.3 178.2h0M673.3 191.7h0M673.3 193.6h0M673.4 176h0M673.4 190.7h0M673.4 187.2h0M673.4 172.9h0M673.4 201.4h0M673.4 199.4h0M673.4 190.6h0M673.4 210.9h0M673.4 187.7h0M673.4 183.6h0M673.4 185.1h0M673.5 170.8h0M673.5 178.3h0M673.5 179.9h0M673.5 197.1h0M673.5 208.1h0M673.5 207.8h0M673.5 204.6h0M673.5 177.5h0M673.5 196.7h0M673.5 191h0M673.6 212.9h0M673.6 213.5h0M673.6 179.6h0M673.6 206.7h0M673.6 186.5h0M673.6 212.4h0M673.6 172.9h0M673.6 179.8h0M673.6 183.9h0M673.6 166.3h0M673.6 190.2h0M673.7 188.8h0M673.7 197.5h0M673.7 207.9h0M673.7 165.6h0M673.7 193.6h0M673.7 181.3h0M673.7 202.7h0M673.7 188.1h0M673.7 192.4h0M673.7 200.3h0M673.7 168.4h0M673.8 180.7h0M673.8 181.9h0M673.8 186.7h0M673.8 188.4h0M673.8 165.4h0M673.8 183.7h0M673.8 164.7h0M673.8 209.8h0M673.8 213.7h0M673.8 212.4h0M673.8 184h0M673.9 172h0M673.9 197.7h0M673.9 172.8h0M673.9 211.1h0M673.9 214.4h0M673.9 175.1h0M673.9 200.2h0M673.9 174.8h0M673.9 171.8h0M673.9 175.9h0M673.9 176.6h0M674 176.7h0M674 185.6h0M674 167.3h0M674 165h0M674 167.2h0M674 209.1h0M674 178.1h0M674 169.3h0M674 172.1h0M674 166.4h0M674 171.6h0M674.1 198.1h0M674.1 200.7h0M674.1 185h0M674.1 163.2h0M674.1 180.7h0M674.1 165.4h0M674.1 208.8h0M674.1 206.4h0M674.1 174.3h0M674.1 208.5h0M674.1 193.1h0M674.2 186h0M674.2 212.3h0M674.2 210.7h0M674.2 173h0M674.2 162.2h0M674.2 190.1h0M674.2 212.4h0M674.2 213h0M674.2 170.7h0M674.2 214.4h0M674.2 179.9h0M674.3 205.2h0M674.3 209.2h0M674.3 173.5h0M674.3 211.1h0M674.3 207.8h0M674.3 188.3h0M674.3 191.7h0M674.3 204.4h0M674.3 198h0M674.3 184.7h0M674.3 204.5h0M674.4 213.9h0M674.4 197.3h0M674.4 206.7h0M674.4 186.1h0M674.4 204.1h0M674.4 161.5h0M674.4 168.8h0M674.4 202.7h0M674.4 165.4h0M674.4 194.1h0M674.4 175.7h0M674.5 173.6h0M674.5 181.6h0M674.5 190.6h0M674.5 176.2h0M674.5 207.4h0M674.5 169.5h0M674.5 166.6h0M674.5 181.9h0M674.5 210.2h0M674.5 169h0M674.5 169h0M674.6 192h0M674.6 170.5h0M674.6 209.2h0M674.6 193.4h0M674.6 177.3h0M674.6 162.1h0M674.6 212.4h0M674.6 163.9h0M674.6 203.2h0M674.6 183.9h0M674.6 197.4h0M674.6 197.8h0M674.7 186.3h0M674.7 197.9h0M674.7 198h0M674.7 203.1h0M674.7 174.7h0M674.7 172.6h0M674.7 179.6h0M674.7 177.1h0M674.7 210.8h0M674.7 201.8h0M674.7 205.3h0M674.8 162h0M674.8 179.3h0M674.8 207.2h0M674.8 206.8h0M674.8 181.3h0M674.8 164h0M674.8 212.1h0M674.8 211.1h0M674.8 185h0M674.8 169.7h0M674.8 172.4h0M674.9 200.9h0M674.9 214.1h0M674.9 198.9h0M674.9 171h0M674.9 213.7h0M674.9 165.1h0M674.9 196.6h0M674.9 184.7h0M674.9 166.3h0M674.9 190.4h0M674.9 161.7h0M675 165.3h0M675 170.3h0M675 213.1h0M675 197.1h0M675 172.2h0M675 213.2h0M675 194.2h0M675 165.1h0M675 185h0M675 185.3h0M675 156.6h0M675 167.1h0M675.1 190.2h0M675.1 183.1h0M675.1 196.8h0M675.1 212.8h0M675.1 165.7h0" stroke="#000" stroke-width="3.0" stroke-linecap="round" fill="none"/>
<path d="M611.6 107.7V116M635.7 105.9V126M660.1 116.6V134M597.1 114.8V121M667.7 135.5V145" stroke="#000" stroke-width="1.9" fill="none"/>
</g>
<path d="M423.2 100.5 L531 106 L674.6 170.6" stroke="#8a8a8a" stroke-width="1.5" fill="none"/>
<path d="M611.7 252V66.6" stroke="#000" stroke-width="1.6" stroke-dasharray="4.4 1.85"/>
<path d="M635.9 252V66.6" stroke="#000" stroke-width="1.6" stroke-dasharray="4.4 1.85"/>
<path d="M660.1 252V66.6" stroke="#000" stroke-width="1.6" stroke-dasharray="4.4 1.85"/>
<path d="M384.5 270.3H675.1" stroke="#000" stroke-width="1.1"/>
<path d="M384.5 66.6H675.1" stroke="#777" stroke-width="1.1"/>
<path d="M385 66.6V270.3" stroke="#555" stroke-width="1.1"/>
<path d="M674.6 66.6V270.3" stroke="#777" stroke-width="1.1"/>
<path d="M450.9 270.3V273M531.3 270.3V273M611.7 270.3V273M394.7 270.3V273M408.9 270.3V273M418.9 270.3V273M426.7 270.3V273M433.1 270.3V273M438.4 270.3V273M443.1 270.3V273M447.2 270.3V273M475.1 270.3V273M489.3 270.3V273M499.3 270.3V273M507.1 270.3V273M513.5 270.3V273M518.8 270.3V273M523.5 270.3V273M527.6 270.3V273M555.5 270.3V273M569.7 270.3V273M579.7 270.3V273M587.5 270.3V273M593.9 270.3V273M599.2 270.3V273M603.9 270.3V273M608 270.3V273M635.9 270.3V273M650.1 270.3V273M660.1 270.3V273M667.9 270.3V273M674.3 270.3V273" stroke="#000" stroke-width="1"/>
<path d="M91.4 66.6V63.8M181.4 66.6V63.8M271.4 66.6V63.8" stroke="#000" stroke-width="1"/>
<text x="91.6" y="58.7" font-size="14.2" text-anchor="middle" textLength="30.4" lengthAdjust="spacingAndGlyphs">100.0</text>
<text x="181.6" y="58.7" font-size="14.2" text-anchor="middle" textLength="23.6" lengthAdjust="spacingAndGlyphs">10.0</text>
<text x="271.6" y="58.7" font-size="14.2" text-anchor="middle" textLength="16.9" lengthAdjust="spacingAndGlyphs">1.0</text>
<text x="196.1" y="41.1" font-size="19.3" text-anchor="middle" textLength="172" lengthAdjust="spacingAndGlyphs">Period (quarter notes)</text>
<text x="78.5" y="286" font-size="14.2" textLength="13.5" lengthAdjust="spacingAndGlyphs">10</text>
<rect x="92.8" y="278.1" width="6" height="0.8" fill="#000"/>
<text x="99.5" y="280.8" font-size="9.6">2</text>
<text x="168.5" y="286" font-size="14.2" textLength="13.5" lengthAdjust="spacingAndGlyphs">10</text>
<rect x="182.8" y="278.1" width="6" height="0.8" fill="#000"/>
<text x="189.5" y="280.8" font-size="9.6">1</text>
<text x="262.2" y="286" font-size="14.2" textLength="13.5" lengthAdjust="spacingAndGlyphs">10</text>
<text x="275.8" y="280.8" font-size="9.6">0</text>
<text x="195.6" y="312.5" font-size="19.3" text-anchor="middle" textLength="193" lengthAdjust="spacingAndGlyphs">Frequency (1/quarter note)</text>
<text x="28" y="94.2" font-size="14.2" textLength="13.5" lengthAdjust="spacingAndGlyphs">10</text>
<text x="41.5" y="89" font-size="9.6">5</text>
<text x="28" y="141.7" font-size="14.2" textLength="13.5" lengthAdjust="spacingAndGlyphs">10</text>
<text x="41.5" y="136.5" font-size="9.6">3</text>
<text x="28" y="189.2" font-size="14.2" textLength="13.5" lengthAdjust="spacingAndGlyphs">10</text>
<text x="41.5" y="184" font-size="9.6">1</text>
<text x="20.5" y="236.7" font-size="14.2" textLength="13.5" lengthAdjust="spacingAndGlyphs">10</text>
<rect x="34.8" y="228.8" width="6" height="0.8" fill="#000"/>
<text x="41.5" y="231.5" font-size="9.6">1</text>
<text x="271.6" y="262.8" font-size="11" text-anchor="middle">1.0</text>
<text x="298.7" y="262.8" font-size="11" text-anchor="middle">0.5</text>
<text x="325.8" y="262.8" font-size="11" text-anchor="middle">0.25</text>
<path d="M450.9 66.6V63.8M531.3 66.6V63.8M611.7 66.6V63.8" stroke="#000" stroke-width="1"/>
<text x="451.1" y="58.7" font-size="14.2" text-anchor="middle" textLength="30.4" lengthAdjust="spacingAndGlyphs">100.0</text>
<text x="531.5" y="58.7" font-size="14.2" text-anchor="middle" textLength="23.6" lengthAdjust="spacingAndGlyphs">10.0</text>
<text x="611.9" y="58.7" font-size="14.2" text-anchor="middle" textLength="16.9" lengthAdjust="spacingAndGlyphs">1.0</text>
<text x="529.5" y="41.1" font-size="19.3" text-anchor="middle" textLength="172" lengthAdjust="spacingAndGlyphs">Period (quarter notes)</text>
<text x="438" y="286" font-size="14.2" textLength="13.5" lengthAdjust="spacingAndGlyphs">10</text>
<rect x="452.3" y="278.1" width="6" height="0.8" fill="#000"/>
<text x="459" y="280.8" font-size="9.6">2</text>
<text x="518.4" y="286" font-size="14.2" textLength="13.5" lengthAdjust="spacingAndGlyphs">10</text>
<rect x="532.7" y="278.1" width="6" height="0.8" fill="#000"/>
<text x="539.4" y="280.8" font-size="9.6">1</text>
<text x="602.6" y="286" font-size="14.2" textLength="13.5" lengthAdjust="spacingAndGlyphs">10</text>
<text x="616.1" y="280.8" font-size="9.6">0</text>
<text x="529" y="312.5" font-size="19.3" text-anchor="middle" textLength="193" lengthAdjust="spacingAndGlyphs">Frequency (1/quarter note)</text>
<text x="361.4" y="94.2" font-size="14.2" textLength="13.5" lengthAdjust="spacingAndGlyphs">10</text>
<text x="374.9" y="89" font-size="9.6">5</text>
<text x="361.4" y="141.7" font-size="14.2" textLength="13.5" lengthAdjust="spacingAndGlyphs">10</text>
<text x="374.9" y="136.5" font-size="9.6">3</text>
<text x="361.4" y="189.2" font-size="14.2" textLength="13.5" lengthAdjust="spacingAndGlyphs">10</text>
<text x="374.9" y="184" font-size="9.6">1</text>
<text x="353.9" y="236.7" font-size="14.2" textLength="13.5" lengthAdjust="spacingAndGlyphs">10</text>
<rect x="368.2" y="228.8" width="6" height="0.8" fill="#000"/>
<text x="374.9" y="231.5" font-size="9.6">1</text>
<text x="611.9" y="262.8" font-size="11" text-anchor="middle">1.0</text>
<text x="636.1" y="262.8" font-size="11" text-anchor="middle">0.5</text>
<text x="660.3" y="262.8" font-size="11" text-anchor="middle">0.25</text>
<rect x="330.2" y="55.9" width="21.8" height="21.8" rx="3.4" fill="#fff" stroke="#222" stroke-width="1"/>
<text x="341.1" y="70.5" font-size="15" font-weight="bold" text-anchor="middle" textLength="11" lengthAdjust="spacingAndGlyphs">A</text>
<rect x="663.7" y="55.9" width="21.8" height="21.8" rx="3.4" fill="#fff" stroke="#222" stroke-width="1"/>
<text x="674.6" y="70.5" font-size="15" font-weight="bold" text-anchor="middle" textLength="11" lengthAdjust="spacingAndGlyphs">B</text>
<text transform="translate(13.9 159.1) rotate(-90)" font-size="19.3" text-anchor="middle" textLength="70" lengthAdjust="spacingAndGlyphs">Intensity</text>
<rect x="75" y="0.8" width="541.3" height="19" rx="2.5" fill="#fff" stroke="#d0d0d0" stroke-width="1"/>
<path d="M80.1 9.8H100.6" stroke="#222" stroke-width="1.5"/>
<circle cx="90.2" cy="9.8" r="1.7" fill="#100000"/>
<text x="112.2" y="13.6" font-size="11.3" textLength="72" lengthAdjust="spacingAndGlyphs">Estimated PSD</text>
<path d="M212.9 9H235.1" stroke="#333" stroke-width="1.5" stroke-dasharray="5.4 3"/>
<text x="245.5" y="13.6" font-size="11.3" textLength="77.5" lengthAdjust="spacingAndGlyphs">Rhythmic values</text>
<rect x="351.2" y="4.8" width="24.3" height="8.8" fill="#bdbdbd"/>
<path d="M351.2 9.2H375.5" stroke="#333" stroke-width="1.4"/>
<text x="384.7" y="13.6" font-size="11.3" textLength="75" lengthAdjust="spacingAndGlyphs">Fitted spectrum</text>
<rect x="488.6" y="4.8" width="23.4" height="8.4" fill="#ffd0d0"/>
<path d="M489 12.8L496.5 5.3M505 12.8L512 5.8" stroke="#ff2020" stroke-width="1.1"/>
<text x="522.4" y="12.7" font-size="11.5" font-style="italic">f</text>
<path d="M539.8 7L532.8 10.4L539.8 13.8" stroke="#000" stroke-width="0.8" fill="none"/>
<text x="544" y="13.6" font-size="11.3" textLength="49.8" lengthAdjust="spacingAndGlyphs">bandwidth</text>
<text x="596.5" y="13.6" font-size="11.5" font-style="italic" textLength="11.5" lengthAdjust="spacingAndGlyphs">W</text>
</svg></body></html>
